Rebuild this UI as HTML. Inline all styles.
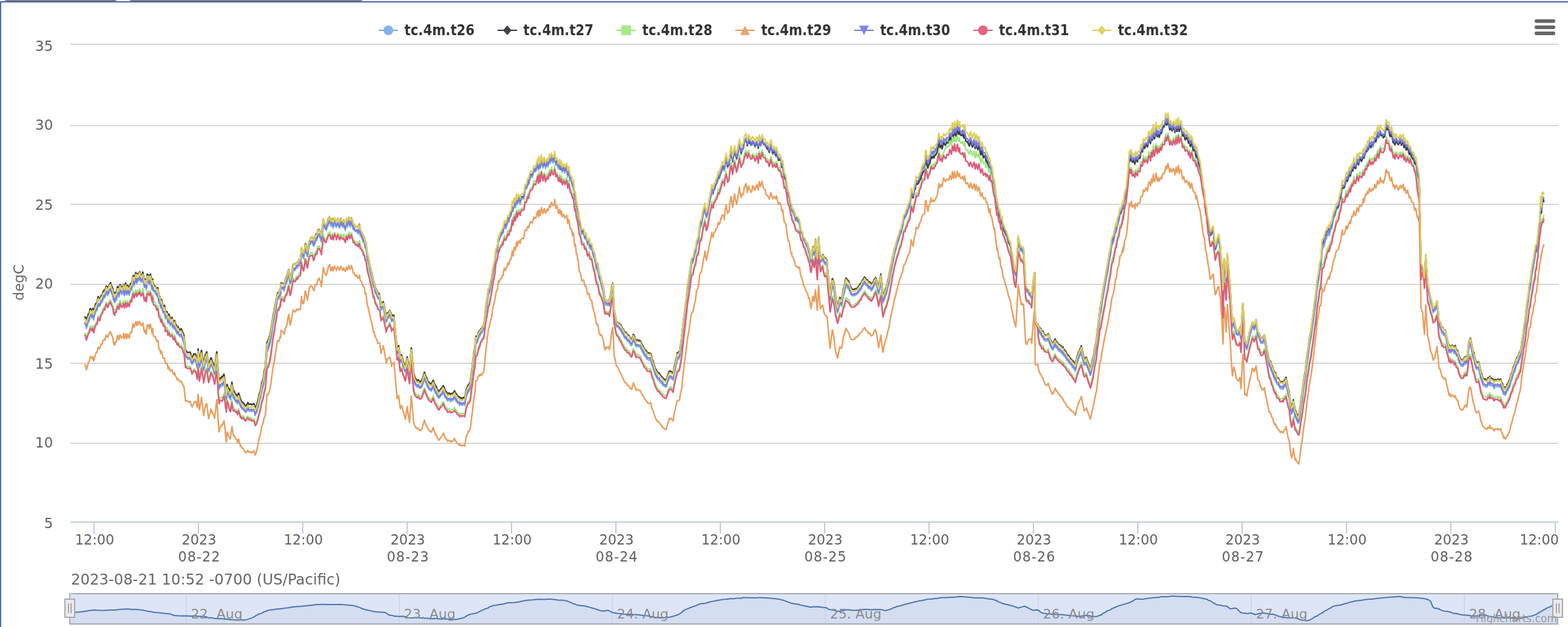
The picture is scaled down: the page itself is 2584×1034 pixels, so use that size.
<!DOCTYPE html>
<html><head><meta charset="utf-8"><title>tc.4m chart</title>
<style>
html,body{margin:0;padding:0;background:#fff;}
body{width:2584px;height:1034px;overflow:hidden;position:relative;}
svg{position:absolute;left:0;top:0;display:block;}
text{font-family:"DejaVu Sans","Liberation Sans",sans-serif;}
</style></head><body>
<svg width="2584" height="1034" viewBox="0 0 2584 1034">
<rect x="0" y="0" width="2584" height="1034" fill="#ffffff"/>

<rect x="3" y="-20" width="194" height="22" rx="9" fill="#808080"/>
<rect x="209" y="-20" width="393" height="22" rx="9" fill="#808080"/>
<rect x="0" y="2" width="2584" height="2" fill="#3d6399"/>
<rect x="0" y="2" width="2" height="1032" fill="#4a6ea3"/>
<rect x="116" y="72" width="2452" height="2" fill="#d5d5d5"/>
<rect x="116" y="206" width="2452" height="2" fill="#d5d5d5"/>
<rect x="116" y="336" width="2452" height="2" fill="#d5d5d5"/>
<rect x="116" y="468" width="2452" height="2" fill="#d5d5d5"/>
<rect x="116" y="598" width="2452" height="2" fill="#d5d5d5"/>
<rect x="116" y="730" width="2452" height="2" fill="#d5d5d5"/>
<rect x="116" y="860" width="2452" height="2" fill="#bfcbdc"/>
<rect x="154" y="862" width="2" height="18" fill="#bfcbdc"/>
<rect x="326" y="862" width="2" height="18" fill="#bfcbdc"/>
<rect x="498" y="862" width="2" height="18" fill="#bfcbdc"/>
<rect x="670" y="862" width="2" height="18" fill="#bfcbdc"/>
<rect x="842" y="862" width="2" height="18" fill="#bfcbdc"/>
<rect x="1014" y="862" width="2" height="18" fill="#bfcbdc"/>
<rect x="1186" y="862" width="2" height="18" fill="#bfcbdc"/>
<rect x="1358" y="862" width="2" height="18" fill="#bfcbdc"/>
<rect x="1530" y="862" width="2" height="18" fill="#bfcbdc"/>
<rect x="1702" y="862" width="2" height="18" fill="#bfcbdc"/>
<rect x="1874" y="862" width="2" height="18" fill="#bfcbdc"/>
<rect x="2046" y="862" width="2" height="18" fill="#bfcbdc"/>
<rect x="2218" y="862" width="2" height="18" fill="#bfcbdc"/>
<rect x="2390" y="862" width="2" height="18" fill="#bfcbdc"/>
<rect x="2562" y="862" width="2" height="18" fill="#bfcbdc"/>
<text x="87.3" y="84.3" font-size="23" fill="#606060" text-anchor="end">35</text>
<text x="87.3" y="214.1" font-size="23" fill="#606060" text-anchor="end">30</text>
<text x="87.3" y="346.1" font-size="23" fill="#606060" text-anchor="end">25</text>
<text x="87.3" y="476.4" font-size="23" fill="#606060" text-anchor="end">20</text>
<text x="87.3" y="608.0" font-size="23" fill="#606060" text-anchor="end">15</text>
<text x="87.3" y="738.1" font-size="23" fill="#606060" text-anchor="end">10</text>
<text x="87.3" y="870.6" font-size="23" fill="#606060" text-anchor="end">5</text>
<text transform="translate(39,466) rotate(-90)" font-size="23" fill="#666666" text-anchor="middle">degC</text>
<text x="156" y="898" font-size="22.4" fill="#606060" text-anchor="middle">12:00</text>
<text x="328" y="898" font-size="22.4" fill="#606060" text-anchor="middle">2023</text>
<text x="328" y="926" font-size="22.4" fill="#606060" text-anchor="middle" textLength="69" lengthAdjust="spacing">08-22</text>
<text x="500" y="898" font-size="22.4" fill="#606060" text-anchor="middle">12:00</text>
<text x="672" y="898" font-size="22.4" fill="#606060" text-anchor="middle">2023</text>
<text x="672" y="926" font-size="22.4" fill="#606060" text-anchor="middle" textLength="69" lengthAdjust="spacing">08-23</text>
<text x="844" y="898" font-size="22.4" fill="#606060" text-anchor="middle">12:00</text>
<text x="1016" y="898" font-size="22.4" fill="#606060" text-anchor="middle">2023</text>
<text x="1016" y="926" font-size="22.4" fill="#606060" text-anchor="middle" textLength="69" lengthAdjust="spacing">08-24</text>
<text x="1188" y="898" font-size="22.4" fill="#606060" text-anchor="middle">12:00</text>
<text x="1360" y="898" font-size="22.4" fill="#606060" text-anchor="middle">2023</text>
<text x="1360" y="926" font-size="22.4" fill="#606060" text-anchor="middle" textLength="69" lengthAdjust="spacing">08-25</text>
<text x="1532" y="898" font-size="22.4" fill="#606060" text-anchor="middle">12:00</text>
<text x="1704" y="898" font-size="22.4" fill="#606060" text-anchor="middle">2023</text>
<text x="1704" y="926" font-size="22.4" fill="#606060" text-anchor="middle" textLength="69" lengthAdjust="spacing">08-26</text>
<text x="1876" y="898" font-size="22.4" fill="#606060" text-anchor="middle">12:00</text>
<text x="2048" y="898" font-size="22.4" fill="#606060" text-anchor="middle">2023</text>
<text x="2048" y="926" font-size="22.4" fill="#606060" text-anchor="middle" textLength="69" lengthAdjust="spacing">08-27</text>
<text x="2220" y="898" font-size="22.4" fill="#606060" text-anchor="middle">12:00</text>
<text x="2392" y="898" font-size="22.4" fill="#606060" text-anchor="middle">2023</text>
<text x="2392" y="926" font-size="22.4" fill="#606060" text-anchor="middle" textLength="69" lengthAdjust="spacing">08-28</text>
<text x="2569" y="898" font-size="22.4" fill="#606060" text-anchor="end">12:00</text>
<g fill="none" stroke-width="2.5" stroke-linejoin="round" stroke-linecap="round">
<path stroke="#7eace4" d="M139.7 534.2L141.2 534.9 142.2 541.7 143.4 538.1 145.8 530.4 147.0 529.5 148.5 521.9 149.2 521.3 151.6 524.3 152.9 520.5 154.4 527.9 154.4 525.7 157.5 514.6 159.6 511.5 159.9 512.1 161.8 502.2 164.1 505.2 164.9 503.2 166.6 499.4 168.3 498.3 169.8 493.0 171.8 490.0 172.6 491.1 175.1 482.2 177.0 485.0 177.4 487.8 180.2 480.4 182.3 478.1 182.5 479.9 185.7 487.3 187.3 495.4 189.3 499.1 189.6 494.0 191.7 495.2 193.6 485.1 194.5 485.4 196.0 489.7 197.7 479.8 200.5 485.8 203.3 482.1 203.4 480.7 204.9 487.8 207.0 478.5 208.8 486.5 210.2 484.0 210.2 480.2 213.1 487.0 213.7 482.8 215.2 478.9 216.7 478.3 219.2 465.4 220.7 467.7 220.9 471.4 223.9 462.0 225.5 467.4 226.8 461.9 227.7 463.0 228.4 462.5 230.2 459.6 232.4 465.3 234.7 462.7 235.4 459.3 238.0 473.7 239.9 472.7 239.9 474.5 241.1 477.6 242.6 464.9 245.1 464.2 245.8 469.7 247.9 463.1 250.5 477.9 251.8 471.6 252.1 477.7 253.1 480.9 256.0 482.6 258.4 488.1 259.1 489.4 260.2 487.2 262.0 500.1 263.4 500.3 264.9 507.6 266.1 508.7 266.2 506.6 269.1 516.5 271.2 516.7 272.7 525.8 273.1 524.1 275.3 524.4 276.9 533.5 278.2 529.6 280.0 534.0 280.6 537.1 283.6 535.1 284.9 541.2 287.0 541.4 287.7 537.6 289.3 546.1 290.7 547.4 291.9 550.7 293.7 549.2 294.0 551.1 296.3 554.9 298.5 554.4 301.0 559.0 301.4 562.3 303.1 565.1 303.5 567.6 304.9 582.9 305.8 589.0 306.6 589.3 307.6 590.6 309.8 592.9 311.6 592.4 312.9 591.8 314.0 593.3 314.7 595.7 316.6 600.8 316.8 598.6 318.6 598.1 319.2 595.2 321.3 595.4 322.1 595.6 322.6 597.1 323.9 599.5 323.9 601.5 325.0 606.7 326.0 595.1 326.5 587.3 327.6 597.6 328.5 606.3 330.5 599.8 332.0 589.8 333.2 596.8 335.5 610.7 335.5 612.0 338.0 599.0 338.4 597.1 340.6 592.8 340.7 591.7 343.4 610.4 343.6 613.3 346.4 605.5 347.4 600.7 347.9 600.0 350.0 606.4 350.4 607.4 351.9 611.0 353.5 618.3 354.0 615.3 356.7 596.4 357.3 592.4 359.7 627.1 359.9 629.4 360.9 642.7 362.4 638.1 363.3 638.4 363.7 637.4 365.6 635.8 366.2 637.1 367.2 634.9 369.1 631.2 370.4 639.0 371.8 652.7 373.0 660.2 373.5 654.0 374.4 645.4 375.4 649.9 376.8 651.8 376.9 653.7 379.7 659.0 379.8 658.7 382.2 643.5 382.2 644.1 383.7 652.8 384.6 657.1 385.9 657.5 387.3 660.7 388.5 662.9 389.7 662.0 391.3 665.5 391.4 666.0 392.6 661.4 393.3 660.4 394.0 663.2 396.3 670.7 396.4 670.2 398.8 674.5 400.1 675.1 400.7 674.7 403.2 678.3 405.0 680.4 405.1 678.7 406.5 678.5 407.9 676.1 408.4 674.6 410.4 678.1 413.4 677.6 413.7 677.0 414.8 678.7 416.2 677.5 418.5 677.5 418.6 676.8 420.5 685.2 421.6 682.0 422.4 682.0 424.6 674.5 425.4 672.0 427.2 662.9 428.6 657.6 429.2 656.3 431.4 644.6 433.1 638.9 434.0 636.1 435.4 625.9 437.0 619.3 437.6 613.7 438.9 594.6 440.0 579.7 441.7 578.0 444.3 568.9 444.7 568.2 447.1 554.5 449.8 535.5 450.5 531.9 451.6 526.9 454.4 510.9 456.1 501.0 456.3 496.8 457.5 492.6 459.5 493.3 461.7 484.8 462.1 488.0 463.3 475.4 463.5 476.6 465.9 475.9 467.9 478.9 468.3 479.7 470.0 470.4 471.4 466.8 472.4 466.7 474.3 456.8 476.0 453.1 477.0 461.7 478.4 468.5 478.8 467.3 481.6 454.6 483.0 445.9 483.6 444.0 485.9 446.1 488.5 441.4 488.8 440.6 490.7 441.4 492.4 436.7 494.7 438.4 495.6 431.3 497.0 415.4 497.0 417.4 498.8 423.7 500.5 426.7 501.1 420.4 502.4 415.5 502.8 411.3 503.9 411.9 506.3 422.7 506.7 423.0 509.5 404.3 511.9 402.5 512.1 399.6 514.9 399.5 516.7 405.9 517.6 405.4 519.4 398.7 521.4 396.6 521.9 396.2 523.8 389.5 526.0 390.2 526.5 390.4 528.5 393.9 529.5 399.2 530.0 394.8 532.9 369.1 533.0 371.5 535.5 377.1 537.7 379.4 538.2 377.1 540.5 372.4 541.2 368.7 543.3 366.5 545.4 373.1 547.0 373.0 547.7 369.8 549.0 375.9 551.4 367.5 554.0 375.1 554.2 375.1 556.8 369.3 559.6 376.4 560.0 374.0 561.8 368.3 562.2 370.3 564.8 375.0 566.2 371.7 569.1 379.9 570.0 374.5 571.1 370.8 572.5 374.3 574.9 366.2 575.8 368.4 577.0 374.6 579.1 368.7 581.6 375.5 582.0 378.6 583.4 378.8 585.9 381.9 587.9 381.4 588.6 382.7 590.2 385.7 592.4 379.1 593.3 386.6 593.8 388.7 596.0 391.8 597.9 396.7 599.0 399.8 600.5 400.4 601.7 408.6 602.6 409.2 603.1 407.7 605.2 425.1 607.2 433.5 608.3 438.7 609.6 446.7 611.9 455.4 612.8 460.0 615.1 471.6 616.5 474.5 616.5 473.6 618.6 483.5 620.2 485.1 621.2 487.8 622.8 491.8 625.1 493.4 625.8 495.5 626.9 504.1 628.1 511.5 628.6 508.7 631.5 509.2 631.6 506.0 634.2 520.2 636.3 530.0 636.3 531.3 638.3 525.4 641.0 523.8 642.1 519.4 644.1 524.2 645.5 530.2 645.6 529.1 647.0 529.1 648.9 529.9 649.1 527.6 649.7 532.8 650.7 544.6 651.2 548.0 652.5 564.6 652.6 563.7 653.8 575.9 654.5 581.7 655.4 583.1 657.0 578.3 657.4 581.0 659.4 597.0 660.1 598.0 661.8 594.3 662.5 596.5 663.8 603.2 664.2 604.4 665.1 606.2 667.2 612.3 668.1 614.1 670.1 602.1 671.0 595.9 673.1 609.4 674.9 618.4 675.1 616.5 677.8 583.2 678.0 586.9 679.3 598.6 681.1 619.4 681.6 626.0 683.1 631.8 684.9 635.8 685.8 636.4 687.7 638.5 689.1 636.9 689.3 637.1 691.6 640.5 693.0 639.7 693.2 640.0 695.5 637.6 696.5 633.9 698.3 628.6 699.4 625.3 701.4 630.5 703.1 633.9 703.4 635.2 704.9 639.3 707.2 642.4 707.9 643.2 710.5 644.3 710.8 645.0 713.8 638.4 714.0 638.7 716.3 645.4 717.9 648.8 718.9 648.5 720.8 654.0 722.4 655.0 722.9 656.9 724.2 656.1 726.8 651.7 727.0 652.3 728.7 650.6 730.3 647.5 731.3 648.8 733.5 655.2 734.4 656.9 735.6 656.9 737.7 661.4 738.7 660.3 740.2 659.2 742.4 661.4 742.6 662.5 743.9 660.4 745.9 660.5 747.0 658.9 749.2 656.4 749.2 657.5 751.0 660.5 752.6 662.1 753.3 664.0 755.0 665.1 757.0 665.8 757.5 668.4 758.4 667.3 759.7 666.7 761.6 668.5 761.7 667.8 764.0 666.2 765.7 668.4 766.3 665.5 768.2 654.6 769.3 651.7 771.5 646.1 772.3 646.4 774.8 641.4 775.4 637.7 777.2 622.0 778.2 615.8 780.3 597.5 780.5 595.1 782.6 583.5 784.1 566.1 784.6 566.7 786.6 565.2 787.9 559.5 790.0 554.9 790.6 554.8 792.3 550.3 793.6 549.9 795.7 545.3 797.0 544.2 798.4 534.8 800.4 515.1 801.6 507.6 802.4 503.4 804.9 485.2 806.4 483.7 807.6 476.5 808.6 471.7 810.0 465.6 812.3 451.3 815.2 436.6 815.6 434.1 817.2 417.7 820.0 410.2 821.3 397.4 822.5 397.6 822.6 396.1 824.9 390.0 826.6 388.3 827.9 383.9 829.3 384.3 829.6 380.1 831.3 372.6 833.2 377.1 835.5 371.6 836.6 365.2 838.5 366.1 840.4 357.3 842.0 356.9 843.6 347.8 844.3 341.4 845.5 349.1 847.5 334.8 849.3 342.7 850.5 335.0 851.3 329.0 852.6 337.0 854.9 329.6 857.4 337.1 857.5 331.1 860.1 328.0 863.2 327.4 864.5 319.2 865.1 312.2 867.6 311.6 869.7 303.0 871.3 304.9 871.5 302.7 874.3 292.2 877.0 292.3 880.1 281.8 880.8 283.0 882.9 283.0 886.0 270.5 887.4 280.7 888.6 267.2 890.1 275.9 890.2 277.7 892.3 264.9 894.8 277.1 896.9 268.2 899.1 277.7 901.8 270.7 901.9 270.1 903.2 275.0 905.8 263.4 907.1 269.1 908.8 261.4 911.4 268.7 913.4 265.3 914.0 257.2 916.0 272.5 917.8 269.9 920.6 278.9 922.4 274.2 923.6 280.0 925.1 277.4 925.3 275.9 926.6 284.6 929.4 278.3 930.8 285.2 934.0 278.9 935.6 291.6 936.7 283.6 937.4 283.6 939.8 298.5 941.6 298.5 943.6 308.2 943.7 304.5 945.0 306.8 947.0 325.4 948.2 325.5 949.9 341.1 950.7 340.8 952.9 354.4 954.6 368.6 956.4 373.4 957.7 378.1 958.9 386.2 961.9 385.7 963.7 393.8 964.7 392.0 965.6 392.6 968.3 403.8 971.1 400.4 971.6 409.1 973.5 411.4 975.0 409.3 976.6 417.4 978.6 424.2 979.3 424.5 981.9 437.7 983.3 445.0 984.9 445.5 987.7 460.1 989.7 465.2 990.3 467.8 991.2 471.7 994.2 482.8 996.8 500.8 997.3 503.1 999.1 502.3 1001.7 503.8 1003.7 500.4 1004.3 504.4 1005.5 497.9 1007.9 481.1 1009.8 475.0 1010.1 479.9 1012.1 519.3 1012.7 521.5 1015.7 537.5 1016.4 538.9 1018.6 539.5 1020.6 542.6 1020.7 542.3 1022.6 544.6 1024.9 548.5 1025.6 550.3 1027.6 553.0 1028.2 555.8 1030.4 558.5 1031.8 557.9 1032.4 559.2 1033.9 562.9 1036.1 563.2 1037.8 565.9 1038.9 568.9 1041.0 570.0 1041.9 566.1 1043.4 563.2 1043.7 560.9 1045.8 565.0 1048.3 572.1 1048.4 571.7 1049.8 570.4 1052.7 571.9 1053.8 571.9 1055.0 572.1 1058.1 579.5 1059.1 580.9 1059.7 581.7 1061.9 586.1 1063.8 588.4 1065.5 590.2 1066.3 592.3 1068.7 593.5 1070.9 594.3 1071.9 592.8 1072.7 595.1 1074.9 603.9 1076.2 606.4 1076.9 608.9 1079.9 618.5 1081.5 621.5 1082.0 622.2 1084.1 626.4 1085.9 626.3 1086.9 628.4 1087.6 629.9 1090.7 632.5 1092.2 634.9 1092.5 635.4 1095.4 637.2 1097.5 638.3 1097.8 638.3 1101.0 628.4 1102.5 624.7 1102.9 623.3 1105.6 622.7 1106.1 623.8 1108.4 625.4 1109.3 627.1 1110.7 617.7 1112.5 610.9 1113.3 606.3 1115.7 595.3 1116.0 593.2 1118.0 592.9 1120.0 589.2 1120.5 583.9 1122.2 575.5 1123.2 569.2 1123.4 565.6 1126.0 543.6 1126.4 538.8 1128.1 525.3 1129.6 514.8 1130.0 509.3 1131.1 500.1 1132.9 481.2 1135.7 464.6 1138.9 440.5 1140.0 434.7 1141.9 433.2 1145.0 418.6 1145.8 417.9 1146.5 417.5 1148.0 405.0 1149.7 401.3 1151.6 394.5 1151.6 391.2 1153.1 379.9 1153.1 377.1 1154.6 373.1 1155.8 373.0 1156.2 370.7 1158.9 354.2 1159.3 353.8 1160.8 348.9 1161.6 342.8 1163.2 353.5 1164.0 359.3 1165.3 356.2 1167.1 348.2 1168.0 341.6 1170.2 328.2 1170.8 327.6 1172.5 317.4 1172.8 314.6 1175.1 321.0 1175.6 318.6 1176.5 312.4 1178.2 312.4 1178.7 308.0 1179.9 305.7 1181.7 302.3 1181.8 302.6 1183.6 292.6 1184.9 294.9 1185.9 293.3 1187.8 284.7 1188.0 286.5 1189.6 281.7 1190.4 275.2 1192.5 280.2 1193.5 280.7 1193.7 282.3 1194.9 271.3 1196.2 267.1 1196.6 262.8 1198.9 275.4 1199.2 276.8 1201.6 272.0 1202.0 267.7 1204.3 251.9 1205.1 251.8 1207.4 267.6 1207.5 263.7 1209.0 257.0 1210.6 247.8 1212.1 256.6 1213.7 261.5 1213.8 263.4 1216.0 253.7 1216.8 247.0 1218.6 239.1 1219.1 241.6 1221.4 254.2 1221.4 253.6 1223.1 248.4 1224.5 246.9 1225.2 244.8 1226.5 236.1 1227.6 232.5 1228.3 232.9 1229.2 229.1 1231.4 238.2 1231.5 239.6 1233.9 229.7 1234.4 236.7 1236.8 236.6 1237.0 240.1 1239.6 239.2 1240.1 235.2 1242.6 237.2 1243.2 240.3 1244.5 243.3 1246.3 237.9 1247.6 236.3 1249.4 245.0 1249.7 244.3 1251.2 232.3 1253.5 241.2 1255.9 230.0 1256.4 233.9 1258.5 239.1 1261.0 239.2 1262.3 242.9 1264.1 245.8 1264.8 244.0 1267.8 251.7 1270.3 240.9 1271.9 248.3 1273.5 254.8 1275.7 250.1 1278.5 258.6 1279.6 251.4 1280.0 252.3 1283.0 264.6 1285.1 262.3 1287.4 266.8 1288.0 276.1 1289.9 271.3 1292.3 291.0 1293.2 293.9 1295.2 297.3 1297.8 316.8 1299.0 322.4 1300.3 324.1 1303.4 340.9 1304.8 342.7 1304.9 348.0 1306.2 350.1 1308.5 354.1 1310.7 362.1 1311.6 364.6 1314.2 364.4 1316.0 367.6 1316.5 368.1 1317.4 368.9 1319.5 381.6 1320.0 385.2 1321.7 386.4 1323.8 395.7 1324.4 396.5 1326.3 398.7 1328.0 403.7 1328.7 405.2 1331.0 409.5 1332.7 417.2 1333.1 416.5 1334.2 420.7 1336.1 432.2 1336.7 433.8 1339.1 416.6 1339.6 413.6 1340.6 419.9 1341.8 421.5 1342.4 416.1 1344.0 404.2 1345.5 423.4 1346.9 436.9 1347.3 428.1 1349.1 400.4 1350.2 414.7 1351.5 426.9 1352.0 433.3 1354.5 430.4 1355.6 427.1 1356.2 427.6 1357.7 432.7 1359.3 435.9 1360.4 435.1 1362.9 438.8 1363.6 447.9 1364.4 458.2 1366.7 482.2 1368.0 496.0 1369.4 486.3 1371.7 471.6 1372.5 471.9 1374.6 479.9 1375.6 488.2 1377.5 502.4 1377.9 503.5 1379.4 512.1 1380.4 515.8 1382.3 508.1 1384.0 501.3 1384.3 502.1 1386.1 502.7 1386.9 504.8 1388.3 497.0 1389.6 488.8 1390.8 485.1 1391.3 483.7 1392.6 477.4 1394.2 471.7 1395.0 472.6 1397.7 476.0 1399.3 477.0 1400.8 482.1 1402.9 486.2 1403.6 487.5 1406.7 487.5 1408.8 487.8 1409.2 486.6 1411.8 485.6 1413.1 484.8 1414.2 482.1 1415.6 482.1 1416.9 479.0 1418.9 477.0 1419.6 475.5 1421.2 471.7 1424.0 468.2 1424.8 466.7 1426.1 468.5 1427.3 470.9 1429.7 472.0 1430.6 475.2 1431.8 475.8 1433.1 474.5 1434.8 478.0 1436.4 479.7 1436.6 477.8 1438.5 476.4 1441.1 469.8 1442.7 468.5 1442.9 466.6 1444.8 472.1 1447.2 482.2 1448.0 485.2 1450.3 471.8 1451.7 464.4 1451.7 465.4 1453.1 478.8 1454.6 494.6 1455.3 499.4 1456.3 496.5 1457.8 493.3 1459.2 487.5 1459.7 487.6 1460.8 484.7 1462.4 476.9 1464.0 471.3 1464.6 469.1 1467.1 454.1 1468.4 448.2 1469.0 445.2 1469.6 442.9 1470.5 435.8 1471.9 431.5 1473.7 421.3 1474.9 416.6 1475.2 416.5 1477.4 407.2 1480.3 397.9 1480.3 398.9 1482.9 388.8 1484.5 385.6 1485.6 382.3 1485.8 378.6 1487.2 376.7 1489.2 363.1 1489.9 362.3 1491.2 360.6 1493.7 353.9 1495.1 352.3 1495.2 349.7 1496.8 345.8 1499.4 340.7 1499.4 339.6 1501.6 321.5 1501.7 319.4 1503.9 326.5 1504.8 326.3 1506.9 315.2 1508.4 311.7 1510.0 299.9 1510.1 303.2 1512.3 301.6 1514.4 299.4 1514.6 296.1 1517.8 290.2 1518.6 284.9 1520.9 278.0 1523.3 277.6 1524.0 276.1 1525.0 259.3 1526.0 257.5 1528.6 271.0 1529.3 273.0 1530.1 268.6 1532.5 263.7 1534.3 252.9 1534.6 255.1 1536.2 255.0 1537.7 252.8 1539.0 255.9 1540.0 252.7 1541.9 249.6 1543.2 246.0 1544.5 244.2 1547.2 229.2 1547.4 231.7 1549.0 238.8 1551.0 235.3 1551.7 238.1 1552.6 240.8 1555.0 231.0 1557.8 234.9 1560.0 230.8 1560.6 229.7 1563.7 232.0 1564.2 224.8 1565.4 222.5 1568.0 228.2 1569.4 216.0 1571.7 224.2 1573.1 211.2 1574.1 220.7 1575.4 222.9 1577.7 211.3 1579.6 219.8 1581.5 213.5 1581.5 220.4 1584.1 222.4 1586.3 218.9 1588.3 226.5 1588.9 225.5 1589.7 219.3 1591.5 232.8 1594.4 235.0 1597.5 240.5 1598.8 234.5 1599.5 232.2 1602.4 242.2 1605.4 233.5 1607.0 245.5 1608.7 238.8 1608.7 235.8 1611.3 246.4 1613.1 237.8 1616.3 254.5 1618.2 248.0 1618.6 250.3 1620.8 257.1 1623.5 255.9 1625.1 263.2 1626.0 261.8 1628.0 266.2 1629.9 275.7 1631.3 269.6 1632.6 280.6 1633.4 278.9 1634.7 283.4 1637.2 300.1 1638.4 306.0 1638.9 305.8 1641.8 329.5 1643.3 338.8 1643.5 335.4 1646.4 353.7 1647.7 351.8 1649.4 365.7 1650.7 364.4 1650.9 362.8 1653.0 375.5 1654.9 378.2 1656.9 384.6 1658.2 386.3 1659.8 389.6 1662.2 400.6 1664.6 405.0 1665.6 409.0 1666.6 416.6 1669.4 433.0 1670.5 440.9 1671.6 449.1 1674.0 455.1 1674.3 451.1 1677.3 409.6 1677.9 397.4 1679.7 403.3 1681.8 413.3 1682.9 414.4 1683.5 412.0 1686.6 419.1 1686.8 415.4 1689.3 458.9 1690.3 474.9 1692.1 481.7 1693.7 482.3 1695.2 482.8 1695.8 487.1 1698.8 488.5 1700.2 492.9 1700.5 489.9 1703.3 460.8 1705.1 449.5 1705.6 492.5 1706.0 531.5 1707.2 532.1 1709.2 536.4 1710.5 538.2 1711.0 543.7 1713.1 549.2 1715.7 552.4 1717.0 556.1 1717.6 556.0 1718.8 555.9 1721.5 562.1 1722.5 562.1 1723.1 562.3 1725.4 562.3 1727.5 559.6 1728.2 561.9 1730.5 569.3 1732.0 572.5 1734.1 576.5 1735.0 576.8 1737.7 571.7 1739.0 568.5 1740.0 572.5 1741.9 574.0 1744.3 578.0 1745.6 578.8 1746.2 578.0 1747.7 580.9 1749.1 581.1 1750.4 583.7 1752.0 583.3 1752.2 584.9 1753.6 587.1 1756.1 589.4 1758.5 594.2 1758.8 595.0 1760.9 596.2 1763.7 600.5 1765.1 601.6 1767.1 604.5 1767.1 605.5 1768.4 606.0 1770.5 609.1 1771.8 610.7 1772.0 611.9 1773.2 607.7 1774.6 600.4 1776.5 594.3 1777.0 592.7 1779.3 587.3 1781.0 585.0 1781.9 581.7 1783.7 590.0 1785.4 597.4 1786.9 602.6 1787.2 602.5 1789.3 601.1 1790.2 599.0 1790.6 601.0 1792.7 608.4 1795.1 613.9 1796.8 619.3 1798.0 615.7 1799.3 609.1 1801.7 599.9 1802.1 597.4 1804.4 583.1 1806.7 573.0 1806.8 570.5 1808.1 558.2 1811.0 537.2 1812.8 518.8 1813.9 516.8 1815.1 507.2 1817.4 492.3 1820.4 475.9 1821.3 470.0 1822.8 461.4 1826.0 445.7 1827.6 432.3 1830.2 420.2 1831.2 410.4 1832.5 404.5 1834.7 400.2 1837.2 388.0 1838.7 380.4 1839.5 383.4 1841.4 371.5 1843.8 364.8 1845.2 356.1 1845.5 353.1 1847.4 352.6 1849.5 344.7 1851.1 336.6 1851.1 344.5 1853.4 325.7 1856.0 316.1 1856.6 308.7 1857.4 301.2 1859.2 284.0 1860.5 264.9 1861.4 258.0 1862.9 262.5 1864.3 257.1 1866.0 267.9 1867.6 266.4 1868.1 263.2 1870.2 269.1 1871.4 261.0 1874.5 266.2 1875.0 261.3 1876.2 259.1 1878.6 259.3 1880.2 247.9 1882.4 249.7 1882.6 250.0 1884.5 238.7 1886.4 244.0 1888.5 239.1 1889.7 238.4 1890.9 241.6 1893.3 229.7 1895.3 232.3 1895.9 237.2 1897.6 223.8 1899.0 231.4 1900.7 218.4 1900.8 224.9 1902.6 229.4 1905.0 213.3 1907.0 224.8 1908.2 218.9 1908.8 219.2 1910.2 225.1 1912.6 218.2 1914.0 220.6 1915.5 213.3 1916.3 210.7 1918.8 209.8 1921.3 199.3 1921.8 202.7 1922.8 205.9 1924.7 198.1 1927.8 214.1 1928.4 210.6 1929.2 209.5 1931.7 214.9 1933.8 209.2 1935.8 213.9 1936.2 217.6 1938.2 205.0 1939.7 214.9 1942.0 203.4 1943.2 214.2 1943.2 215.5 1946.1 206.3 1948.9 222.9 1950.5 221.2 1950.9 219.5 1953.2 226.9 1955.4 225.5 1957.9 228.9 1958.6 233.1 1959.9 230.3 1961.7 239.6 1963.7 231.8 1965.3 239.5 1966.4 245.9 1969.1 245.4 1971.2 256.7 1972.4 249.4 1972.6 253.3 1974.9 265.3 1976.9 270.9 1978.2 275.8 1978.3 277.8 1980.8 295.4 1981.9 302.9 1982.9 312.0 1984.7 317.2 1985.5 327.3 1986.4 337.2 1988.7 347.3 1989.2 355.5 1990.4 362.2 1990.7 367.1 1992.3 373.0 1992.6 376.5 1994.5 388.5 1995.4 388.6 1997.0 386.3 1997.6 382.1 1999.3 382.8 1999.4 380.6 2000.9 396.4 2001.5 400.4 2002.8 412.3 2004.6 406.7 2005.2 403.1 2007.5 397.6 2008.6 395.7 2010.1 408.3 2011.0 413.4 2013.0 443.6 2013.1 444.4 2015.5 491.6 2015.8 483.0 2016.9 439.5 2018.3 439.9 2018.8 442.0 2020.4 465.0 2020.7 468.0 2021.9 442.6 2022.7 426.7 2024.5 446.0 2024.6 446.8 2026.1 468.5 2027.0 476.3 2027.2 480.0 2029.5 518.8 2030.2 528.7 2031.1 540.3 2032.0 536.6 2033.4 531.9 2034.9 540.3 2036.6 546.5 2037.3 551.2 2039.7 552.9 2041.1 553.2 2042.9 547.5 2043.5 547.1 2044.2 554.4 2045.0 560.6 2046.0 544.7 2048.1 509.5 2049.2 523.1 2049.7 527.2 2051.2 571.2 2052.3 571.1 2054.9 576.6 2055.1 575.3 2056.4 568.8 2057.6 564.2 2059.3 554.7 2059.8 554.2 2062.4 545.2 2063.7 539.0 2065.2 539.8 2066.8 544.2 2067.2 543.3 2069.9 536.5 2069.9 535.3 2072.9 555.7 2073.0 555.8 2074.7 556.8 2077.7 565.8 2079.2 566.2 2079.4 566.3 2081.3 565.8 2082.6 562.0 2083.9 559.8 2084.1 562.4 2086.4 574.4 2087.0 578.1 2087.7 582.2 2089.9 593.4 2091.5 603.4 2091.6 604.3 2094.2 606.5 2094.8 610.4 2095.6 612.6 2097.3 615.9 2099.0 622.5 2101.4 627.2 2101.8 626.2 2104.2 633.7 2106.9 635.4 2108.8 638.5 2109.6 641.2 2112.1 640.4 2114.0 640.5 2114.4 642.1 2116.3 637.5 2117.9 637.7 2119.3 633.7 2120.8 641.2 2122.8 650.8 2124.5 656.2 2125.3 661.6 2126.6 673.9 2128.0 681.7 2128.6 682.9 2130.0 679.5 2131.5 670.4 2131.9 674.1 2134.5 688.8 2135.0 687.8 2136.4 691.6 2139.0 697.8 2140.2 697.8 2140.4 695.8 2142.4 684.9 2144.4 668.5 2145.5 663.8 2146.6 654.7 2148.3 641.5 2150.7 626.4 2150.9 625.4 2153.9 599.1 2156.0 586.0 2156.7 580.2 2157.9 569.9 2160.1 559.6 2161.2 552.0 2162.0 545.2 2164.4 528.4 2165.7 516.6 2166.5 511.6 2168.4 496.8 2170.4 477.3 2171.7 468.6 2173.5 460.2 2174.7 446.4 2176.8 442.4 2176.9 437.2 2178.9 410.2 2179.0 410.9 2181.8 406.4 2184.5 395.2 2186.1 393.2 2186.4 389.5 2187.9 387.5 2190.0 382.4 2190.6 388.7 2192.6 377.6 2194.3 378.3 2194.8 374.3 2197.4 360.4 2199.6 356.7 2200.3 353.9 2202.2 345.4 2204.5 343.5 2206.0 339.3 2207.6 329.0 2209.2 325.4 2212.2 306.4 2212.4 311.2 2215.2 309.2 2217.8 299.5 2218.8 293.9 2220.4 299.3 2223.0 289.3 2225.2 284.5 2225.3 291.4 2227.6 281.0 2229.2 281.9 2231.5 271.0 2231.6 276.5 2234.1 277.6 2236.3 266.0 2238.8 272.8 2239.6 266.8 2240.9 262.7 2243.7 266.3 2246.0 260.8 2246.4 258.3 2247.8 261.3 2250.5 250.8 2252.3 250.7 2252.4 249.1 2253.6 245.2 2255.1 248.0 2256.9 237.8 2258.8 243.9 2259.2 243.4 2261.0 238.1 2262.6 242.3 2265.2 233.6 2265.4 232.2 2267.3 234.5 2270.3 222.4 2272.0 227.5 2273.9 222.3 2274.5 218.2 2276.5 224.2 2279.4 223.7 2279.6 227.3 2281.9 224.6 2284.4 207.9 2285.8 210.5 2286.0 212.1 2288.5 211.2 2290.4 222.8 2292.4 224.2 2293.1 219.9 2296.0 235.7 2297.4 231.4 2298.7 238.2 2300.4 231.0 2301.4 233.3 2304.5 238.5 2307.5 233.0 2308.4 233.0 2309.6 237.3 2312.4 230.6 2313.7 240.6 2315.0 236.3 2316.4 240.6 2317.4 244.8 2319.6 240.3 2322.5 251.4 2322.8 250.5 2324.1 247.0 2326.3 255.6 2329.2 259.1 2329.4 258.4 2331.3 267.3 2332.4 266.0 2333.3 268.2 2335.5 282.9 2335.7 286.4 2338.6 300.3 2338.9 309.5 2340.2 363.7 2340.4 377.0 2341.7 442.1 2343.0 441.7 2344.8 443.1 2345.0 445.4 2347.0 460.8 2347.3 463.9 2348.8 439.4 2349.5 423.9 2350.9 445.8 2352.6 474.2 2353.2 478.7 2355.2 484.8 2357.3 496.9 2357.4 497.9 2359.9 504.7 2361.9 515.4 2362.8 514.1 2365.0 512.3 2365.1 511.5 2367.1 506.9 2368.1 503.2 2370.2 524.1 2371.2 536.0 2371.8 538.6 2373.1 540.1 2375.9 548.3 2376.1 549.8 2377.8 549.1 2379.3 553.0 2381.3 553.2 2382.1 553.4 2383.2 559.6 2385.1 568.5 2386.8 575.0 2388.0 581.7 2389.3 577.0 2389.8 580.2 2391.2 581.8 2392.9 577.8 2396.0 581.1 2396.3 583.3 2398.0 579.8 2399.9 586.4 2402.7 588.4 2403.3 593.7 2405.8 600.1 2408.0 603.6 2408.5 603.9 2410.8 604.4 2412.5 601.0 2413.8 598.3 2414.4 600.7 2416.8 597.5 2417.3 600.3 2418.5 591.3 2420.2 576.6 2421.8 569.9 2422.5 568.3 2423.5 569.3 2426.4 583.9 2427.7 591.2 2429.2 592.9 2430.6 601.9 2432.5 606.9 2433.0 608.8 2435.2 609.1 2436.5 607.3 2438.1 613.7 2440.4 625.6 2441.7 627.9 2443.0 632.2 2444.7 636.4 2447.5 636.8 2448.7 637.9 2450.3 638.6 2452.3 634.2 2454.0 634.8 2455.3 631.0 2455.7 636.2 2457.7 635.1 2460.2 636.2 2461.4 639.7 2462.6 640.7 2463.6 636.8 2466.7 637.8 2467.9 636.7 2468.0 636.3 2469.5 637.7 2470.8 637.2 2472.8 639.2 2473.1 636.7 2474.8 643.1 2476.6 645.6 2477.8 650.6 2479.1 649.1 2480.7 652.0 2481.8 649.5 2483.8 644.5 2485.0 643.7 2486.7 638.7 2487.1 639.8 2488.7 634.1 2489.9 628.8 2491.7 625.7 2494.0 616.3 2494.1 616.0 2496.5 612.0 2498.9 602.6 2501.0 599.8 2501.4 599.9 2503.9 592.4 2505.1 591.1 2506.3 585.8 2507.6 574.7 2510.0 560.3 2511.5 547.7 2511.6 548.0 2513.7 534.4 2515.4 517.3 2516.7 506.5 2518.3 498.4 2520.1 480.7 2521.6 477.0 2522.0 473.2 2524.4 453.9 2525.5 449.1 2526.4 443.2 2527.1 438.4 2530.0 422.8 2530.0 418.1 2532.2 415.3 2532.6 411.5 2534.4 396.8 2534.6 392.5 2535.9 380.6 2536.7 374.9 2537.3 370.7 2538.8 341.0 2539.1 342.7 2540.2 350.7 2541.4 337.3 2541.7 332.9 2543.1 331.9 2544.1 332.9"/>
<path stroke="#3c3b42" d="M139.7 522.9L141.2 523.3 142.2 529.3 143.4 525.4 145.8 517.4 147.0 516.4 148.5 508.9 149.2 509.3 151.6 513.1 152.9 508.5 154.4 515.1 154.4 513.7 157.5 501.3 159.6 499.4 159.9 498.2 161.8 489.1 164.1 493.8 164.9 492.3 166.6 487.6 168.3 487.3 169.8 481.3 171.8 478.3 172.6 479.7 175.1 471.6 177.0 473.7 177.4 475.3 180.2 469.7 182.3 466.1 182.5 468.9 185.7 475.3 187.3 484.3 189.3 488.5 189.6 482.1 191.7 482.8 193.6 472.6 194.5 472.8 196.0 477.0 197.7 469.2 200.5 475.3 203.3 469.9 203.4 469.2 204.9 477.3 207.0 466.6 208.8 476.1 210.2 472.0 210.2 470.6 213.1 474.1 213.7 472.6 215.2 467.4 216.7 468.8 219.2 455.0 220.7 454.7 220.9 459.4 223.9 449.4 225.5 456.1 226.8 451.3 227.7 451.3 228.4 451.2 230.2 448.1 232.4 453.6 234.7 452.4 235.4 448.7 238.0 463.1 239.9 460.6 239.9 461.3 241.1 466.0 242.6 452.1 245.1 453.8 245.8 460.0 247.9 452.0 250.5 464.9 251.8 460.2 252.1 465.2 253.1 469.3 256.0 472.6 258.4 476.8 259.1 475.9 260.2 474.3 262.0 487.7 263.4 489.1 264.9 495.7 266.1 496.2 266.2 493.8 269.1 506.3 271.2 503.6 272.7 514.1 273.1 514.0 275.3 514.0 276.9 522.6 278.2 518.0 280.0 523.6 280.6 525.9 283.6 523.6 284.9 530.4 287.0 531.3 287.7 528.4 289.3 534.7 290.7 536.1 291.9 539.8 293.7 538.8 294.0 540.8 296.3 544.3 298.5 542.1 301.0 547.6 301.4 548.8 303.1 552.6 303.5 556.2 304.9 570.4 305.8 578.3 306.6 578.1 307.6 580.5 309.8 581.2 311.6 580.9 312.9 580.5 314.0 582.1 314.7 585.9 316.6 590.3 316.8 588.0 318.6 586.3 319.2 583.7 321.3 583.5 322.1 583.8 322.6 586.1 323.9 588.4 323.9 589.2 325.0 594.4 326.0 583.6 326.5 575.5 327.6 584.8 328.5 593.3 330.5 585.8 332.0 577.7 333.2 585.3 335.5 598.3 335.5 599.6 338.0 587.1 338.4 585.4 340.6 580.7 340.7 580.2 343.4 599.7 343.6 602.2 346.4 594.2 347.4 590.6 347.9 590.0 350.0 596.4 350.4 597.1 351.9 600.9 353.5 606.8 354.0 604.5 356.7 583.8 357.3 580.2 359.7 613.7 359.9 615.6 360.9 628.6 362.4 623.8 363.3 624.0 363.7 624.1 365.6 620.9 366.2 622.3 367.2 620.6 369.1 617.0 370.4 625.8 371.8 639.7 373.0 647.6 373.5 642.0 374.4 634.1 375.4 638.0 376.8 640.2 376.9 640.3 379.7 646.1 379.8 645.5 382.2 630.3 382.2 631.1 383.7 639.9 384.6 643.8 385.9 644.9 387.3 648.8 388.5 651.1 389.7 650.7 391.3 653.8 391.4 654.4 392.6 648.9 393.3 648.3 394.0 650.3 396.3 658.7 396.4 658.2 398.8 663.4 400.1 664.2 400.7 663.8 403.2 667.9 405.0 669.7 405.1 668.9 406.5 667.9 407.9 665.5 408.4 664.0 410.4 666.9 413.4 666.3 413.7 666.4 414.8 667.6 416.2 666.6 418.5 666.6 418.6 665.4 420.5 672.5 421.6 670.2 422.4 669.9 424.6 661.7 425.4 658.8 427.2 649.8 428.6 645.8 429.2 643.5 431.4 631.1 433.1 626.4 434.0 622.9 435.4 612.2 437.0 606.1 437.6 598.5 438.9 579.2 440.0 564.8 441.7 561.9 444.3 553.6 444.7 553.4 447.1 540.2 449.8 522.3 450.5 519.1 451.6 513.9 454.4 498.2 456.1 489.9 456.3 487.2 457.5 482.7 459.5 483.6 461.7 476.5 462.1 477.7 463.3 466.5 463.5 469.3 465.9 467.1 467.9 469.2 468.3 469.3 470.0 461.7 471.4 457.8 472.4 456.3 474.3 448.4 476.0 444.6 477.0 451.8 478.4 459.8 478.8 458.7 481.6 445.4 483.0 435.8 483.6 436.0 485.9 436.0 488.5 432.7 488.8 432.9 490.7 434.6 492.4 428.1 494.7 429.6 495.6 422.3 497.0 408.8 497.0 410.0 498.8 415.5 500.5 416.1 501.1 413.9 502.4 408.5 502.8 402.0 503.9 402.2 506.3 414.3 506.7 413.9 509.5 397.7 511.9 394.2 512.1 391.8 514.9 390.7 516.7 396.7 517.6 396.2 519.4 388.7 521.4 385.2 521.9 387.9 523.8 379.4 526.0 378.4 526.5 380.9 528.5 383.5 529.5 389.4 530.0 384.8 532.9 361.0 533.0 363.4 535.5 370.2 537.7 370.9 538.2 369.7 540.5 363.0 541.2 359.4 543.3 357.6 545.4 365.7 547.0 363.3 547.7 360.4 549.0 366.0 551.4 359.5 554.0 366.1 554.2 366.4 556.8 359.9 559.6 366.2 560.0 366.3 561.8 360.1 562.2 362.9 564.8 367.1 566.2 362.7 569.1 371.2 570.0 365.0 571.1 361.8 572.5 364.8 574.9 358.1 575.8 361.8 577.0 365.6 579.1 359.1 581.6 367.0 582.0 371.6 583.4 369.6 585.9 374.4 587.9 373.1 588.6 373.2 590.2 375.6 592.4 369.7 593.3 377.6 593.8 379.0 596.0 382.7 597.9 386.7 599.0 389.5 600.5 391.0 601.7 399.9 602.6 401.7 603.1 399.6 605.2 417.6 607.2 424.8 608.3 431.0 609.6 437.9 611.9 447.7 612.8 450.1 615.1 463.2 616.5 466.8 616.5 465.7 618.6 474.9 620.2 477.7 621.2 479.0 622.8 483.5 625.1 484.6 625.8 486.5 626.9 495.3 628.1 502.4 628.6 499.2 631.5 500.2 631.6 497.6 634.2 510.8 636.3 520.6 636.3 523.1 638.3 516.5 641.0 514.3 642.1 511.7 644.1 515.7 645.5 522.1 645.6 520.3 647.0 519.5 648.9 522.4 649.1 520.1 649.7 526.5 650.7 536.9 651.2 541.9 652.5 558.8 652.6 557.1 653.8 569.2 654.5 574.8 655.4 575.3 657.0 569.9 657.4 572.9 659.4 588.0 660.1 588.1 661.8 585.1 662.5 587.3 663.8 593.5 664.2 595.4 665.1 597.7 667.2 602.8 668.1 605.2 670.1 592.9 671.0 588.4 673.1 600.1 674.9 609.1 675.1 607.0 677.8 573.8 678.0 576.7 679.3 588.5 681.1 608.3 681.6 614.4 683.1 620.2 684.9 624.9 685.8 625.4 687.7 627.9 689.1 626.6 689.3 626.2 691.6 630.1 693.0 629.2 693.2 629.5 695.5 626.3 696.5 623.4 698.3 617.6 699.4 613.8 701.4 619.9 703.1 623.0 703.4 624.0 704.9 628.2 707.2 631.0 707.9 631.6 710.5 633.1 710.8 633.6 713.8 627.3 714.0 627.1 716.3 633.6 717.9 637.4 718.9 637.0 720.8 643.2 722.4 643.7 722.9 645.9 724.2 644.8 726.8 640.7 727.0 640.7 728.7 639.4 730.3 636.0 731.3 637.3 733.5 643.1 734.4 646.1 735.6 645.8 737.7 649.8 738.7 648.7 740.2 648.1 742.4 650.4 742.6 651.1 743.9 648.7 745.9 648.9 747.0 647.9 749.2 644.3 749.2 645.3 751.0 648.5 752.6 650.2 753.3 652.6 755.0 653.7 757.0 654.5 757.5 657.3 758.4 656.5 759.7 655.8 761.6 657.7 761.7 657.0 764.0 655.3 765.7 657.2 766.3 654.3 768.2 642.8 769.3 640.3 771.5 634.9 772.3 635.1 774.8 630.0 775.4 626.5 777.2 610.4 778.2 604.7 780.3 586.1 780.5 583.4 782.6 572.0 784.1 554.6 784.6 555.7 786.6 554.9 787.9 549.2 790.0 545.6 790.6 546.8 792.3 542.3 793.6 542.6 795.7 537.6 797.0 537.0 798.4 527.7 800.4 507.8 801.6 499.5 802.4 495.0 804.9 476.5 806.4 475.4 807.6 467.8 808.6 463.8 810.0 458.6 812.3 443.4 815.2 430.2 815.6 428.6 817.2 413.4 820.0 404.4 821.3 392.1 822.5 393.7 822.6 391.3 824.9 385.3 826.6 384.1 827.9 378.9 829.3 379.3 829.6 374.9 831.3 367.2 833.2 371.8 835.5 365.0 836.6 359.6 838.5 360.8 840.4 353.9 842.0 353.6 843.6 343.0 844.3 336.4 845.5 344.9 847.5 330.2 849.3 337.5 850.5 330.2 851.3 324.6 852.6 333.5 854.9 326.0 857.4 332.3 857.5 327.9 860.1 324.5 863.2 323.9 864.5 314.5 865.1 309.5 867.6 308.8 869.7 299.2 871.3 301.8 871.5 297.0 874.3 287.7 877.0 288.5 880.1 278.7 880.8 279.1 882.9 279.2 886.0 267.1 887.4 277.2 888.6 264.6 890.1 270.4 890.2 273.9 892.3 260.3 894.8 273.7 896.9 262.7 899.1 273.1 901.8 267.0 901.9 266.8 903.2 268.8 905.8 260.7 907.1 265.6 908.8 256.9 911.4 264.0 913.4 261.9 914.0 255.4 916.0 268.9 917.8 264.3 920.6 275.0 922.4 270.2 923.6 278.8 925.1 273.4 925.3 271.0 926.6 280.8 929.4 276.2 930.8 280.8 934.0 275.2 935.6 288.1 936.7 281.1 937.4 280.7 939.8 294.5 941.6 294.0 943.6 304.9 943.7 302.2 945.0 304.4 947.0 323.0 948.2 322.3 949.9 337.3 950.7 337.5 952.9 350.6 954.6 364.4 956.4 368.8 957.7 374.2 958.9 382.2 961.9 380.4 963.7 389.9 964.7 386.4 965.6 387.2 968.3 398.4 971.1 395.5 971.6 402.7 973.5 405.4 975.0 403.1 976.6 412.3 978.6 416.6 979.3 415.5 981.9 429.9 983.3 436.0 984.9 434.6 987.7 451.5 989.7 456.1 990.3 459.3 991.2 463.6 994.2 474.2 996.8 492.4 997.3 496.4 999.1 494.6 1001.7 497.0 1003.7 493.3 1004.3 497.1 1005.5 490.4 1007.9 472.7 1009.8 466.9 1010.1 471.6 1012.1 511.5 1012.7 513.9 1015.7 529.6 1016.4 530.8 1018.6 532.4 1020.6 534.7 1020.7 533.8 1022.6 535.0 1024.9 539.3 1025.6 541.2 1027.6 543.0 1028.2 545.4 1030.4 548.1 1031.8 548.0 1032.4 549.2 1033.9 552.7 1036.1 552.7 1037.8 556.1 1038.9 558.4 1041.0 560.0 1041.9 556.5 1043.4 553.3 1043.7 551.2 1045.8 554.8 1048.3 563.0 1048.4 562.3 1049.8 560.4 1052.7 561.9 1053.8 561.3 1055.0 561.6 1058.1 568.5 1059.1 569.9 1059.7 570.7 1061.9 575.6 1063.8 577.3 1065.5 579.0 1066.3 581.6 1068.7 581.8 1070.9 583.3 1071.9 582.5 1072.7 583.6 1074.9 593.2 1076.2 595.7 1076.9 598.0 1079.9 607.9 1081.5 610.1 1082.0 611.3 1084.1 614.7 1085.9 614.8 1086.9 616.6 1087.6 617.8 1090.7 621.7 1092.2 622.9 1092.5 624.1 1095.4 625.7 1097.5 627.5 1097.8 627.7 1101.0 617.1 1102.5 613.4 1102.9 612.0 1105.6 612.0 1106.1 613.0 1108.4 614.8 1109.3 616.2 1110.7 606.1 1112.5 599.4 1113.3 594.8 1115.7 584.8 1116.0 581.7 1118.0 581.2 1120.0 578.6 1120.5 573.7 1122.2 564.8 1123.2 558.0 1123.4 554.8 1126.0 532.8 1126.4 528.8 1128.1 515.9 1129.6 505.5 1130.0 500.5 1131.1 493.1 1132.9 473.1 1135.7 455.6 1138.9 432.7 1140.0 426.6 1141.9 427.0 1145.0 412.4 1145.8 412.5 1146.5 410.6 1148.0 399.6 1149.7 396.5 1151.6 388.7 1151.6 386.3 1153.1 374.2 1153.1 372.2 1154.6 367.3 1155.8 366.2 1156.2 365.6 1158.9 348.9 1159.3 348.9 1160.8 346.3 1161.6 341.1 1163.2 350.5 1164.0 355.9 1165.3 353.0 1167.1 344.3 1168.0 338.0 1170.2 326.8 1170.8 324.8 1172.5 314.8 1172.8 310.8 1175.1 318.0 1175.6 317.9 1176.5 310.6 1178.2 310.0 1178.7 307.3 1179.9 303.5 1181.7 299.8 1181.8 299.4 1183.6 290.7 1184.9 293.0 1185.9 290.4 1187.8 281.9 1188.0 283.8 1189.6 279.7 1190.4 275.1 1192.5 276.6 1193.5 277.4 1193.7 278.3 1194.9 266.8 1196.2 266.0 1196.6 261.3 1198.9 274.3 1199.2 274.1 1201.6 270.3 1202.0 266.2 1204.3 250.6 1205.1 250.7 1207.4 265.9 1207.5 263.7 1209.0 256.4 1210.6 249.4 1212.1 255.9 1213.7 260.1 1213.8 261.0 1216.0 253.0 1216.8 246.2 1218.6 238.1 1219.1 240.6 1221.4 252.5 1221.4 250.6 1223.1 244.9 1224.5 244.8 1225.2 242.7 1226.5 233.4 1227.6 231.6 1228.3 231.0 1229.2 229.5 1231.4 237.6 1231.5 240.2 1233.9 229.4 1234.4 234.2 1236.8 236.0 1237.0 237.6 1239.6 236.6 1240.1 232.6 1242.6 235.0 1243.2 239.3 1244.5 239.9 1246.3 236.8 1247.6 233.4 1249.4 241.9 1249.7 244.2 1251.2 230.3 1253.5 238.9 1255.9 230.0 1256.4 232.7 1258.5 237.0 1261.0 238.2 1262.3 241.6 1264.1 244.7 1264.8 243.8 1267.8 250.9 1270.3 239.8 1271.9 246.3 1273.5 252.2 1275.7 249.8 1278.5 255.9 1279.6 251.6 1280.0 251.4 1283.0 264.4 1285.1 262.6 1287.4 265.8 1288.0 275.7 1289.9 273.7 1292.3 293.0 1293.2 293.1 1295.2 297.6 1297.8 316.1 1299.0 321.0 1300.3 323.3 1303.4 340.7 1304.8 340.5 1304.9 346.6 1306.2 346.5 1308.5 349.6 1310.7 357.4 1311.6 359.3 1314.2 359.8 1316.0 363.1 1316.5 362.3 1317.4 364.0 1319.5 377.9 1320.0 380.9 1321.7 381.9 1323.8 391.7 1324.4 391.9 1326.3 394.0 1328.0 398.9 1328.7 399.0 1331.0 402.7 1332.7 410.3 1333.1 409.9 1334.2 414.1 1336.1 425.6 1336.7 426.5 1339.1 410.0 1339.6 407.0 1340.6 411.4 1341.8 412.4 1342.4 407.1 1344.0 394.8 1345.5 412.4 1346.9 426.4 1347.3 418.3 1349.1 391.6 1350.2 407.3 1351.5 419.5 1352.0 426.8 1354.5 423.0 1355.6 421.0 1356.2 419.9 1357.7 423.8 1359.3 426.3 1360.4 425.3 1362.9 429.1 1363.6 439.0 1364.4 449.1 1366.7 472.4 1368.0 485.9 1369.4 475.6 1371.7 459.5 1372.5 460.6 1374.6 467.5 1375.6 476.4 1377.5 490.8 1377.9 492.9 1379.4 501.6 1380.4 505.4 1382.3 497.7 1384.0 490.5 1384.3 491.3 1386.1 492.3 1386.9 494.0 1388.3 485.9 1389.6 478.1 1390.8 473.7 1391.3 471.7 1392.6 464.2 1394.2 458.3 1395.0 459.8 1397.7 462.7 1399.3 465.1 1400.8 471.1 1402.9 475.0 1403.6 476.7 1406.7 477.2 1408.8 477.6 1409.2 475.9 1411.8 475.9 1413.1 474.9 1414.2 472.4 1415.6 472.0 1416.9 468.5 1418.9 467.2 1419.6 465.7 1421.2 462.4 1424.0 458.2 1424.8 456.8 1426.1 458.8 1427.3 460.9 1429.7 461.6 1430.6 464.2 1431.8 466.0 1433.1 464.5 1434.8 467.6 1436.4 469.0 1436.6 467.7 1438.5 465.9 1441.1 460.0 1442.7 459.0 1442.9 457.4 1444.8 463.2 1447.2 471.7 1448.0 473.3 1450.3 459.5 1451.7 451.8 1451.7 453.2 1453.1 465.2 1454.6 481.4 1455.3 486.8 1456.3 484.0 1457.8 482.0 1459.2 476.5 1459.7 476.1 1460.8 473.2 1462.4 465.2 1464.0 459.4 1464.6 457.0 1467.1 442.4 1468.4 436.5 1469.0 434.5 1469.6 432.2 1470.5 425.9 1471.9 422.4 1473.7 411.8 1474.9 408.0 1475.2 408.6 1477.4 398.6 1480.3 389.2 1480.3 390.9 1482.9 381.3 1484.5 379.3 1485.6 375.7 1485.8 372.6 1487.2 371.1 1489.2 358.8 1489.9 357.8 1491.2 357.4 1493.7 350.1 1495.1 348.6 1495.2 346.7 1496.8 341.4 1499.4 337.3 1499.4 338.0 1501.6 319.0 1501.7 317.2 1503.9 323.4 1504.8 326.0 1506.9 313.5 1508.4 311.2 1510.0 300.4 1510.1 304.0 1512.3 303.8 1514.4 300.8 1514.6 299.0 1517.8 294.6 1518.6 290.2 1520.9 284.6 1523.3 281.4 1524.0 280.0 1525.0 263.7 1526.0 263.6 1528.6 277.3 1529.3 277.1 1530.1 273.1 1532.5 268.9 1534.3 258.0 1534.6 257.9 1536.2 261.1 1537.7 257.8 1539.0 260.5 1540.0 256.9 1541.9 255.4 1543.2 253.4 1544.5 250.7 1547.2 233.7 1547.4 235.4 1549.0 243.7 1551.0 239.8 1551.7 243.1 1552.6 245.5 1555.0 235.1 1557.8 239.7 1560.0 235.6 1560.6 234.3 1563.7 236.3 1564.2 231.2 1565.4 225.7 1568.0 232.0 1569.4 219.9 1571.7 226.4 1573.1 215.4 1574.1 223.3 1575.4 224.5 1577.7 213.7 1579.6 221.5 1581.5 215.9 1581.5 221.1 1584.1 223.7 1586.3 221.5 1588.3 227.3 1588.9 226.1 1589.7 219.6 1591.5 232.9 1594.4 233.8 1597.5 241.0 1598.8 235.1 1599.5 232.7 1602.4 242.6 1605.4 235.0 1607.0 244.6 1608.7 239.3 1608.7 236.7 1611.3 246.7 1613.1 240.0 1616.3 255.5 1618.2 248.8 1618.6 252.4 1620.8 260.2 1623.5 256.9 1625.1 266.3 1626.0 265.5 1628.0 271.5 1629.9 281.0 1631.3 276.4 1632.6 286.1 1633.4 286.3 1634.7 287.8 1637.2 304.4 1638.4 310.1 1638.9 310.4 1641.8 333.0 1643.3 343.8 1643.5 339.6 1646.4 358.6 1647.7 355.4 1649.4 368.6 1650.7 366.1 1650.9 364.9 1653.0 378.1 1654.9 380.0 1656.9 385.2 1658.2 387.0 1659.8 390.6 1662.2 400.3 1664.6 403.7 1665.6 408.3 1666.6 415.9 1669.4 431.6 1670.5 438.1 1671.6 445.7 1674.0 451.7 1674.3 448.2 1677.3 406.0 1677.9 392.4 1679.7 401.0 1681.8 410.4 1682.9 411.4 1683.5 409.1 1686.6 415.0 1686.8 412.3 1689.3 453.9 1690.3 470.4 1692.1 476.8 1693.7 478.2 1695.2 479.8 1695.8 482.2 1698.8 482.8 1700.2 488.1 1700.5 485.7 1703.3 459.5 1705.1 450.0 1705.6 491.9 1706.0 531.6 1707.2 531.1 1709.2 535.4 1710.5 535.1 1711.0 537.0 1713.1 540.1 1715.7 542.2 1717.0 546.2 1717.6 546.7 1718.8 546.2 1721.5 553.1 1722.5 552.7 1723.1 553.0 1725.4 552.7 1727.5 550.0 1728.2 551.5 1730.5 559.4 1732.0 561.8 1734.1 566.2 1735.0 566.8 1737.7 560.9 1739.0 559.0 1740.0 562.3 1741.9 563.9 1744.3 567.7 1745.6 568.9 1746.2 568.2 1747.7 570.8 1749.1 570.5 1750.4 573.0 1752.0 572.4 1752.2 574.5 1753.6 576.3 1756.1 579.4 1758.5 584.4 1758.8 584.9 1760.9 585.8 1763.7 590.9 1765.1 592.0 1767.1 594.6 1767.1 594.5 1768.4 595.6 1770.5 598.7 1771.8 599.4 1772.0 601.5 1773.2 596.0 1774.6 589.7 1776.5 583.1 1777.0 581.5 1779.3 576.7 1781.0 573.6 1781.9 570.1 1783.7 578.8 1785.4 586.3 1786.9 592.0 1787.2 591.8 1789.3 590.3 1790.2 589.0 1790.6 590.4 1792.7 596.9 1795.1 603.2 1796.8 608.4 1798.0 604.1 1799.3 597.0 1801.7 588.4 1802.1 586.3 1804.4 573.0 1806.7 562.4 1806.8 560.4 1808.1 547.5 1811.0 526.5 1812.8 508.2 1813.9 504.6 1815.1 495.2 1817.4 479.6 1820.4 463.8 1821.3 457.8 1822.8 449.5 1826.0 433.3 1827.6 421.5 1830.2 410.6 1831.2 401.7 1832.5 395.2 1834.7 392.9 1837.2 380.7 1838.7 374.6 1839.5 376.4 1841.4 365.5 1843.8 360.1 1845.2 351.8 1845.5 348.7 1847.4 351.2 1849.5 342.9 1851.1 336.5 1851.1 343.5 1853.4 327.5 1856.0 319.1 1856.6 311.3 1857.4 303.0 1859.2 286.0 1860.5 266.9 1861.4 259.2 1862.9 265.2 1864.3 258.1 1866.0 267.4 1867.6 265.8 1868.1 264.4 1870.2 270.6 1871.4 262.1 1874.5 267.0 1875.0 261.6 1876.2 262.3 1878.6 260.7 1880.2 249.3 1882.4 250.4 1882.6 250.9 1884.5 240.3 1886.4 244.7 1888.5 236.7 1889.7 238.9 1890.9 242.4 1893.3 229.5 1895.3 231.7 1895.9 236.4 1897.6 224.2 1899.0 230.8 1900.7 216.5 1900.8 223.6 1902.6 228.6 1905.0 214.9 1907.0 225.4 1908.2 219.1 1908.8 218.9 1910.2 226.6 1912.6 216.9 1914.0 219.6 1915.5 214.6 1916.3 209.6 1918.8 207.9 1921.3 198.8 1921.8 204.1 1922.8 206.3 1924.7 198.3 1927.8 213.9 1928.4 210.9 1929.2 210.5 1931.7 215.8 1933.8 208.3 1935.8 215.4 1936.2 218.5 1938.2 206.8 1939.7 216.9 1942.0 205.7 1943.2 216.9 1943.2 215.9 1946.1 208.6 1948.9 224.5 1950.5 222.5 1950.9 222.5 1953.2 230.7 1955.4 227.0 1957.9 232.2 1958.6 236.0 1959.9 232.3 1961.7 241.7 1963.7 233.6 1965.3 242.7 1966.4 248.6 1969.1 247.5 1971.2 259.3 1972.4 252.8 1972.6 257.4 1974.9 269.8 1976.9 274.5 1978.2 279.7 1978.3 282.7 1980.8 298.8 1981.9 307.5 1982.9 317.9 1984.7 321.2 1985.5 332.8 1986.4 340.3 1988.7 352.0 1989.2 356.6 1990.4 364.9 1990.7 366.9 1992.3 371.2 1992.6 377.5 1994.5 387.7 1995.4 386.3 1997.0 383.3 1997.6 379.3 1999.3 380.5 1999.4 378.4 2000.9 395.8 2001.5 397.4 2002.8 410.4 2004.6 405.0 2005.2 400.2 2007.5 394.0 2008.6 390.8 2010.1 401.7 2011.0 406.8 2013.0 437.0 2013.1 436.0 2015.5 481.2 2015.8 473.6 2016.9 429.6 2018.3 431.4 2018.8 433.6 2020.4 456.2 2020.7 460.7 2021.9 436.3 2022.7 420.5 2024.5 440.9 2024.6 440.4 2026.1 462.3 2027.0 469.6 2027.2 472.5 2029.5 511.2 2030.2 521.1 2031.1 532.4 2032.0 528.9 2033.4 524.8 2034.9 533.2 2036.6 540.1 2037.3 544.3 2039.7 545.4 2041.1 546.2 2042.9 540.8 2043.5 539.5 2044.2 546.2 2045.0 551.8 2046.0 535.4 2048.1 500.2 2049.2 514.6 2049.7 518.3 2051.2 562.2 2052.3 562.8 2054.9 567.5 2055.1 566.8 2056.4 560.5 2057.6 555.9 2059.3 546.8 2059.8 545.5 2062.4 536.9 2063.7 532.0 2065.2 531.9 2066.8 536.0 2067.2 534.7 2069.9 529.0 2069.9 527.1 2072.9 547.4 2073.0 547.3 2074.7 548.5 2077.7 556.9 2079.2 557.3 2079.4 558.6 2081.3 556.4 2082.6 553.8 2083.9 552.2 2084.1 553.9 2086.4 566.1 2087.0 569.3 2087.7 574.8 2089.9 584.6 2091.5 593.9 2091.6 594.1 2094.2 596.5 2094.8 600.3 2095.6 602.5 2097.3 604.8 2099.0 611.1 2101.4 616.0 2101.8 614.5 2104.2 622.2 2106.9 623.8 2108.8 627.9 2109.6 630.8 2112.1 629.2 2114.0 630.2 2114.4 631.7 2116.3 627.1 2117.9 626.4 2119.3 622.1 2120.8 629.9 2122.8 640.1 2124.5 645.4 2125.3 651.9 2126.6 663.0 2128.0 669.7 2128.6 670.7 2130.0 668.0 2131.5 659.3 2131.9 663.2 2134.5 677.3 2135.0 676.8 2136.4 681.0 2139.0 687.0 2140.2 686.5 2140.4 684.5 2142.4 672.6 2144.4 656.2 2145.5 650.7 2146.6 642.3 2148.3 628.0 2150.7 613.5 2150.9 612.7 2153.9 585.9 2156.0 572.8 2156.7 567.2 2157.9 556.7 2160.1 546.4 2161.2 539.3 2162.0 532.9 2164.4 515.3 2165.7 504.0 2166.5 497.9 2168.4 485.3 2170.4 465.7 2171.7 458.0 2173.5 450.7 2174.7 436.8 2176.8 431.4 2176.9 428.3 2178.9 400.7 2179.0 403.1 2181.8 397.2 2184.5 385.5 2186.1 385.8 2186.4 382.1 2187.9 381.2 2190.0 377.1 2190.6 383.0 2192.6 372.8 2194.3 374.9 2194.8 371.7 2197.4 357.2 2199.6 353.3 2200.3 350.9 2202.2 343.5 2204.5 342.8 2206.0 339.6 2207.6 329.7 2209.2 326.4 2212.2 305.7 2212.4 310.6 2215.2 309.9 2217.8 299.1 2218.8 294.3 2220.4 298.8 2223.0 289.7 2225.2 284.9 2225.3 289.6 2227.6 280.1 2229.2 281.8 2231.5 271.8 2231.6 276.1 2234.1 277.9 2236.3 264.6 2238.8 271.1 2239.6 266.9 2240.9 260.1 2243.7 265.9 2246.0 259.2 2246.4 256.5 2247.8 260.1 2250.5 250.3 2252.3 249.8 2252.4 249.5 2253.6 245.1 2255.1 245.5 2256.9 236.5 2258.8 243.1 2259.2 243.2 2261.0 236.5 2262.6 238.2 2265.2 231.1 2265.4 229.6 2267.3 233.7 2270.3 219.4 2272.0 225.3 2273.9 220.6 2274.5 215.9 2276.5 223.5 2279.4 223.9 2279.6 227.1 2281.9 224.8 2284.4 207.7 2285.8 211.6 2286.0 214.0 2288.5 213.1 2290.4 224.3 2292.4 225.3 2293.1 219.2 2296.0 235.4 2297.4 232.1 2298.7 239.1 2300.4 231.9 2301.4 234.1 2304.5 238.4 2307.5 233.8 2308.4 236.1 2309.6 239.5 2312.4 232.4 2313.7 243.4 2315.0 238.3 2316.4 243.1 2317.4 247.7 2319.6 242.5 2322.5 254.6 2322.8 252.8 2324.1 252.5 2326.3 259.4 2329.2 263.3 2329.4 261.3 2331.3 270.5 2332.4 270.0 2333.3 268.8 2335.5 283.2 2335.7 283.4 2338.6 295.8 2338.9 305.1 2340.2 360.3 2340.4 373.1 2341.7 440.2 2343.0 441.9 2344.8 444.8 2345.0 448.7 2347.0 461.3 2347.3 462.3 2348.8 437.2 2349.5 421.0 2350.9 442.1 2352.6 467.0 2353.2 471.1 2355.2 478.8 2357.3 491.2 2357.4 492.1 2359.9 499.2 2361.9 508.9 2362.8 507.0 2365.0 505.4 2365.1 504.4 2367.1 499.8 2368.1 496.4 2370.2 515.7 2371.2 527.4 2371.8 529.7 2373.1 530.9 2375.9 539.5 2376.1 540.6 2377.8 540.2 2379.3 544.0 2381.3 544.3 2382.1 544.9 2383.2 551.5 2385.1 560.4 2386.8 567.4 2388.0 574.1 2389.3 569.5 2389.8 572.2 2391.2 573.8 2392.9 569.2 2396.0 572.2 2396.3 573.7 2398.0 569.6 2399.9 576.9 2402.7 578.7 2403.3 583.5 2405.8 589.7 2408.0 593.1 2408.5 593.3 2410.8 594.4 2412.5 591.1 2413.8 588.5 2414.4 590.9 2416.8 587.2 2417.3 590.5 2418.5 582.4 2420.2 566.6 2421.8 559.5 2422.5 557.7 2423.5 558.3 2426.4 573.2 2427.7 579.9 2429.2 582.1 2430.6 590.7 2432.5 596.3 2433.0 597.8 2435.2 598.3 2436.5 596.5 2438.1 602.3 2440.4 614.6 2441.7 616.0 2443.0 621.2 2444.7 624.5 2447.5 625.1 2448.7 626.0 2450.3 627.2 2452.3 622.7 2454.0 624.5 2455.3 620.4 2455.7 624.2 2457.7 623.5 2460.2 625.1 2461.4 628.6 2462.6 629.2 2463.6 625.8 2466.7 626.5 2467.9 625.4 2468.0 625.0 2469.5 626.1 2470.8 625.8 2472.8 627.4 2473.1 624.9 2474.8 631.3 2476.6 633.6 2477.8 639.5 2479.1 638.1 2480.7 641.8 2481.8 638.5 2483.8 633.6 2485.0 632.7 2486.7 627.7 2487.1 628.4 2488.7 623.2 2489.9 617.6 2491.7 614.2 2494.0 604.6 2494.1 604.9 2496.5 599.5 2498.9 591.1 2501.0 588.0 2501.4 588.6 2503.9 581.0 2505.1 580.1 2506.3 575.3 2507.6 565.4 2510.0 551.1 2511.5 537.9 2511.6 537.8 2513.7 524.9 2515.4 508.2 2516.7 497.9 2518.3 489.7 2520.1 472.2 2521.6 468.8 2522.0 465.9 2524.4 444.6 2525.5 442.0 2526.4 437.3 2527.1 434.5 2530.0 413.6 2530.0 412.5 2532.2 412.9 2532.6 412.7 2534.4 395.4 2534.6 394.3 2535.9 379.6 2536.7 377.5 2537.3 373.4 2538.8 335.0 2539.1 337.8 2540.2 351.5 2541.4 333.6 2541.7 329.3 2543.1 328.7 2544.1 332.2"/>
<path stroke="#9ce87f" d="M139.7 550.2L141.2 550.5 142.2 556.2 143.4 554.5 145.8 545.9 147.0 545.2 148.5 539.2 149.2 537.5 151.6 541.2 152.9 537.1 154.4 544.5 154.4 542.4 157.5 533.3 159.6 530.3 159.9 530.3 161.8 521.0 164.1 524.8 164.9 522.2 166.6 516.6 168.3 514.0 169.8 509.5 171.8 505.7 172.6 507.5 175.1 498.2 177.0 502.1 177.4 504.5 180.2 496.4 182.3 494.7 182.5 497.2 185.7 503.9 187.3 513.4 189.3 515.5 189.6 509.6 191.7 512.5 193.6 501.3 194.5 501.2 196.0 505.5 197.7 495.6 200.5 502.3 203.3 497.7 203.4 496.3 204.9 504.3 207.0 495.2 208.8 504.1 210.2 499.5 210.2 496.3 213.1 501.3 213.7 497.2 215.2 492.4 216.7 492.5 219.2 480.5 220.7 484.0 220.9 486.2 223.9 478.1 225.5 484.2 226.8 479.3 227.7 480.1 228.4 481.6 230.2 476.4 232.4 484.0 234.7 480.5 235.4 475.7 238.0 493.6 239.9 489.1 239.9 490.3 241.1 494.8 242.6 480.5 245.1 479.7 245.8 485.9 247.9 479.8 250.5 492.9 251.8 485.2 252.1 493.1 253.1 497.5 256.0 499.2 258.4 506.6 259.1 508.0 260.2 504.1 262.0 518.2 263.4 517.5 264.9 524.5 266.1 526.1 266.2 523.5 269.1 533.6 271.2 532.7 272.7 542.3 273.1 540.6 275.3 540.2 276.9 548.6 278.2 544.6 280.0 549.9 280.6 551.4 283.6 549.1 284.9 555.2 287.0 556.2 287.7 552.5 289.3 559.5 290.7 561.7 291.9 565.6 293.7 563.8 294.0 565.5 296.3 569.4 298.5 569.1 301.0 574.2 301.4 577.5 303.1 579.2 303.5 582.5 304.9 596.0 305.8 604.0 306.6 602.2 307.6 603.5 309.8 604.3 311.6 604.8 312.9 604.6 314.0 604.1 314.7 608.8 316.6 612.7 316.8 611.8 318.6 610.2 319.2 608.4 321.3 608.9 322.1 610.0 322.6 610.9 323.9 614.6 323.9 616.0 325.0 622.1 326.0 609.8 326.5 602.5 327.6 613.1 328.5 623.6 330.5 615.2 332.0 604.3 333.2 610.7 335.5 625.0 335.5 627.3 338.0 614.4 338.4 610.9 340.6 606.3 340.7 606.0 343.4 624.7 343.6 627.9 346.4 617.3 347.4 612.3 347.9 612.2 350.0 617.4 350.4 617.0 351.9 622.3 353.5 630.1 354.0 629.5 356.7 611.3 357.3 608.5 359.7 644.5 359.9 648.1 360.9 660.7 362.4 655.8 363.3 655.8 363.7 655.7 365.6 655.2 366.2 657.1 367.2 654.4 369.1 648.8 370.4 655.9 371.8 668.3 373.0 675.2 373.5 667.5 374.4 658.6 375.4 662.8 376.8 665.1 376.9 668.2 379.7 674.4 379.8 674.8 382.2 659.3 382.2 660.9 383.7 669.7 384.6 674.0 385.9 673.3 387.3 675.1 388.5 676.5 389.7 675.8 391.3 679.2 391.4 680.0 392.6 675.2 393.3 674.4 394.0 676.9 396.3 685.0 396.4 683.6 398.8 687.5 400.1 686.5 400.7 685.6 403.2 690.1 405.0 691.3 405.1 690.3 406.5 689.0 407.9 686.7 408.4 686.5 410.4 689.8 413.4 689.3 413.7 689.6 414.8 691.8 416.2 690.8 418.5 691.3 418.6 690.7 420.5 698.5 421.6 696.2 422.4 696.3 424.6 688.8 425.4 687.2 427.2 678.2 428.6 673.9 429.2 672.0 431.4 660.2 433.1 655.0 434.0 651.9 435.4 642.8 437.0 638.9 437.6 634.0 438.9 615.9 440.0 601.7 441.7 601.3 444.3 593.3 444.7 590.9 447.1 576.3 449.8 555.6 450.5 550.3 451.6 544.9 454.4 527.7 456.1 518.2 456.3 513.6 457.5 507.1 459.5 508.5 461.7 500.1 462.1 501.1 463.3 489.6 463.5 491.3 465.9 489.5 467.9 493.3 468.3 493.2 470.0 486.1 471.4 483.5 472.4 483.1 474.3 473.6 476.0 468.6 477.0 477.7 478.4 483.8 478.8 482.6 481.6 468.3 483.0 458.7 483.6 460.9 485.9 460.9 488.5 457.2 488.8 456.0 490.7 456.4 492.4 450.8 494.7 449.9 495.6 446.4 497.0 430.6 497.0 432.9 498.8 440.1 500.5 443.9 501.1 438.9 502.4 431.3 502.8 426.8 503.9 425.6 506.3 436.2 506.7 437.7 509.5 420.5 511.9 417.8 512.1 416.4 514.9 417.8 516.7 422.9 517.6 423.2 519.4 416.7 521.4 413.2 521.9 414.9 523.8 406.1 526.0 405.6 526.5 407.2 528.5 411.6 529.5 416.9 530.0 412.7 532.9 386.8 533.0 388.6 535.5 395.5 537.7 395.5 538.2 392.7 540.5 386.8 541.2 385.1 543.3 382.0 545.4 390.8 547.0 389.2 547.7 385.4 549.0 392.5 551.4 383.5 554.0 390.5 554.2 390.0 556.8 384.6 559.6 391.4 560.0 390.2 561.8 385.6 562.2 386.5 564.8 391.4 566.2 386.3 569.1 395.7 570.0 389.2 571.1 387.5 572.5 390.8 574.9 383.5 575.8 383.8 577.0 390.4 579.1 384.2 581.6 393.4 582.0 396.1 583.4 395.7 585.9 400.8 587.9 398.4 588.6 399.3 590.2 403.1 592.4 397.2 593.3 403.4 593.8 404.8 596.0 408.4 597.9 412.4 599.0 415.6 600.5 418.6 601.7 426.0 602.6 425.5 603.1 423.5 605.2 440.1 607.2 449.0 608.3 452.8 609.6 461.2 611.9 468.8 612.8 473.7 615.1 485.5 616.5 489.0 616.5 486.3 618.6 497.8 620.2 499.7 621.2 501.6 622.8 507.1 625.1 506.9 625.8 509.4 626.9 518.6 628.1 525.1 628.6 522.7 631.5 522.9 631.6 520.1 634.2 533.1 636.3 542.2 636.3 545.2 638.3 538.4 641.0 536.2 642.1 531.4 644.1 537.0 645.5 543.3 645.6 541.7 647.0 540.7 648.9 541.9 649.1 538.6 649.7 543.0 650.7 553.9 651.2 557.0 652.5 572.1 652.6 570.7 653.8 583.3 654.5 590.8 655.4 591.1 657.0 587.6 657.4 591.0 659.4 608.6 660.1 609.7 661.8 605.4 662.5 607.6 663.8 615.0 664.2 615.1 665.1 617.1 667.2 624.4 668.1 625.6 670.1 612.0 671.0 605.5 673.1 619.8 674.9 630.3 675.1 627.4 677.8 594.0 678.0 598.1 679.3 612.1 681.1 634.7 681.6 640.4 683.1 645.8 684.9 650.2 685.8 650.9 687.7 652.2 689.1 650.9 689.3 650.7 691.6 654.4 693.0 653.8 693.2 653.9 695.5 652.2 696.5 648.3 698.3 643.0 699.4 639.5 701.4 645.0 703.1 648.4 703.4 649.9 704.9 653.5 707.2 656.4 707.9 657.4 710.5 659.0 710.8 659.6 713.8 653.2 714.0 653.1 716.3 660.3 717.9 664.5 718.9 664.0 720.8 669.2 722.4 670.2 722.9 672.3 724.2 671.3 726.8 667.5 727.0 667.4 728.7 665.1 730.3 662.2 731.3 663.3 733.5 669.9 734.4 672.1 735.6 672.0 737.7 676.3 738.7 675.3 740.2 674.0 742.4 677.0 742.6 677.5 743.9 675.9 745.9 676.0 747.0 674.8 749.2 671.9 749.2 673.0 751.0 676.1 752.6 677.1 753.3 679.7 755.0 680.3 757.0 681.7 757.5 683.4 758.4 682.4 759.7 681.2 761.6 683.3 761.7 682.5 764.0 681.8 765.7 683.1 766.3 681.2 768.2 670.3 769.3 667.2 771.5 661.8 772.3 661.9 774.8 657.1 775.4 653.7 777.2 638.0 778.2 632.6 780.3 615.1 780.5 613.0 782.6 601.2 784.1 583.3 784.6 583.9 786.6 581.5 787.9 574.2 790.0 568.8 790.6 567.6 792.3 561.8 793.6 560.9 795.7 556.6 797.0 556.6 798.4 546.8 800.4 528.3 801.6 521.6 802.4 518.8 804.9 501.3 806.4 499.1 807.6 492.3 808.6 487.1 810.0 480.4 812.3 464.4 815.2 450.3 815.6 446.9 817.2 431.8 820.0 423.8 821.3 409.2 822.5 411.9 822.6 409.6 824.9 404.2 826.6 403.4 827.9 398.0 829.3 398.8 829.6 395.6 831.3 388.6 833.2 392.0 835.5 387.9 836.6 380.9 838.5 382.8 840.4 376.0 842.0 374.8 843.6 364.8 844.3 359.6 845.5 368.6 847.5 353.1 849.3 359.1 850.5 352.0 851.3 346.2 852.6 354.1 854.9 346.2 857.4 351.8 857.5 346.7 860.1 343.5 863.2 343.6 864.5 335.4 865.1 330.0 867.6 327.7 869.7 321.2 871.3 321.8 871.5 318.4 874.3 310.4 877.0 309.5 880.1 298.2 880.8 299.0 882.9 299.6 886.0 287.9 887.4 296.8 888.6 283.8 890.1 292.3 890.2 293.9 892.3 281.2 894.8 293.8 896.9 285.1 899.1 293.7 901.8 286.6 901.9 287.2 903.2 289.8 905.8 280.1 907.1 284.0 908.8 276.0 911.4 283.2 913.4 281.6 914.0 273.6 916.0 288.8 917.8 284.6 920.6 295.2 922.4 287.7 923.6 296.5 925.1 293.1 925.3 289.4 926.6 300.3 929.4 294.0 930.8 300.3 934.0 292.7 935.6 306.6 936.7 299.6 937.4 297.9 939.8 312.7 941.6 314.2 943.6 324.7 943.7 320.8 945.0 321.8 947.0 341.8 948.2 339.8 949.9 355.6 950.7 356.8 952.9 368.6 954.6 382.6 956.4 387.4 957.7 393.1 958.9 400.4 961.9 399.6 963.7 409.9 964.7 405.9 965.6 406.3 968.3 417.7 971.1 414.6 971.6 422.5 973.5 424.1 975.0 423.6 976.6 433.5 978.6 441.3 979.3 442.2 981.9 457.5 983.3 464.4 984.9 464.2 987.7 480.4 989.7 484.4 990.3 484.4 991.2 487.8 994.2 496.7 996.8 513.4 997.3 515.0 999.1 513.2 1001.7 515.7 1003.7 513.1 1004.3 517.5 1005.5 511.2 1007.9 493.6 1009.8 487.5 1010.1 491.6 1012.1 531.6 1012.7 533.0 1015.7 549.0 1016.4 550.7 1018.6 551.8 1020.6 555.7 1020.7 555.6 1022.6 559.2 1024.9 563.1 1025.6 565.9 1027.6 568.9 1028.2 570.7 1030.4 573.7 1031.8 573.8 1032.4 575.2 1033.9 578.6 1036.1 578.2 1037.8 580.9 1038.9 583.7 1041.0 584.6 1041.9 580.4 1043.4 577.2 1043.7 575.1 1045.8 578.5 1048.3 586.1 1048.4 585.8 1049.8 584.4 1052.7 585.9 1053.8 586.6 1055.0 586.8 1058.1 594.3 1059.1 596.7 1059.7 597.0 1061.9 601.7 1063.8 603.7 1065.5 605.3 1066.3 607.6 1068.7 608.8 1070.9 609.2 1071.9 607.8 1072.7 610.5 1074.9 619.0 1076.2 621.9 1076.9 623.7 1079.9 633.8 1081.5 636.7 1082.0 638.2 1084.1 641.8 1085.9 641.9 1086.9 643.7 1087.6 645.0 1090.7 647.8 1092.2 650.1 1092.5 650.7 1095.4 652.4 1097.5 653.7 1097.8 653.3 1101.0 643.0 1102.5 640.0 1102.9 638.6 1105.6 637.4 1106.1 639.0 1108.4 640.7 1109.3 643.1 1110.7 633.4 1112.5 626.4 1113.3 622.2 1115.7 611.7 1116.0 609.6 1118.0 609.4 1120.0 606.1 1120.5 600.3 1122.2 592.6 1123.2 586.2 1123.4 584.3 1126.0 560.6 1126.4 555.7 1128.1 542.4 1129.6 531.5 1130.0 524.9 1131.1 515.8 1132.9 496.9 1135.7 480.0 1138.9 455.5 1140.0 449.5 1141.9 449.1 1145.0 435.2 1145.8 433.4 1146.5 431.7 1148.0 418.9 1149.7 417.7 1151.6 411.9 1151.6 408.7 1153.1 396.9 1153.1 395.2 1154.6 392.5 1155.8 391.0 1156.2 389.0 1158.9 371.4 1159.3 370.8 1160.8 366.2 1161.6 361.4 1163.2 370.8 1164.0 376.8 1165.3 372.3 1167.1 364.1 1168.0 358.9 1170.2 347.2 1170.8 346.3 1172.5 335.7 1172.8 332.1 1175.1 337.7 1175.6 336.7 1176.5 331.6 1178.2 330.0 1178.7 327.6 1179.9 324.7 1181.7 321.5 1181.8 322.0 1183.6 311.7 1184.9 315.3 1185.9 312.9 1187.8 303.1 1188.0 303.7 1189.6 300.9 1190.4 295.8 1192.5 297.1 1193.5 298.9 1193.7 302.2 1194.9 289.3 1196.2 286.2 1196.6 283.0 1198.9 295.1 1199.2 295.3 1201.6 293.5 1202.0 284.9 1204.3 269.3 1205.1 268.8 1207.4 283.0 1207.5 279.9 1209.0 273.6 1210.6 264.1 1212.1 271.7 1213.7 276.9 1213.8 278.8 1216.0 271.2 1216.8 267.0 1218.6 255.1 1219.1 260.6 1221.4 269.7 1221.4 270.3 1223.1 266.1 1224.5 265.1 1225.2 264.1 1226.5 254.9 1227.6 251.2 1228.3 251.5 1229.2 247.9 1231.4 253.3 1231.5 256.3 1233.9 247.7 1234.4 253.8 1236.8 255.8 1237.0 259.6 1239.6 255.9 1240.1 253.6 1242.6 256.0 1243.2 257.8 1244.5 260.3 1246.3 254.3 1247.6 252.9 1249.4 260.8 1249.7 262.2 1251.2 249.6 1253.5 258.3 1255.9 247.7 1256.4 249.9 1258.5 254.7 1261.0 256.2 1262.3 261.6 1264.1 262.2 1264.8 261.7 1267.8 270.1 1270.3 258.0 1271.9 265.1 1273.5 270.5 1275.7 266.9 1278.5 272.2 1279.6 266.3 1280.0 267.0 1283.0 279.8 1285.1 275.8 1287.4 282.8 1288.0 288.4 1289.9 286.3 1292.3 305.2 1293.2 305.7 1295.2 309.8 1297.8 330.0 1299.0 334.5 1300.3 334.9 1303.4 352.5 1304.8 354.1 1304.9 359.4 1306.2 361.2 1308.5 365.8 1310.7 374.2 1311.6 377.3 1314.2 378.1 1316.0 380.8 1316.5 380.0 1317.4 380.3 1319.5 391.7 1320.0 393.6 1321.7 394.5 1323.8 403.3 1324.4 404.5 1326.3 407.4 1328.0 414.2 1328.7 415.4 1331.0 421.4 1332.7 429.1 1333.1 428.1 1334.2 432.8 1336.1 445.1 1336.7 445.4 1339.1 428.9 1339.6 426.0 1340.6 433.4 1341.8 437.8 1342.4 431.2 1344.0 421.0 1345.5 441.3 1346.9 456.4 1347.3 446.6 1349.1 414.8 1350.2 427.6 1351.5 440.3 1352.0 446.1 1354.5 439.7 1355.6 437.0 1356.2 440.0 1357.7 448.2 1359.3 452.5 1360.4 450.1 1362.9 453.1 1363.6 460.8 1364.4 471.4 1366.7 496.8 1368.0 510.2 1369.4 502.0 1371.7 488.2 1372.5 490.0 1374.6 498.4 1375.6 506.9 1377.5 518.8 1377.9 518.0 1379.4 525.5 1380.4 530.1 1382.3 522.3 1384.0 515.0 1384.3 516.4 1386.1 517.4 1386.9 519.6 1388.3 511.8 1389.6 504.7 1390.8 502.1 1391.3 501.9 1392.6 495.8 1394.2 490.4 1395.0 490.6 1397.7 493.9 1399.3 494.8 1400.8 500.0 1402.9 502.9 1403.6 503.1 1406.7 503.6 1408.8 502.6 1409.2 501.0 1411.8 500.0 1413.1 498.8 1414.2 496.3 1415.6 495.4 1416.9 492.5 1418.9 490.5 1419.6 488.7 1421.2 484.9 1424.0 481.8 1424.8 479.9 1426.1 481.7 1427.3 484.1 1429.7 485.7 1430.6 488.9 1431.8 490.3 1433.1 488.7 1434.8 492.4 1436.4 492.8 1436.6 491.5 1438.5 490.6 1441.1 482.4 1442.7 480.6 1442.9 478.1 1444.8 484.6 1447.2 496.5 1448.0 501.2 1450.3 489.3 1451.7 482.9 1451.7 485.9 1453.1 499.6 1454.6 515.2 1455.3 518.2 1456.3 513.6 1457.8 509.0 1459.2 504.7 1459.7 504.4 1460.8 502.0 1462.4 494.1 1464.0 489.3 1464.6 487.8 1467.1 474.0 1468.4 467.1 1469.0 463.6 1469.6 460.6 1470.5 452.2 1471.9 447.9 1473.7 437.4 1474.9 432.3 1475.2 432.2 1477.4 423.4 1480.3 414.4 1480.3 415.8 1482.9 405.1 1484.5 402.4 1485.6 397.8 1485.8 395.2 1487.2 392.3 1489.2 379.6 1489.9 378.4 1491.2 377.6 1493.7 370.2 1495.1 367.9 1495.2 366.2 1496.8 360.7 1499.4 357.1 1499.4 356.7 1501.6 336.6 1501.7 336.7 1503.9 343.4 1504.8 346.2 1506.9 332.1 1508.4 329.8 1510.0 317.8 1510.1 320.6 1512.3 318.9 1514.4 316.1 1514.6 311.0 1517.8 303.8 1518.6 298.2 1520.9 294.2 1523.3 293.3 1524.0 291.6 1525.0 274.4 1526.0 274.2 1528.6 288.0 1529.3 289.5 1530.1 286.3 1532.5 281.5 1534.3 272.3 1534.6 272.0 1536.2 275.3 1537.7 271.1 1539.0 275.0 1540.0 269.9 1541.9 268.4 1543.2 265.5 1544.5 262.2 1547.2 247.3 1547.4 250.8 1549.0 258.5 1551.0 255.6 1551.7 259.8 1552.6 263.0 1555.0 251.8 1557.8 244.6 1560.0 242.1 1560.6 242.7 1563.7 241.5 1564.2 236.5 1565.4 233.0 1568.0 238.9 1569.4 226.5 1571.7 233.8 1573.1 224.8 1574.1 232.7 1575.4 233.4 1577.7 223.6 1579.6 232.0 1581.5 227.5 1581.5 233.1 1584.1 236.2 1586.3 233.3 1588.3 239.9 1588.9 239.3 1589.7 233.8 1591.5 246.6 1594.4 247.6 1597.5 254.7 1598.8 247.6 1599.5 247.7 1602.4 256.4 1605.4 249.6 1607.0 260.2 1608.7 253.3 1608.7 250.5 1611.3 259.0 1613.1 252.8 1616.3 268.8 1618.2 261.2 1618.6 262.6 1620.8 270.5 1623.5 267.6 1625.1 276.2 1626.0 271.5 1628.0 275.7 1629.9 283.8 1631.3 277.6 1632.6 289.1 1633.4 287.3 1634.7 291.0 1637.2 307.6 1638.4 314.4 1638.9 312.9 1641.8 342.7 1643.3 352.5 1643.5 347.7 1646.4 363.7 1647.7 361.8 1649.4 375.6 1650.7 373.5 1650.9 372.0 1653.0 385.9 1654.9 387.7 1656.9 394.3 1658.2 397.5 1659.8 401.8 1662.2 412.4 1664.6 416.8 1665.6 420.5 1666.6 428.1 1669.4 445.4 1670.5 455.3 1671.6 462.8 1674.0 470.2 1674.3 465.9 1677.3 424.4 1677.9 411.3 1679.7 415.8 1681.8 426.0 1682.9 428.2 1683.5 425.9 1686.6 430.6 1686.8 429.1 1689.3 472.7 1690.3 488.3 1692.1 494.1 1693.7 494.0 1695.2 494.2 1695.8 498.3 1698.8 499.6 1700.2 504.2 1700.5 498.6 1703.3 465.2 1705.1 450.1 1705.6 492.7 1706.0 532.9 1707.2 533.2 1709.2 538.3 1710.5 543.0 1711.0 554.2 1713.1 563.4 1715.7 567.4 1717.0 571.1 1717.6 570.7 1718.8 570.8 1721.5 576.5 1722.5 576.9 1723.1 577.1 1725.4 577.7 1727.5 575.7 1728.2 577.9 1730.5 586.4 1732.0 589.0 1734.1 592.6 1735.0 591.9 1737.7 585.9 1739.0 583.5 1740.0 586.9 1741.9 588.6 1744.3 592.3 1745.6 593.0 1746.2 592.3 1747.7 595.1 1749.1 595.9 1750.4 598.2 1752.0 597.1 1752.2 599.4 1753.6 600.6 1756.1 603.2 1758.5 607.5 1758.8 608.3 1760.9 609.0 1763.7 615.1 1765.1 615.0 1767.1 618.9 1767.1 619.4 1768.4 620.0 1770.5 623.9 1771.8 625.5 1772.0 627.4 1773.2 623.1 1774.6 617.0 1776.5 610.8 1777.0 609.3 1779.3 603.1 1781.0 601.0 1781.9 597.2 1783.7 605.4 1785.4 612.7 1786.9 617.4 1787.2 617.4 1789.3 615.5 1790.2 614.3 1790.6 616.3 1792.7 624.1 1795.1 630.4 1796.8 636.3 1798.0 633.0 1799.3 627.0 1801.7 617.2 1802.1 613.4 1804.4 599.4 1806.7 588.4 1806.8 586.7 1808.1 574.9 1811.0 553.9 1812.8 537.4 1813.9 536.7 1815.1 529.5 1817.4 515.3 1820.4 500.7 1821.3 494.8 1822.8 486.5 1826.0 470.7 1827.6 458.9 1830.2 446.6 1831.2 435.8 1832.5 428.9 1834.7 423.2 1837.2 410.5 1838.7 402.7 1839.5 403.0 1841.4 390.9 1843.8 384.7 1845.2 375.6 1845.5 371.0 1847.4 370.7 1849.5 361.3 1851.1 353.5 1851.1 359.0 1853.4 339.3 1856.0 328.6 1856.6 323.7 1857.4 316.4 1859.2 299.1 1860.5 280.5 1861.4 275.4 1862.9 281.1 1864.3 276.2 1866.0 285.5 1867.6 284.8 1868.1 282.4 1870.2 287.6 1871.4 279.9 1874.5 284.2 1875.0 280.5 1876.2 277.3 1878.6 278.5 1880.2 266.5 1882.4 268.1 1882.6 269.0 1884.5 256.8 1886.4 264.2 1888.5 258.8 1889.7 260.0 1890.9 262.7 1893.3 250.4 1895.3 253.9 1895.9 258.5 1897.6 248.0 1899.0 253.4 1900.7 239.6 1900.8 247.5 1902.6 250.6 1905.0 236.9 1907.0 247.8 1908.2 241.8 1908.8 240.6 1910.2 246.0 1912.6 237.9 1914.0 240.7 1915.5 235.4 1916.3 234.2 1918.8 231.1 1921.3 220.7 1921.8 225.9 1922.8 227.1 1924.7 219.5 1927.8 234.0 1928.4 232.0 1929.2 230.0 1931.7 234.5 1933.8 227.2 1935.8 232.7 1936.2 235.5 1938.2 222.9 1939.7 230.6 1942.0 220.7 1943.2 230.6 1943.2 231.1 1946.1 224.4 1948.9 240.4 1950.5 237.6 1950.9 237.5 1953.2 245.8 1955.4 241.9 1957.9 248.5 1958.6 252.1 1959.9 247.2 1961.7 257.2 1963.7 248.8 1965.3 255.2 1966.4 261.6 1969.1 261.2 1971.2 270.6 1972.4 263.7 1972.6 267.4 1974.9 278.1 1976.9 284.1 1978.2 288.0 1978.3 288.5 1980.8 303.6 1981.9 312.8 1982.9 318.5 1984.7 324.9 1985.5 335.3 1986.4 345.8 1988.7 356.7 1989.2 365.6 1990.4 375.9 1990.7 381.0 1992.3 386.3 1992.6 390.0 1994.5 402.7 1995.4 403.3 1997.0 400.9 1997.6 396.8 1999.3 398.7 1999.4 396.6 2000.9 411.9 2001.5 413.8 2002.8 426.1 2004.6 418.9 2005.2 416.7 2007.5 412.7 2008.6 414.5 2010.1 429.3 2011.0 435.1 2013.0 465.5 2013.1 469.6 2015.5 517.8 2015.8 510.5 2016.9 464.3 2018.3 461.8 2018.8 465.2 2020.4 490.0 2020.7 488.2 2021.9 460.7 2022.7 441.6 2024.5 461.6 2024.6 462.6 2026.1 485.2 2027.0 492.2 2027.2 496.3 2029.5 536.1 2030.2 545.5 2031.1 556.6 2032.0 551.7 2033.4 546.5 2034.9 554.7 2036.6 561.2 2037.3 565.2 2039.7 566.8 2041.1 567.2 2042.9 562.8 2043.5 562.2 2044.2 569.0 2045.0 576.8 2046.0 561.4 2048.1 526.1 2049.2 539.9 2049.7 543.7 2051.2 588.5 2052.3 588.5 2054.9 593.0 2055.1 590.8 2056.4 583.5 2057.6 579.6 2059.3 570.2 2059.8 569.3 2062.4 559.8 2063.7 554.0 2065.2 554.6 2066.8 559.8 2067.2 558.9 2069.9 551.9 2069.9 551.5 2072.9 571.5 2073.0 572.3 2074.7 571.8 2077.7 580.7 2079.2 581.3 2079.4 581.8 2081.3 580.5 2082.6 577.6 2083.9 574.6 2084.1 576.7 2086.4 588.4 2087.0 592.4 2087.7 596.4 2089.9 608.0 2091.5 617.7 2091.6 619.1 2094.2 622.8 2094.8 627.0 2095.6 630.2 2097.3 632.9 2099.0 640.0 2101.4 644.7 2101.8 643.0 2104.2 651.1 2106.9 653.0 2108.8 656.7 2109.6 658.6 2112.1 657.4 2114.0 656.7 2114.4 658.7 2116.3 653.9 2117.9 653.4 2119.3 650.0 2120.8 657.6 2122.8 667.0 2124.5 671.6 2125.3 678.6 2126.6 690.6 2128.0 698.3 2128.6 700.4 2130.0 696.8 2131.5 686.9 2131.9 691.1 2134.5 706.1 2135.0 704.4 2136.4 707.6 2139.0 712.7 2140.2 713.7 2140.4 712.6 2142.4 702.3 2144.4 687.5 2145.5 682.6 2146.6 674.5 2148.3 661.4 2150.7 648.1 2150.9 647.1 2153.9 621.3 2156.0 609.1 2156.7 604.4 2157.9 595.2 2160.1 584.5 2161.2 578.1 2162.0 571.1 2164.4 555.0 2165.7 543.3 2166.5 538.0 2168.4 523.8 2170.4 503.7 2171.7 494.8 2173.5 485.6 2174.7 472.2 2176.8 467.2 2176.9 463.7 2178.9 435.8 2179.0 437.9 2181.8 433.0 2184.5 420.6 2186.1 418.4 2186.4 412.7 2187.9 409.4 2190.0 405.0 2190.6 409.0 2192.6 397.7 2194.3 399.9 2194.8 394.8 2197.4 381.1 2199.6 375.5 2200.3 371.8 2202.2 362.1 2204.5 359.6 2206.0 355.8 2207.6 346.3 2209.2 343.4 2212.2 325.5 2212.4 329.2 2215.2 327.7 2217.8 319.3 2218.8 314.7 2220.4 318.4 2223.0 309.7 2225.2 306.4 2225.3 311.2 2227.6 300.9 2229.2 302.3 2231.5 291.6 2231.6 298.0 2234.1 299.7 2236.3 286.6 2238.8 293.6 2239.6 287.6 2240.9 284.1 2243.7 288.1 2246.0 282.2 2246.4 280.5 2247.8 283.7 2250.5 272.9 2252.3 274.5 2252.4 271.3 2253.6 267.1 2255.1 270.1 2256.9 260.8 2258.8 265.4 2259.2 264.8 2261.0 260.7 2262.6 264.1 2265.2 258.7 2265.4 255.9 2267.3 259.5 2270.3 248.1 2272.0 252.8 2273.9 244.9 2274.5 241.6 2276.5 246.6 2279.4 244.4 2279.6 246.4 2281.9 242.5 2284.4 225.8 2285.8 230.0 2286.0 232.2 2288.5 232.3 2290.4 243.1 2292.4 245.7 2293.1 239.9 2296.0 255.0 2297.4 251.3 2298.7 258.1 2300.4 250.6 2301.4 251.2 2304.5 256.5 2307.5 251.2 2308.4 251.4 2309.6 256.2 2312.4 250.1 2313.7 259.8 2315.0 254.4 2316.4 257.5 2317.4 261.5 2319.6 256.7 2322.5 267.3 2322.8 262.6 2324.1 258.9 2326.3 268.3 2329.2 271.9 2329.4 270.5 2331.3 281.2 2332.4 280.2 2333.3 284.7 2335.5 303.8 2335.7 308.7 2338.6 324.1 2338.9 329.6 2340.2 383.2 2340.4 395.8 2341.7 457.7 2343.0 451.9 2344.8 446.3 2345.0 447.3 2347.0 466.9 2347.3 473.1 2348.8 449.7 2349.5 435.8 2350.9 460.2 2352.6 491.2 2353.2 495.2 2355.2 499.3 2357.3 510.9 2357.4 511.7 2359.9 518.4 2361.9 528.8 2362.8 528.0 2365.0 526.6 2365.1 524.8 2367.1 520.4 2368.1 517.5 2370.2 538.4 2371.2 550.6 2371.8 553.8 2373.1 555.5 2375.9 564.4 2376.1 566.8 2377.8 565.8 2379.3 569.2 2381.3 567.8 2382.1 567.8 2383.2 573.8 2385.1 580.7 2386.8 586.8 2388.0 593.1 2389.3 589.4 2389.8 592.5 2391.2 594.8 2392.9 592.0 2396.0 595.5 2396.3 597.9 2398.0 595.4 2399.9 601.9 2402.7 604.3 2403.3 609.2 2405.8 617.0 2408.0 619.4 2408.5 619.7 2410.8 620.3 2412.5 617.1 2413.8 614.0 2414.4 616.0 2416.8 612.0 2417.3 615.9 2418.5 607.6 2420.2 592.1 2421.8 585.5 2422.5 584.5 2423.5 585.8 2426.4 600.5 2427.7 608.2 2429.2 609.9 2430.6 618.6 2432.5 624.4 2433.0 625.8 2435.2 625.8 2436.5 624.2 2438.1 630.6 2440.4 643.1 2441.7 644.6 2443.0 649.9 2444.7 654.2 2447.5 654.0 2448.7 655.2 2450.3 656.2 2452.3 650.7 2454.0 652.2 2455.3 647.9 2455.7 652.9 2457.7 651.6 2460.2 652.9 2461.4 656.2 2462.6 656.9 2463.6 654.4 2466.7 654.7 2467.9 653.6 2468.0 653.6 2469.5 655.9 2470.8 655.3 2472.8 657.6 2473.1 654.2 2474.8 660.6 2476.6 662.8 2477.8 668.5 2479.1 666.1 2480.7 668.2 2481.8 665.9 2483.8 660.5 2485.0 659.2 2486.7 654.8 2487.1 655.3 2488.7 650.4 2489.9 645.8 2491.7 642.7 2494.0 633.8 2494.1 634.0 2496.5 629.4 2498.9 621.0 2501.0 618.4 2501.4 618.7 2503.9 610.8 2505.1 610.0 2506.3 604.2 2507.6 593.1 2510.0 579.4 2511.5 567.5 2511.6 568.5 2513.7 555.8 2515.4 538.5 2516.7 529.4 2518.3 521.6 2520.1 504.4 2521.6 500.9 2522.0 497.9 2524.4 478.1 2525.5 474.3 2526.4 468.5 2527.1 462.4 2530.0 451.0 2530.0 442.1 2532.2 437.6 2532.6 430.7 2534.4 420.0 2534.6 412.0 2535.9 400.6 2536.7 392.0 2537.3 385.7 2538.8 374.8 2539.1 369.7 2540.2 368.2 2541.4 360.7 2541.7 361.1 2543.1 358.9 2544.1 355.3"/>
<path stroke="#e99f5e" d="M139.7 601.5L141.2 602.4 142.2 609.8 143.4 606.6 145.8 597.4 147.0 596.1 148.5 589.4 149.2 588.0 151.6 591.6 152.9 588.1 154.4 595.6 154.4 594.8 157.5 584.0 159.6 579.9 159.9 581.1 161.8 572.5 164.1 575.4 164.9 573.3 166.6 567.1 168.3 567.7 169.8 561.9 171.8 559.4 172.6 561.4 175.1 552.4 177.0 555.8 177.4 556.5 180.2 549.1 182.3 546.9 182.5 548.7 185.7 556.3 187.3 566.7 189.3 569.2 189.6 564.0 191.7 564.5 193.6 553.6 194.5 553.8 196.0 560.6 197.7 552.2 200.5 557.3 203.3 554.5 203.4 550.1 204.9 558.9 207.0 550.4 208.8 558.5 210.2 553.5 210.2 551.0 213.1 557.5 213.7 551.7 215.2 547.6 216.7 548.6 219.2 534.0 220.7 537.6 220.9 539.8 223.9 530.5 225.5 537.2 226.8 530.6 227.7 533.8 228.4 534.7 230.2 530.4 232.4 537.1 234.7 535.4 235.4 532.2 238.0 547.7 239.9 544.2 239.9 548.4 241.1 551.1 242.6 535.9 245.1 535.8 245.8 542.3 247.9 534.7 250.5 549.2 251.8 541.9 252.1 549.1 253.1 554.5 256.0 554.9 258.4 562.9 259.1 563.5 260.2 561.3 262.0 575.9 263.4 576.0 264.9 583.3 266.1 582.8 266.2 579.4 269.1 591.2 271.2 590.8 272.7 599.8 273.1 598.9 275.3 599.1 276.9 608.3 278.2 604.6 280.0 610.4 280.6 611.9 283.6 610.1 284.9 616.0 287.0 617.7 287.7 614.3 289.3 620.3 290.7 622.1 291.9 626.1 293.7 624.3 294.0 626.0 296.3 629.3 298.5 628.4 301.0 634.1 301.4 635.0 303.1 637.5 303.5 639.9 304.9 654.7 305.8 661.6 306.6 660.0 307.6 660.8 309.8 662.0 311.6 663.3 312.9 662.0 314.0 662.2 314.7 666.3 316.6 671.1 316.8 669.0 318.6 667.2 319.2 664.0 321.3 663.0 322.1 662.3 322.6 662.4 323.9 665.1 323.9 665.5 325.0 671.9 326.0 658.5 326.5 650.2 327.6 663.9 328.5 675.8 330.5 666.2 332.0 655.2 333.2 664.8 335.5 682.0 335.5 685.4 338.0 672.6 338.4 669.3 340.6 665.5 340.7 665.8 343.4 686.9 343.6 690.7 346.4 680.6 347.4 674.4 347.9 675.3 350.0 681.9 350.4 681.0 351.9 684.0 353.5 689.9 354.0 686.6 356.7 664.5 357.3 658.9 359.7 696.2 359.9 697.6 360.9 712.2 362.4 705.8 363.3 705.0 363.7 702.9 365.6 700.9 366.2 701.7 367.2 698.8 369.1 693.9 370.4 702.5 371.8 719.0 373.0 728.8 373.5 721.7 374.4 712.6 375.4 716.2 376.8 718.6 376.9 720.1 379.7 724.1 379.8 722.1 382.2 703.9 382.2 703.3 383.7 713.3 384.6 718.1 385.9 718.4 387.3 720.9 388.5 723.7 389.7 724.3 391.3 728.6 391.4 730.5 392.6 725.0 393.3 724.0 394.0 727.2 396.3 736.1 396.4 734.8 398.8 738.9 400.1 739.0 400.7 739.2 403.2 744.4 405.0 746.6 405.1 745.9 406.5 745.6 407.9 743.3 408.4 742.8 410.4 745.9 413.4 745.1 413.7 745.1 414.8 747.2 416.2 745.5 418.5 744.9 418.6 743.2 420.5 750.7 421.6 747.6 422.4 745.9 424.6 736.2 425.4 732.6 427.2 722.1 428.6 717.6 429.2 715.9 431.4 703.1 433.1 698.5 434.0 695.9 435.4 688.5 437.0 685.7 437.6 682.4 438.9 663.7 440.0 650.9 441.7 651.1 444.3 644.2 444.7 643.0 447.1 627.5 449.8 606.2 450.5 603.3 451.6 599.0 454.4 580.5 456.1 571.3 456.3 566.9 457.5 561.8 459.5 563.3 461.7 555.1 462.1 557.6 463.3 544.6 463.5 545.7 465.9 546.3 467.9 550.9 468.3 551.0 470.0 543.1 471.4 539.2 472.4 538.2 474.3 526.1 476.0 518.3 477.0 527.7 478.4 536.3 478.8 534.2 481.6 519.9 483.0 511.3 483.6 511.7 485.9 514.5 488.5 511.4 488.8 509.7 490.7 511.5 492.4 509.5 494.7 510.5 495.6 505.4 497.0 488.8 497.0 491.3 498.8 499.9 500.5 500.8 501.1 494.5 502.4 486.6 502.8 480.1 503.9 481.0 506.3 493.4 506.7 494.7 509.5 475.5 511.9 472.6 512.1 471.1 514.9 473.3 516.7 478.9 517.6 479.3 519.4 469.7 521.4 468.5 521.9 469.8 523.8 461.5 526.0 458.6 526.5 461.8 528.5 464.9 529.5 472.6 530.0 468.9 532.9 441.1 533.0 442.9 535.5 451.1 537.7 454.1 538.2 451.8 540.5 443.3 541.2 440.0 543.3 436.3 545.4 446.5 547.0 443.0 547.7 440.1 549.0 446.7 551.4 439.1 554.0 444.4 554.2 446.5 556.8 439.7 559.6 445.7 560.0 443.8 561.8 438.8 562.2 441.0 564.8 446.0 566.2 441.8 569.1 447.7 570.0 444.2 571.1 440.8 572.5 445.0 574.9 437.6 575.8 440.7 577.0 444.4 579.1 438.3 581.6 446.7 582.0 450.6 583.4 450.2 585.9 455.6 587.9 453.5 588.6 456.3 590.2 459.0 592.4 453.8 593.3 460.0 593.8 462.7 596.0 464.8 597.9 471.3 599.0 473.0 600.5 474.2 601.7 484.5 602.6 483.8 603.1 483.9 605.2 502.0 607.2 509.4 608.3 514.5 609.6 521.0 611.9 530.0 612.8 533.3 615.1 545.9 616.5 549.3 616.5 546.5 618.6 555.9 620.2 558.4 621.2 561.3 622.8 566.4 625.1 565.3 625.8 565.9 626.9 575.3 628.1 582.9 628.6 578.0 631.5 574.6 631.6 569.9 634.2 583.6 636.3 595.5 636.3 598.9 638.3 592.3 641.0 590.4 642.1 588.8 644.1 595.5 645.5 604.4 645.6 601.8 647.0 600.0 648.9 600.0 649.1 597.3 649.7 603.5 650.7 615.7 651.2 619.0 652.5 636.7 652.6 635.3 653.8 649.9 654.5 657.4 655.4 657.0 657.0 652.2 657.4 655.7 659.4 672.6 660.1 673.9 661.8 668.5 662.5 670.4 663.8 676.6 664.2 678.1 665.1 680.2 667.2 687.7 668.1 691.4 670.1 677.0 671.0 670.3 673.1 685.7 674.9 696.9 675.1 693.2 677.8 653.7 678.0 655.5 679.3 668.9 681.1 690.2 681.6 695.8 683.1 701.0 684.9 704.7 685.8 705.0 687.7 707.1 689.1 705.8 689.3 706.4 691.6 710.3 693.0 709.0 693.2 710.1 695.5 706.9 696.5 702.9 698.3 696.9 699.4 692.7 701.4 699.3 703.1 702.3 703.4 702.9 704.9 706.5 707.2 710.0 707.9 710.9 710.5 712.0 710.8 712.7 713.8 705.2 714.0 705.6 716.3 713.6 717.9 717.1 718.9 716.8 720.8 722.5 722.4 723.6 722.9 726.0 724.2 724.8 726.8 721.2 727.0 720.8 728.7 718.4 730.3 714.7 731.3 715.3 733.5 721.9 734.4 723.4 735.6 723.4 737.7 727.9 738.7 726.7 740.2 726.0 742.4 728.4 742.6 729.1 743.9 727.1 745.9 727.9 747.0 726.4 749.2 723.0 749.2 724.8 751.0 727.7 752.6 729.5 753.3 731.0 755.0 732.0 757.0 732.5 757.5 734.9 758.4 734.4 759.7 733.3 761.6 735.5 761.7 735.2 764.0 733.8 765.7 735.8 766.3 732.8 768.2 720.5 769.3 717.8 771.5 711.5 772.3 712.6 774.8 707.6 775.4 705.0 777.2 688.7 778.2 681.5 780.3 662.4 780.5 660.8 782.6 647.6 784.1 628.0 784.6 628.4 786.6 626.6 787.9 621.3 790.0 618.3 790.6 620.1 792.3 617.0 793.6 619.0 795.7 615.0 797.0 614.0 798.4 602.2 800.4 580.2 801.6 570.5 802.4 563.5 804.9 542.8 806.4 539.1 807.6 532.8 808.6 528.6 810.0 523.7 812.3 507.8 815.2 495.2 815.6 494.4 817.2 483.3 820.0 475.7 821.3 463.1 822.5 465.7 822.6 464.9 824.9 459.2 826.6 459.1 827.9 453.8 829.3 454.3 829.6 449.1 831.3 441.9 833.2 445.9 835.5 439.9 836.6 433.8 838.5 436.5 840.4 428.1 842.0 428.0 843.6 417.9 844.3 413.7 845.5 422.2 847.5 407.5 849.3 412.4 850.5 405.6 851.3 398.9 852.6 405.9 854.9 397.3 857.4 401.4 857.5 397.3 860.1 393.2 863.2 393.3 864.5 383.2 865.1 379.4 867.6 380.2 869.7 373.2 871.3 375.6 871.5 373.2 874.3 365.5 877.0 367.6 880.1 358.0 880.8 360.6 882.9 359.8 886.0 348.2 887.4 357.6 888.6 346.1 890.1 354.2 890.2 355.3 892.3 342.2 894.8 352.1 896.9 344.4 899.1 351.6 901.8 344.6 901.9 345.7 903.2 347.3 905.8 338.9 907.1 341.4 908.8 333.6 911.4 339.0 913.4 337.6 914.0 329.0 916.0 343.8 917.8 338.9 920.6 351.9 922.4 345.3 923.6 353.9 925.1 349.2 925.3 347.8 926.6 357.4 929.4 353.9 930.8 359.9 934.0 354.8 935.6 368.4 936.7 361.9 937.4 362.2 939.8 377.1 941.6 377.7 943.6 388.9 943.7 383.5 945.0 384.9 947.0 405.4 948.2 402.8 949.9 419.1 950.7 418.5 952.9 431.0 954.6 447.2 956.4 449.5 957.7 456.5 958.9 463.1 961.9 461.7 963.7 471.3 964.7 471.1 965.6 471.6 968.3 485.1 971.1 484.1 971.6 491.5 973.5 494.4 975.0 495.2 976.6 505.7 978.6 513.1 979.3 514.1 981.9 528.9 983.3 535.2 984.9 534.5 987.7 550.5 989.7 553.1 990.3 551.7 991.2 552.2 994.2 561.2 996.8 577.1 997.3 576.7 999.1 572.2 1001.7 574.1 1003.7 571.5 1004.3 577.0 1005.5 569.9 1007.9 548.2 1009.8 539.9 1010.1 544.2 1012.1 587.2 1012.7 587.4 1015.7 602.8 1016.4 604.0 1018.6 606.5 1020.6 611.8 1020.7 612.2 1022.6 615.2 1024.9 619.4 1025.6 622.3 1027.6 625.5 1028.2 627.9 1030.4 631.2 1031.8 631.3 1032.4 632.4 1033.9 635.5 1036.1 636.0 1037.8 638.6 1038.9 640.6 1041.0 641.8 1041.9 637.5 1043.4 633.5 1043.7 631.5 1045.8 635.9 1048.3 644.0 1048.4 643.4 1049.8 642.1 1052.7 643.3 1053.8 643.8 1055.0 643.7 1058.1 650.7 1059.1 652.7 1059.7 652.2 1061.9 657.3 1063.8 659.6 1065.5 661.0 1066.3 663.6 1068.7 665.3 1070.9 665.5 1071.9 663.5 1072.7 666.2 1074.9 675.1 1076.2 677.4 1076.9 679.0 1079.9 689.0 1081.5 691.9 1082.0 692.8 1084.1 695.8 1085.9 695.8 1086.9 697.7 1087.6 698.7 1090.7 702.9 1092.2 704.7 1092.5 705.4 1095.4 707.1 1097.5 708.8 1097.8 707.8 1101.0 696.3 1102.5 693.0 1102.9 690.6 1105.6 689.6 1106.1 690.9 1108.4 692.6 1109.3 694.1 1110.7 683.7 1112.5 676.3 1113.3 672.3 1115.7 661.8 1116.0 660.8 1118.0 660.7 1120.0 659.3 1120.5 654.1 1122.2 646.3 1123.2 640.7 1123.4 639.5 1126.0 614.7 1126.4 611.2 1128.1 596.8 1129.6 587.6 1130.0 582.2 1131.1 575.3 1132.9 558.8 1135.7 543.3 1138.9 520.1 1140.0 515.1 1141.9 514.8 1145.0 498.9 1145.8 497.1 1146.5 491.8 1148.0 478.7 1149.7 476.6 1151.6 467.3 1151.6 466.0 1153.1 453.6 1153.1 452.5 1154.6 449.2 1155.8 448.8 1156.2 447.4 1158.9 430.3 1159.3 427.8 1160.8 421.2 1161.6 414.3 1163.2 423.7 1164.0 429.6 1165.3 423.2 1167.1 414.2 1168.0 408.6 1170.2 397.5 1170.8 396.1 1172.5 387.0 1172.8 383.8 1175.1 391.2 1175.6 389.5 1176.5 383.5 1178.2 382.7 1178.7 381.1 1179.9 378.4 1181.7 375.8 1181.8 375.7 1183.6 367.0 1184.9 369.9 1185.9 369.6 1187.8 360.1 1188.0 361.6 1189.6 359.0 1190.4 354.2 1192.5 355.8 1193.5 358.1 1193.7 362.0 1194.9 345.9 1196.2 342.0 1196.6 337.7 1198.9 352.0 1199.2 351.8 1201.6 347.9 1202.0 340.5 1204.3 324.7 1205.1 324.9 1207.4 341.7 1207.5 341.3 1209.0 330.7 1210.6 319.7 1212.1 329.5 1213.7 336.0 1213.8 336.4 1216.0 325.7 1216.8 319.8 1218.6 308.5 1219.1 315.2 1221.4 325.3 1221.4 326.0 1223.1 320.2 1224.5 320.4 1225.2 320.3 1226.5 308.4 1227.6 308.5 1228.3 305.7 1229.2 302.6 1231.4 313.8 1231.5 317.8 1233.9 306.4 1234.4 311.9 1236.8 313.3 1237.0 317.5 1239.6 314.2 1240.1 306.4 1242.6 308.8 1243.2 313.2 1244.5 313.1 1246.3 305.9 1247.6 304.6 1249.4 312.4 1249.7 313.4 1251.2 299.5 1253.5 307.6 1255.9 299.2 1256.4 302.5 1258.5 311.0 1261.0 312.7 1262.3 321.0 1264.1 322.0 1264.8 322.2 1267.8 328.4 1270.3 317.4 1271.9 322.8 1273.5 328.0 1275.7 323.8 1278.5 327.5 1279.6 323.3 1280.0 325.0 1283.0 337.1 1285.1 334.0 1287.4 340.1 1288.0 347.7 1289.9 346.0 1292.3 365.7 1293.2 366.1 1295.2 370.9 1297.8 390.6 1299.0 396.9 1300.3 397.5 1303.4 417.1 1304.8 417.0 1304.9 422.2 1306.2 423.4 1308.5 428.4 1310.7 437.2 1311.6 438.9 1314.2 439.7 1316.0 442.3 1316.5 440.9 1317.4 440.4 1319.5 453.7 1320.0 456.8 1321.7 458.4 1323.8 468.7 1324.4 470.8 1326.3 474.1 1328.0 479.8 1328.7 480.5 1331.0 484.5 1332.7 492.3 1333.1 490.6 1334.2 493.9 1336.1 506.4 1336.7 508.7 1339.1 491.0 1339.6 488.7 1340.6 494.9 1341.8 497.2 1342.4 489.9 1344.0 477.9 1345.5 497.3 1346.9 511.9 1347.3 502.0 1349.1 470.7 1350.2 488.2 1351.5 503.4 1352.0 509.2 1354.5 504.1 1355.6 503.6 1356.2 504.9 1357.7 513.8 1359.3 519.1 1360.4 520.6 1362.9 522.2 1363.6 528.2 1364.4 536.5 1366.7 562.0 1368.0 574.5 1369.4 562.5 1371.7 544.2 1372.5 546.4 1374.6 558.1 1375.6 569.2 1377.5 581.9 1377.9 581.7 1379.4 587.8 1380.4 590.6 1382.3 581.1 1384.0 572.1 1384.3 572.4 1386.1 573.8 1386.9 574.4 1388.3 566.6 1389.6 557.2 1390.8 552.8 1391.3 552.5 1392.6 546.1 1394.2 541.4 1395.0 543.4 1397.7 547.5 1399.3 550.2 1400.8 556.0 1402.9 559.8 1403.6 560.0 1406.7 559.9 1408.8 559.2 1409.2 556.7 1411.8 556.0 1413.1 555.5 1414.2 552.8 1415.6 552.5 1416.9 549.7 1418.9 548.6 1419.6 548.3 1421.2 545.0 1424.0 541.3 1424.8 540.2 1426.1 542.2 1427.3 545.2 1429.7 546.4 1430.6 549.6 1431.8 550.2 1433.1 549.0 1434.8 552.9 1436.4 554.0 1436.6 553.2 1438.5 552.2 1441.1 545.1 1442.7 544.4 1442.9 543.3 1444.8 552.8 1447.2 567.2 1448.0 573.6 1450.3 560.6 1451.7 553.2 1451.7 552.8 1453.1 566.1 1454.6 580.0 1455.3 580.8 1456.3 573.0 1457.8 566.9 1459.2 560.8 1459.7 560.6 1460.8 557.3 1462.4 548.9 1464.0 543.5 1464.6 541.5 1467.1 526.6 1468.4 519.2 1469.0 517.4 1469.6 515.8 1470.5 509.4 1471.9 504.9 1473.7 494.6 1474.9 489.9 1475.2 490.9 1477.4 480.1 1480.3 469.7 1480.3 470.6 1482.9 459.2 1484.5 456.9 1485.6 452.9 1485.8 451.1 1487.2 449.7 1489.2 437.7 1489.9 437.1 1491.2 435.8 1493.7 428.6 1495.1 426.7 1495.2 424.2 1496.8 420.2 1499.4 416.3 1499.4 416.7 1501.6 395.5 1501.7 396.0 1503.9 403.4 1504.8 406.2 1506.9 390.6 1508.4 386.2 1510.0 374.4 1510.1 376.5 1512.3 376.8 1514.4 373.1 1514.6 370.2 1517.8 363.6 1518.6 359.2 1520.9 353.4 1523.3 353.3 1524.0 350.2 1525.0 332.5 1526.0 330.5 1528.6 346.1 1529.3 348.4 1530.1 340.4 1532.5 336.8 1534.3 326.3 1534.6 329.4 1536.2 332.4 1537.7 329.9 1539.0 332.7 1540.0 331.1 1541.9 328.2 1543.2 324.9 1544.5 322.5 1547.2 302.6 1547.4 303.7 1549.0 309.5 1551.0 304.0 1551.7 306.6 1552.6 307.3 1555.0 293.6 1557.8 299.7 1560.0 295.7 1560.6 295.5 1563.7 297.2 1564.2 294.4 1565.4 289.2 1568.0 296.1 1569.4 283.3 1571.7 294.3 1573.1 283.0 1574.1 290.5 1575.4 293.3 1577.7 282.6 1579.6 290.9 1581.5 286.4 1581.5 291.0 1584.1 294.8 1586.3 290.8 1588.3 297.4 1588.9 295.7 1589.7 290.0 1591.5 302.9 1594.4 301.4 1597.5 310.1 1598.8 304.5 1599.5 302.2 1602.4 311.2 1605.4 303.3 1607.0 313.6 1608.7 307.2 1608.7 304.9 1611.3 315.1 1613.1 308.1 1616.3 323.9 1618.2 317.8 1618.6 320.9 1620.8 327.6 1623.5 326.5 1625.1 333.4 1626.0 333.3 1628.0 339.3 1629.9 350.7 1631.3 344.1 1632.6 356.1 1633.4 356.0 1634.7 360.0 1637.2 374.2 1638.4 379.3 1638.9 376.7 1641.8 402.5 1643.3 412.9 1643.5 408.4 1646.4 426.9 1647.7 425.7 1649.4 440.7 1650.7 441.9 1650.9 441.8 1653.0 456.8 1654.9 460.6 1656.9 469.4 1658.2 472.3 1659.8 478.0 1662.2 489.2 1664.6 494.3 1665.6 499.4 1666.6 506.4 1669.4 520.1 1670.5 525.5 1671.6 532.4 1674.0 538.8 1674.3 533.0 1677.3 485.5 1677.9 470.4 1679.7 480.7 1681.8 496.2 1682.9 502.0 1683.5 499.4 1686.6 504.6 1686.8 501.8 1689.3 548.5 1690.3 565.2 1692.1 568.0 1693.7 563.1 1695.2 559.8 1695.8 559.9 1698.8 558.6 1700.2 566.4 1700.5 561.2 1703.3 525.0 1705.1 510.5 1705.6 558.1 1706.0 601.1 1707.2 602.2 1709.2 601.7 1710.5 601.0 1711.0 607.2 1713.1 614.4 1715.7 618.3 1717.0 622.1 1717.6 622.3 1718.8 624.0 1721.5 632.3 1722.5 633.5 1723.1 634.6 1725.4 635.6 1727.5 632.2 1728.2 634.4 1730.5 642.0 1732.0 644.9 1734.1 649.9 1735.0 649.7 1737.7 643.4 1739.0 640.1 1740.0 643.5 1741.9 645.2 1744.3 649.7 1745.6 650.7 1746.2 650.4 1747.7 653.4 1749.1 654.6 1750.4 657.3 1752.0 657.6 1752.2 660.0 1753.6 662.3 1756.1 665.2 1758.5 670.9 1758.8 670.7 1760.9 671.7 1763.7 676.6 1765.1 676.3 1767.1 678.7 1767.1 678.6 1768.4 678.7 1770.5 682.1 1771.8 683.2 1772.0 685.1 1773.2 680.1 1774.6 673.9 1776.5 666.7 1777.0 666.3 1779.3 660.1 1781.0 657.6 1781.9 653.9 1783.7 663.0 1785.4 671.3 1786.9 677.5 1787.2 676.8 1789.3 674.8 1790.2 672.3 1790.6 673.7 1792.7 679.9 1795.1 685.7 1796.8 691.1 1798.0 686.3 1799.3 679.9 1801.7 670.3 1802.1 668.9 1804.4 655.8 1806.7 645.6 1806.8 646.2 1808.1 634.4 1811.0 612.6 1812.8 595.5 1813.9 595.2 1815.1 587.2 1817.4 572.9 1820.4 557.2 1821.3 553.1 1822.8 545.6 1826.0 531.3 1827.6 520.1 1830.2 506.7 1831.2 499.2 1832.5 490.8 1834.7 484.6 1837.2 469.4 1838.7 459.5 1839.5 459.5 1841.4 444.1 1843.8 436.8 1845.2 426.9 1845.5 422.4 1847.4 421.4 1849.5 413.8 1851.1 407.2 1851.1 415.4 1853.4 396.9 1856.0 389.9 1856.6 386.4 1857.4 378.8 1859.2 359.6 1860.5 341.1 1861.4 335.0 1862.9 339.6 1864.3 332.2 1866.0 341.6 1867.6 339.1 1868.1 337.8 1870.2 344.2 1871.4 335.6 1874.5 340.1 1875.0 336.0 1876.2 334.8 1878.6 334.4 1880.2 324.0 1882.4 324.1 1882.6 323.5 1884.5 313.3 1886.4 316.0 1888.5 309.7 1889.7 310.4 1890.9 314.9 1893.3 299.7 1895.3 302.4 1895.9 306.6 1897.6 295.0 1899.0 301.3 1900.7 287.6 1900.8 293.6 1902.6 299.5 1905.0 285.6 1907.0 298.7 1908.2 293.5 1908.8 293.1 1910.2 298.9 1912.6 292.6 1914.0 294.9 1915.5 289.2 1916.3 285.9 1918.8 286.1 1921.3 273.7 1921.8 278.4 1922.8 278.5 1924.7 269.4 1927.8 284.2 1928.4 282.5 1929.2 277.8 1931.7 283.7 1933.8 277.7 1935.8 283.4 1936.2 288.4 1938.2 275.7 1939.7 284.4 1942.0 273.0 1943.2 284.4 1943.2 286.2 1946.1 279.1 1948.9 295.6 1950.5 291.5 1950.9 292.2 1953.2 301.0 1955.4 298.0 1957.9 302.6 1958.6 305.3 1959.9 300.4 1961.7 310.6 1963.7 302.5 1965.3 309.7 1966.4 316.1 1969.1 317.2 1971.2 327.9 1972.4 322.9 1972.6 326.1 1974.9 339.0 1976.9 344.7 1978.2 350.3 1978.3 351.4 1980.8 370.4 1981.9 379.1 1982.9 388.0 1984.7 392.2 1985.5 400.7 1986.4 408.6 1988.7 419.8 1989.2 425.0 1990.4 431.0 1990.7 434.9 1992.3 443.1 1992.6 446.4 1994.5 460.8 1995.4 459.5 1997.0 456.6 1997.6 453.5 1999.3 454.6 1999.4 452.3 2000.9 470.4 2001.5 473.8 2002.8 486.1 2004.6 482.1 2005.2 479.2 2007.5 472.8 2008.6 473.1 2010.1 487.2 2011.0 489.8 2013.0 519.0 2013.1 518.3 2015.5 567.3 2015.8 557.9 2016.9 507.2 2018.3 506.5 2018.8 513.8 2020.4 543.4 2020.7 547.4 2021.9 519.7 2022.7 502.6 2024.5 524.7 2024.6 526.5 2026.1 550.7 2027.0 557.8 2027.2 559.9 2029.5 600.5 2030.2 610.2 2031.1 620.1 2032.0 611.9 2033.4 605.2 2034.9 611.0 2036.6 618.4 2037.3 624.2 2039.7 626.8 2041.1 628.5 2042.9 622.7 2043.5 622.5 2044.2 630.9 2045.0 640.8 2046.0 624.6 2048.1 584.1 2049.2 598.2 2049.7 602.1 2051.2 651.1 2052.3 649.6 2054.9 652.8 2055.1 649.4 2056.4 642.1 2057.6 637.4 2059.3 627.5 2059.8 626.0 2062.4 615.2 2063.7 607.6 2065.2 607.9 2066.8 613.0 2067.2 611.8 2069.9 604.1 2069.9 603.2 2072.9 626.1 2073.0 626.2 2074.7 627.6 2077.7 638.1 2079.2 640.9 2079.4 642.8 2081.3 642.7 2082.6 640.6 2083.9 639.3 2084.1 642.4 2086.4 654.9 2087.0 657.8 2087.7 660.8 2089.9 670.7 2091.5 679.9 2091.6 679.2 2094.2 681.4 2094.8 684.1 2095.6 687.6 2097.3 690.0 2099.0 696.5 2101.4 701.3 2101.8 698.7 2104.2 705.9 2106.9 707.6 2108.8 711.2 2109.6 713.1 2112.1 711.6 2114.0 712.5 2114.4 714.2 2116.3 709.4 2117.9 708.3 2119.3 703.7 2120.8 711.8 2122.8 722.0 2124.5 726.7 2125.3 733.3 2126.6 745.5 2128.0 753.7 2128.6 754.9 2130.0 749.8 2131.5 739.6 2131.9 743.4 2134.5 758.8 2135.0 756.1 2136.4 759.6 2139.0 763.9 2140.2 765.0 2140.4 763.6 2142.4 751.4 2144.4 733.7 2145.5 729.4 2146.6 720.1 2148.3 706.2 2150.7 690.9 2150.9 690.7 2153.9 662.6 2156.0 648.6 2156.7 643.1 2157.9 632.3 2160.1 622.6 2161.2 614.6 2162.0 608.2 2164.4 589.9 2165.7 577.3 2166.5 570.2 2168.4 555.0 2170.4 532.6 2171.7 523.8 2173.5 514.8 2174.7 505.1 2176.8 503.0 2176.9 504.1 2178.9 476.2 2179.0 481.6 2181.8 479.4 2184.5 468.7 2186.1 468.1 2186.4 464.6 2187.9 460.6 2190.0 455.7 2190.6 460.1 2192.6 449.0 2194.3 448.0 2194.8 444.3 2197.4 430.8 2199.6 425.1 2200.3 421.4 2202.2 414.4 2204.5 412.4 2206.0 411.0 2207.6 401.6 2209.2 398.4 2212.2 379.3 2212.4 386.9 2215.2 386.3 2217.8 377.6 2218.8 372.7 2220.4 377.8 2223.0 367.8 2225.2 364.3 2225.3 369.0 2227.6 356.5 2229.2 357.3 2231.5 347.8 2231.6 353.7 2234.1 355.1 2236.3 342.8 2238.8 349.1 2239.6 342.5 2240.9 338.0 2243.7 340.0 2246.0 333.2 2246.4 327.7 2247.8 333.5 2250.5 319.7 2252.3 321.0 2252.4 320.3 2253.6 315.8 2255.1 318.8 2256.9 310.0 2258.8 315.4 2259.2 316.4 2261.0 311.4 2262.6 313.6 2265.2 307.7 2265.4 304.3 2267.3 310.0 2270.3 297.8 2272.0 303.6 2273.9 298.2 2274.5 292.6 2276.5 300.8 2279.4 298.3 2279.6 302.1 2281.9 295.4 2284.4 279.4 2285.8 281.7 2286.0 284.8 2288.5 283.7 2290.4 295.5 2292.4 298.5 2293.1 292.5 2296.0 307.7 2297.4 305.2 2298.7 311.4 2300.4 305.7 2301.4 305.5 2304.5 313.6 2307.5 306.6 2308.4 305.8 2309.6 310.5 2312.4 303.7 2313.7 314.6 2315.0 309.4 2316.4 314.3 2317.4 319.3 2319.6 313.5 2322.5 326.1 2322.8 326.0 2324.1 324.8 2326.3 332.7 2329.2 335.1 2329.4 335.1 2331.3 346.5 2332.4 343.5 2333.3 344.5 2335.5 357.9 2335.7 355.8 2338.6 365.1 2338.9 364.9 2340.2 422.2 2340.4 435.9 2341.7 508.3 2343.0 511.5 2344.8 517.0 2345.0 523.7 2347.0 546.7 2347.3 551.2 2348.8 522.7 2349.5 502.7 2350.9 525.5 2352.6 553.3 2353.2 556.3 2355.2 564.1 2357.3 578.6 2357.4 578.8 2359.9 584.2 2361.9 594.1 2362.8 592.0 2365.0 590.0 2365.1 585.5 2367.1 577.5 2368.1 571.3 2370.2 592.5 2371.2 605.2 2371.8 607.9 2373.1 608.0 2375.9 618.8 2376.1 621.2 2377.8 621.7 2379.3 625.1 2381.3 623.7 2382.1 623.7 2383.2 629.8 2385.1 638.2 2386.8 645.6 2388.0 652.2 2389.3 649.0 2389.8 651.8 2391.2 654.3 2392.9 651.1 2396.0 653.5 2396.3 655.1 2398.0 652.5 2399.9 658.5 2402.7 661.2 2403.3 665.9 2405.8 673.4 2408.0 676.0 2408.5 675.6 2410.8 675.8 2412.5 672.5 2413.8 668.9 2414.4 670.2 2416.8 667.0 2417.3 671.5 2418.5 661.5 2420.2 645.8 2421.8 638.6 2422.5 638.1 2423.5 639.6 2426.4 655.4 2427.7 663.9 2429.2 666.4 2430.6 674.8 2432.5 680.1 2433.0 680.7 2435.2 679.6 2436.5 677.4 2438.1 682.1 2440.4 694.9 2441.7 696.7 2443.0 701.1 2444.7 704.7 2447.5 706.2 2448.7 707.3 2450.3 708.2 2452.3 704.4 2454.0 705.9 2455.3 701.3 2455.7 706.6 2457.7 705.4 2460.2 706.8 2461.4 709.6 2462.6 710.7 2463.6 707.4 2466.7 707.7 2467.9 706.7 2468.0 706.4 2469.5 708.8 2470.8 708.2 2472.8 709.6 2473.1 706.7 2474.8 713.8 2476.6 716.9 2477.8 722.4 2479.1 720.4 2480.7 724.1 2481.8 722.3 2483.8 717.8 2485.0 717.7 2486.7 712.5 2487.1 713.4 2488.7 707.0 2489.9 700.9 2491.7 696.2 2494.0 685.9 2494.1 685.6 2496.5 679.6 2498.9 667.9 2501.0 661.7 2501.4 658.8 2503.9 648.5 2505.1 644.7 2506.3 636.8 2507.6 623.8 2510.0 607.1 2511.5 594.6 2511.6 598.0 2513.7 585.7 2515.4 570.4 2516.7 562.9 2518.3 556.6 2520.1 540.6 2521.6 540.2 2522.0 539.1 2524.4 520.6 2525.5 518.6 2526.4 514.1 2527.1 506.7 2530.0 496.5 2530.0 487.5 2532.2 481.4 2532.6 474.0 2534.4 465.2 2534.6 457.2 2535.9 449.0 2536.7 441.4 2537.3 435.8 2538.8 429.5 2539.1 426.4 2540.2 419.2 2541.4 415.1 2541.7 411.5 2543.1 407.0 2544.1 403.8"/>
<path stroke="#7a7ede" d="M139.7 532.4L141.2 533.0 142.2 537.9 143.4 535.6 145.8 527.9 147.0 526.0 148.5 519.4 149.2 518.3 151.6 521.8 152.9 517.4 154.4 523.2 154.4 522.1 157.5 511.7 159.6 508.6 159.9 509.9 161.8 500.0 164.1 504.0 164.9 501.2 166.6 495.4 168.3 495.4 169.8 490.7 171.8 486.9 172.6 488.5 175.1 480.5 177.0 481.5 177.4 484.1 180.2 478.2 182.3 475.5 182.5 478.2 185.7 484.4 187.3 492.5 189.3 497.4 189.6 490.7 191.7 492.5 193.6 481.9 194.5 482.2 196.0 485.7 197.7 477.4 200.5 482.0 203.3 479.5 203.4 476.3 204.9 485.5 207.0 475.6 208.8 484.0 210.2 480.2 210.2 476.7 213.1 483.9 213.7 480.0 215.2 474.9 216.7 476.1 219.2 462.5 220.7 464.9 220.9 468.2 223.9 458.7 225.5 465.1 226.8 458.8 227.7 459.6 228.4 460.4 230.2 456.0 232.4 462.5 234.7 459.6 235.4 457.5 238.0 472.6 239.9 468.7 239.9 470.5 241.1 473.9 242.6 460.2 245.1 460.5 245.8 467.3 247.9 459.9 250.5 475.7 251.8 468.7 252.1 473.9 253.1 478.0 256.0 480.3 258.4 485.6 259.1 486.7 260.2 483.3 262.0 496.8 263.4 496.5 264.9 505.1 266.1 506.1 266.2 503.1 269.1 514.8 271.2 512.8 272.7 521.7 273.1 520.7 275.3 522.0 276.9 531.0 278.2 526.7 280.0 532.2 280.6 534.6 283.6 531.5 284.9 538.9 287.0 539.3 287.7 535.7 289.3 543.4 290.7 544.5 291.9 548.7 293.7 546.0 294.0 549.4 296.3 552.8 298.5 551.0 301.0 556.5 301.4 559.3 303.1 561.7 303.5 564.8 304.9 580.3 305.8 586.8 306.6 586.7 307.6 588.3 309.8 589.8 311.6 589.5 312.9 590.6 314.0 591.1 314.7 594.0 316.6 598.8 316.8 596.7 318.6 595.6 319.2 592.8 321.3 592.1 322.1 592.8 322.6 594.8 323.9 597.4 323.9 597.4 325.0 603.9 326.0 593.0 326.5 584.8 327.6 594.1 328.5 604.3 330.5 596.1 332.0 587.5 333.2 594.3 335.5 607.3 335.5 609.3 338.0 596.3 338.4 593.9 340.6 589.6 340.7 588.8 343.4 608.3 343.6 611.1 346.4 602.9 347.4 598.7 347.9 599.0 350.0 604.4 350.4 605.3 351.9 609.3 353.5 615.6 354.0 613.1 356.7 593.9 357.3 590.0 359.7 624.8 359.9 625.9 360.9 639.2 362.4 635.0 363.3 634.9 363.7 634.5 365.6 632.4 366.2 633.4 367.2 631.8 369.1 628.2 370.4 636.5 371.8 649.7 373.0 657.4 373.5 652.0 374.4 643.2 375.4 647.7 376.8 649.0 376.9 650.6 379.7 656.6 379.8 655.7 382.2 640.2 382.2 641.5 383.7 650.6 384.6 654.3 385.9 654.9 387.3 658.2 388.5 660.6 389.7 660.1 391.3 662.9 391.4 663.4 392.6 658.7 393.3 657.6 394.0 660.1 396.3 668.4 396.4 667.9 398.8 672.0 400.1 672.8 400.7 672.9 403.2 676.8 405.0 678.1 405.1 676.9 406.5 675.8 407.9 674.5 408.4 672.6 410.4 675.8 413.4 675.7 413.7 674.9 414.8 676.6 416.2 675.4 418.5 675.5 418.6 674.9 420.5 682.5 421.6 680.0 422.4 679.0 424.6 671.8 425.4 669.1 427.2 659.9 428.6 655.1 429.2 653.5 431.4 641.8 433.1 636.6 434.0 632.5 435.4 622.7 437.0 616.2 437.6 610.1 438.9 590.0 440.0 575.7 441.7 573.2 444.3 565.3 444.7 565.1 447.1 550.8 449.8 532.0 450.5 528.7 451.6 523.1 454.4 506.9 456.1 499.2 456.3 495.3 457.5 489.6 459.5 490.2 461.7 482.5 462.1 485.1 463.3 473.0 463.5 474.9 465.9 473.3 467.9 475.7 468.3 475.4 470.0 468.7 471.4 464.2 472.4 463.6 474.3 454.8 476.0 450.8 477.0 458.2 478.4 466.0 478.8 465.3 481.6 451.1 483.0 443.3 483.6 442.3 485.9 443.6 488.5 439.4 488.8 437.5 490.7 438.6 492.4 433.8 494.7 433.7 495.6 429.1 497.0 413.6 497.0 414.3 498.8 420.9 500.5 422.2 501.1 418.6 502.4 412.6 502.8 409.4 503.9 409.5 506.3 419.8 506.7 419.8 509.5 403.1 511.9 399.5 512.1 398.3 514.9 397.4 516.7 403.9 517.6 403.3 519.4 395.2 521.4 392.4 521.9 393.4 523.8 387.2 526.0 385.4 526.5 388.2 528.5 389.1 529.5 395.7 530.0 391.9 532.9 366.9 533.0 368.6 535.5 374.7 537.7 378.0 538.2 373.2 540.5 368.9 541.2 366.8 543.3 363.3 545.4 368.6 547.0 369.3 547.7 367.2 549.0 371.9 551.4 364.8 554.0 371.0 554.2 372.3 556.8 367.2 559.6 373.4 560.0 371.0 561.8 365.2 562.2 368.5 564.8 372.2 566.2 368.2 569.1 376.4 570.0 369.2 571.1 366.0 572.5 370.6 574.9 364.4 575.8 366.4 577.0 370.3 579.1 364.8 581.6 373.5 582.0 376.1 583.4 375.5 585.9 380.6 587.9 379.0 588.6 379.3 590.2 382.6 592.4 376.4 593.3 381.9 593.8 385.8 596.0 387.5 597.9 393.6 599.0 398.5 600.5 397.2 601.7 406.9 602.6 406.4 603.1 405.3 605.2 421.9 607.2 430.0 608.3 435.5 609.6 444.7 611.9 453.1 612.8 456.7 615.1 469.8 616.5 472.6 616.5 471.4 618.6 481.2 620.2 483.3 621.2 485.8 622.8 491.1 625.1 491.4 625.8 491.6 626.9 501.2 628.1 508.4 628.6 506.0 631.5 506.4 631.6 504.7 634.2 517.7 636.3 527.9 636.3 529.8 638.3 524.0 641.0 520.9 642.1 517.3 644.1 522.1 645.5 529.0 645.6 526.6 647.0 526.4 648.9 528.6 649.1 526.4 649.7 531.3 650.7 543.0 651.2 547.1 652.5 563.3 652.6 562.5 653.8 574.2 654.5 580.0 655.4 581.7 657.0 576.5 657.4 579.2 659.4 595.4 660.1 595.4 661.8 591.4 662.5 593.8 663.8 601.1 664.2 602.1 665.1 603.6 667.2 610.1 668.1 611.8 670.1 600.1 671.0 594.8 673.1 607.4 674.9 617.0 675.1 614.1 677.8 580.4 678.0 584.5 679.3 596.7 681.1 616.7 681.6 622.9 683.1 629.2 684.9 633.0 685.8 633.9 687.7 636.0 689.1 634.4 689.3 634.7 691.6 638.8 693.0 637.4 693.2 638.2 695.5 635.3 696.5 631.5 698.3 625.9 699.4 622.8 701.4 628.3 703.1 631.7 703.4 632.1 704.9 636.6 707.2 639.2 707.9 641.0 710.5 641.8 710.8 642.7 713.8 635.5 714.0 635.9 716.3 642.4 717.9 646.0 718.9 646.3 720.8 651.5 722.4 652.3 722.9 654.4 724.2 653.7 726.8 649.6 727.0 650.1 728.7 647.8 730.3 644.5 731.3 646.1 733.5 652.4 734.4 654.0 735.6 654.6 737.7 658.4 738.7 658.0 740.2 656.6 742.4 659.1 742.6 659.3 743.9 657.4 745.9 658.2 747.0 656.2 749.2 653.6 749.2 654.6 751.0 657.4 752.6 658.9 753.3 661.2 755.0 662.4 757.0 663.5 757.5 665.7 758.4 665.5 759.7 663.9 761.6 666.4 761.7 665.5 764.0 663.6 765.7 665.2 766.3 662.8 768.2 651.7 769.3 648.7 771.5 643.7 772.3 643.3 774.8 638.6 775.4 635.0 777.2 619.3 778.2 612.8 780.3 594.8 780.5 591.7 782.6 580.3 784.1 562.6 784.6 563.5 786.6 562.3 787.9 556.2 790.0 551.9 790.6 551.9 792.3 547.3 793.6 546.9 795.7 542.4 797.0 542.4 798.4 532.8 800.4 512.3 801.6 504.7 802.4 500.5 804.9 482.2 806.4 480.7 807.6 473.5 808.6 469.1 810.0 463.1 812.3 447.7 815.2 434.2 815.6 432.1 817.2 416.3 820.0 408.2 821.3 394.3 822.5 395.5 822.6 393.6 824.9 387.6 826.6 386.4 827.9 382.2 829.3 381.6 829.6 377.3 831.3 369.8 833.2 373.9 835.5 368.1 836.6 361.7 838.5 363.1 840.4 355.1 842.0 354.3 843.6 342.7 844.3 338.7 845.5 345.5 847.5 333.4 849.3 338.5 850.5 332.1 851.3 326.5 852.6 333.4 854.9 328.3 857.4 332.0 857.5 328.9 860.1 326.0 863.2 325.4 864.5 313.6 865.1 309.1 867.6 309.6 869.7 299.5 871.3 301.6 871.5 299.2 874.3 290.0 877.0 289.6 880.1 278.2 880.8 281.1 882.9 281.1 886.0 267.2 887.4 276.8 888.6 265.8 890.1 273.4 890.2 275.7 892.3 262.4 894.8 274.2 896.9 265.2 899.1 273.5 901.8 268.4 901.9 266.9 903.2 271.0 905.8 260.7 907.1 266.0 908.8 259.1 911.4 265.4 913.4 262.2 914.0 255.5 916.0 269.8 917.8 267.3 920.6 275.1 922.4 269.2 923.6 277.8 925.1 273.6 925.3 272.9 926.6 280.9 929.4 277.7 930.8 280.7 934.0 275.4 935.6 287.4 936.7 280.0 937.4 280.7 939.8 294.8 941.6 295.0 943.6 305.2 943.7 302.2 945.0 303.4 947.0 324.1 948.2 322.8 949.9 338.3 950.7 339.7 952.9 350.1 954.6 364.8 956.4 371.5 957.7 375.8 958.9 384.5 961.9 383.0 963.7 392.0 964.7 389.5 965.6 388.9 968.3 400.7 971.1 397.3 971.6 406.5 973.5 408.1 975.0 406.7 976.6 414.8 978.6 422.0 979.3 421.9 981.9 434.9 983.3 441.4 984.9 441.5 987.7 458.6 989.7 462.5 990.3 465.5 991.2 470.2 994.2 480.0 996.8 498.3 997.3 499.5 999.1 499.1 1001.7 501.3 1003.7 498.5 1004.3 502.5 1005.5 495.2 1007.9 478.7 1009.8 472.4 1010.1 477.0 1012.1 516.8 1012.7 519.1 1015.7 534.8 1016.4 536.9 1018.6 537.6 1020.6 540.3 1020.7 539.9 1022.6 542.0 1024.9 546.2 1025.6 547.9 1027.6 550.5 1028.2 552.4 1030.4 556.0 1031.8 555.7 1032.4 556.6 1033.9 560.2 1036.1 560.2 1037.8 563.3 1038.9 565.5 1041.0 567.2 1041.9 564.2 1043.4 560.0 1043.7 558.3 1045.8 562.0 1048.3 569.4 1048.4 569.2 1049.8 568.0 1052.7 569.5 1053.8 569.1 1055.0 569.5 1058.1 576.3 1059.1 578.1 1059.7 578.5 1061.9 583.4 1063.8 585.4 1065.5 587.2 1066.3 589.7 1068.7 590.1 1070.9 591.1 1071.9 589.8 1072.7 592.5 1074.9 601.5 1076.2 603.6 1076.9 606.2 1079.9 616.0 1081.5 618.7 1082.0 619.3 1084.1 623.1 1085.9 623.4 1086.9 625.2 1087.6 626.6 1090.7 629.4 1092.2 631.0 1092.5 632.7 1095.4 634.3 1097.5 635.9 1097.8 636.0 1101.0 625.6 1102.5 621.3 1102.9 620.5 1105.6 619.9 1106.1 621.7 1108.4 622.6 1109.3 624.6 1110.7 614.9 1112.5 607.3 1113.3 603.3 1115.7 592.4 1116.0 590.0 1118.0 589.5 1120.0 586.6 1120.5 581.0 1122.2 572.6 1123.2 565.7 1123.4 562.8 1126.0 540.6 1126.4 535.7 1128.1 522.4 1129.6 512.1 1130.0 506.6 1131.1 497.9 1132.9 478.8 1135.7 461.6 1138.9 437.3 1140.0 430.7 1141.9 430.3 1145.0 415.6 1145.8 415.3 1146.5 413.4 1148.0 401.1 1149.7 398.1 1151.6 391.5 1151.6 389.5 1153.1 376.5 1153.1 373.4 1154.6 370.2 1155.8 369.0 1156.2 365.9 1158.9 351.8 1159.3 351.5 1160.8 345.7 1161.6 341.0 1163.2 350.4 1164.0 356.8 1165.3 353.3 1167.1 344.7 1168.0 337.4 1170.2 325.8 1170.8 324.7 1172.5 314.4 1172.8 310.0 1175.1 317.8 1175.6 317.1 1176.5 308.3 1178.2 310.3 1178.7 305.9 1179.9 303.3 1181.7 299.6 1181.8 298.6 1183.6 289.1 1184.9 291.7 1185.9 289.4 1187.8 281.3 1188.0 282.6 1189.6 278.0 1190.4 273.0 1192.5 273.4 1193.5 275.7 1193.7 278.2 1194.9 266.4 1196.2 264.5 1196.6 260.0 1198.9 271.9 1199.2 272.1 1201.6 269.5 1202.0 264.5 1204.3 248.2 1205.1 247.4 1207.4 264.5 1207.5 261.1 1209.0 253.6 1210.6 246.2 1212.1 253.9 1213.7 259.2 1213.8 258.4 1216.0 251.0 1216.8 245.3 1218.6 237.2 1219.1 238.7 1221.4 249.7 1221.4 249.1 1223.1 244.3 1224.5 244.4 1225.2 243.4 1226.5 232.2 1227.6 230.7 1228.3 230.4 1229.2 227.8 1231.4 235.4 1231.5 237.7 1233.9 228.8 1234.4 232.5 1236.8 233.3 1237.0 235.6 1239.6 235.9 1240.1 232.6 1242.6 234.5 1243.2 238.1 1244.5 238.6 1246.3 234.4 1247.6 233.3 1249.4 240.3 1249.7 241.5 1251.2 229.0 1253.5 238.5 1255.9 229.0 1256.4 229.2 1258.5 236.7 1261.0 236.4 1262.3 241.0 1264.1 242.0 1264.8 240.2 1267.8 249.0 1270.3 237.8 1271.9 245.1 1273.5 249.5 1275.7 246.6 1278.5 253.8 1279.6 248.4 1280.0 249.0 1283.0 261.5 1285.1 260.5 1287.4 263.5 1288.0 273.6 1289.9 269.6 1292.3 289.1 1293.2 289.6 1295.2 295.0 1297.8 314.5 1299.0 320.7 1300.3 321.5 1303.4 338.8 1304.8 341.9 1304.9 346.7 1306.2 346.3 1308.5 351.2 1310.7 359.7 1311.6 362.7 1314.2 362.8 1316.0 365.3 1316.5 365.5 1317.4 366.5 1319.5 379.7 1320.0 383.1 1321.7 383.8 1323.8 393.4 1324.4 394.6 1326.3 396.9 1328.0 401.5 1328.7 403.3 1331.0 407.0 1332.7 415.0 1333.1 414.5 1334.2 417.9 1336.1 430.1 1336.7 431.5 1339.1 414.7 1339.6 412.2 1340.6 416.8 1341.8 419.2 1342.4 413.5 1344.0 401.3 1345.5 419.7 1346.9 433.5 1347.3 425.2 1349.1 397.4 1350.2 412.6 1351.5 424.8 1352.0 431.3 1354.5 427.7 1355.6 426.0 1356.2 425.8 1357.7 430.6 1359.3 433.2 1360.4 432.2 1362.9 436.4 1363.6 445.5 1364.4 455.8 1366.7 479.6 1368.0 493.4 1369.4 483.6 1371.7 468.6 1372.5 469.1 1374.6 476.3 1375.6 485.6 1377.5 499.5 1377.9 501.0 1379.4 509.5 1380.4 513.2 1382.3 505.3 1384.0 498.8 1384.3 499.1 1386.1 499.8 1386.9 501.6 1388.3 494.1 1389.6 486.2 1390.8 482.2 1391.3 481.0 1392.6 473.6 1394.2 467.6 1395.0 468.4 1397.7 471.9 1399.3 473.9 1400.8 479.6 1402.9 483.7 1403.6 485.1 1406.7 485.3 1408.8 485.6 1409.2 483.7 1411.8 483.4 1413.1 482.2 1414.2 480.1 1415.6 479.4 1416.9 476.4 1418.9 475.4 1419.6 472.9 1421.2 469.3 1424.0 465.9 1424.8 464.4 1426.1 466.1 1427.3 468.1 1429.7 469.7 1430.6 471.9 1431.8 473.5 1433.1 472.0 1434.8 475.4 1436.4 476.8 1436.6 474.9 1438.5 473.9 1441.1 467.1 1442.7 465.6 1442.9 463.8 1444.8 470.1 1447.2 479.8 1448.0 482.3 1450.3 468.0 1451.7 460.9 1451.7 462.1 1453.1 474.8 1454.6 491.6 1455.3 495.9 1456.3 493.0 1457.8 490.0 1459.2 484.6 1459.7 485.1 1460.8 481.6 1462.4 473.2 1464.0 468.0 1464.6 465.8 1467.1 451.2 1468.4 445.2 1469.0 442.5 1469.6 439.5 1470.5 432.5 1471.9 428.6 1473.7 418.8 1474.9 413.5 1475.2 414.0 1477.4 403.4 1480.3 394.9 1480.3 396.1 1482.9 385.1 1484.5 383.4 1485.6 379.7 1485.8 374.9 1487.2 373.3 1489.2 360.5 1489.9 360.2 1491.2 358.2 1493.7 351.1 1495.1 349.8 1495.2 347.7 1496.8 341.8 1499.4 337.4 1499.4 337.3 1501.6 317.7 1501.7 316.8 1503.9 322.6 1504.8 323.4 1506.9 310.4 1508.4 308.3 1510.0 296.9 1510.1 300.3 1512.3 298.8 1514.4 296.3 1514.6 293.9 1517.8 287.7 1518.6 283.2 1520.9 275.8 1523.3 273.9 1524.0 272.9 1525.0 256.5 1526.0 255.3 1528.6 268.0 1529.3 268.6 1530.1 263.8 1532.5 260.7 1534.3 249.0 1534.6 251.0 1536.2 252.4 1537.7 249.2 1539.0 252.4 1540.0 249.5 1541.9 245.5 1543.2 244.4 1544.5 242.1 1547.2 226.6 1547.4 228.9 1549.0 234.9 1551.0 231.0 1551.7 234.0 1552.6 238.0 1555.0 228.1 1557.8 231.9 1560.0 226.9 1560.6 227.4 1563.7 226.1 1564.2 223.4 1565.4 219.2 1568.0 225.0 1569.4 211.6 1571.7 220.7 1573.1 207.2 1574.1 215.7 1575.4 218.2 1577.7 206.3 1579.6 214.9 1581.5 209.9 1581.5 214.6 1584.1 219.1 1586.3 214.6 1588.3 219.8 1588.9 220.7 1589.7 214.5 1591.5 226.7 1594.4 228.9 1597.5 234.7 1598.8 228.1 1599.5 227.3 1602.4 238.3 1605.4 229.5 1607.0 241.6 1608.7 234.1 1608.7 232.2 1611.3 241.8 1613.1 233.8 1616.3 247.3 1618.2 242.1 1618.6 244.4 1620.8 252.4 1623.5 251.7 1625.1 259.7 1626.0 257.6 1628.0 261.5 1629.9 270.9 1631.3 266.2 1632.6 278.1 1633.4 276.9 1634.7 279.7 1637.2 296.2 1638.4 303.8 1638.9 302.4 1641.8 326.9 1643.3 337.1 1643.5 334.2 1646.4 350.9 1647.7 349.1 1649.4 363.0 1650.7 361.1 1650.9 360.6 1653.0 372.5 1654.9 375.8 1656.9 381.9 1658.2 385.5 1659.8 387.7 1662.2 397.7 1664.6 402.3 1665.6 406.6 1666.6 413.8 1669.4 429.7 1670.5 437.8 1671.6 447.0 1674.0 453.1 1674.3 448.8 1677.3 406.2 1677.9 393.9 1679.7 402.0 1681.8 411.1 1682.9 412.4 1683.5 409.8 1686.6 416.2 1686.8 412.9 1689.3 456.6 1690.3 472.3 1692.1 479.3 1693.7 480.6 1695.2 481.4 1695.8 484.6 1698.8 486.1 1700.2 491.4 1700.5 488.1 1703.3 460.5 1705.1 449.2 1705.6 492.1 1706.0 531.7 1707.2 532.2 1709.2 536.7 1710.5 537.2 1711.0 542.1 1713.1 545.8 1715.7 548.8 1717.0 553.5 1717.6 553.7 1718.8 554.1 1721.5 559.3 1722.5 559.4 1723.1 559.1 1725.4 559.6 1727.5 557.2 1728.2 559.2 1730.5 566.7 1732.0 569.7 1734.1 573.8 1735.0 574.2 1737.7 569.3 1739.0 566.4 1740.0 570.0 1741.9 571.1 1744.3 575.4 1745.6 575.8 1746.2 575.3 1747.7 578.2 1749.1 577.7 1750.4 580.9 1752.0 580.3 1752.2 582.3 1753.6 584.1 1756.1 587.0 1758.5 592.2 1758.8 592.2 1760.9 593.5 1763.7 598.4 1765.1 598.7 1767.1 602.2 1767.1 602.6 1768.4 603.3 1770.5 606.5 1771.8 607.5 1772.0 609.2 1773.2 604.8 1774.6 598.2 1776.5 591.3 1777.0 589.5 1779.3 584.4 1781.0 582.6 1781.9 578.6 1783.7 587.1 1785.4 594.5 1786.9 599.7 1787.2 599.4 1789.3 598.5 1790.2 596.4 1790.6 598.4 1792.7 605.5 1795.1 610.8 1796.8 616.9 1798.0 612.9 1799.3 606.1 1801.7 596.7 1802.1 594.0 1804.4 580.6 1806.7 569.9 1806.8 567.6 1808.1 555.7 1811.0 534.4 1812.8 515.4 1813.9 513.0 1815.1 503.7 1817.4 488.2 1820.4 470.6 1821.3 466.2 1822.8 456.1 1826.0 440.6 1827.6 429.2 1830.2 415.7 1831.2 406.2 1832.5 400.6 1834.7 396.5 1837.2 383.2 1838.7 377.5 1839.5 379.2 1841.4 367.2 1843.8 361.6 1845.2 352.9 1845.5 350.1 1847.4 349.7 1849.5 341.5 1851.1 335.0 1851.1 341.7 1853.4 323.6 1856.0 313.8 1856.6 307.4 1857.4 299.7 1859.2 280.5 1860.5 262.7 1861.4 255.8 1862.9 260.5 1864.3 254.3 1866.0 264.0 1867.6 261.4 1868.1 259.7 1870.2 264.9 1871.4 256.9 1874.5 263.2 1875.0 257.9 1876.2 256.2 1878.6 255.8 1880.2 244.9 1882.4 246.8 1882.6 247.3 1884.5 235.9 1886.4 239.8 1888.5 235.4 1889.7 236.0 1890.9 238.1 1893.3 223.6 1895.3 229.2 1895.9 232.8 1897.6 220.8 1899.0 228.4 1900.7 213.3 1900.8 220.0 1902.6 224.8 1905.0 209.5 1907.0 221.9 1908.2 215.8 1908.8 215.6 1910.2 221.1 1912.6 213.6 1914.0 216.8 1915.5 208.3 1916.3 206.8 1918.8 206.0 1921.3 195.2 1921.8 201.1 1922.8 202.5 1924.7 194.9 1927.8 210.1 1928.4 208.8 1929.2 204.8 1931.7 212.6 1933.8 204.5 1935.8 210.6 1936.2 215.2 1938.2 203.3 1939.7 212.3 1942.0 201.7 1943.2 211.7 1943.2 211.5 1946.1 204.1 1948.9 219.8 1950.5 218.3 1950.9 218.1 1953.2 225.1 1955.4 221.9 1957.9 226.7 1958.6 231.0 1959.9 227.6 1961.7 236.8 1963.7 228.3 1965.3 237.4 1966.4 242.0 1969.1 241.8 1971.2 252.8 1972.4 247.2 1972.6 251.1 1974.9 263.1 1976.9 268.1 1978.2 273.7 1978.3 276.0 1980.8 292.3 1981.9 300.9 1982.9 311.0 1984.7 316.4 1985.5 326.9 1986.4 334.8 1988.7 346.2 1989.2 353.1 1990.4 361.3 1990.7 364.9 1992.3 371.0 1992.6 373.7 1994.5 386.5 1995.4 384.4 1997.0 382.1 1997.6 378.3 1999.3 380.2 1999.4 378.0 2000.9 394.2 2001.5 397.6 2002.8 409.1 2004.6 404.2 2005.2 399.7 2007.5 394.8 2008.6 392.3 2010.1 404.5 2011.0 410.3 2013.0 440.4 2013.1 439.4 2015.5 487.4 2015.8 479.2 2016.9 435.1 2018.3 435.0 2018.8 437.4 2020.4 462.2 2020.7 463.5 2021.9 440.0 2022.7 424.3 2024.5 442.8 2024.6 443.1 2026.1 466.0 2027.0 473.0 2027.2 477.0 2029.5 515.8 2030.2 525.5 2031.1 537.3 2032.0 533.8 2033.4 529.5 2034.9 537.5 2036.6 545.1 2037.3 549.3 2039.7 550.4 2041.1 550.1 2042.9 545.1 2043.5 544.7 2044.2 551.7 2045.0 558.1 2046.0 541.3 2048.1 506.8 2049.2 519.6 2049.7 523.9 2051.2 568.4 2052.3 568.5 2054.9 573.8 2055.1 572.7 2056.4 565.9 2057.6 562.2 2059.3 552.4 2059.8 550.5 2062.4 542.2 2063.7 536.7 2065.2 537.2 2066.8 541.7 2067.2 540.1 2069.9 533.4 2069.9 532.5 2072.9 553.0 2073.0 553.0 2074.7 553.8 2077.7 563.1 2079.2 563.7 2079.4 564.2 2081.3 563.1 2082.6 559.9 2083.9 557.2 2084.1 559.8 2086.4 572.0 2087.0 575.5 2087.7 579.7 2089.9 591.0 2091.5 599.8 2091.6 600.9 2094.2 603.5 2094.8 607.4 2095.6 610.7 2097.3 612.8 2099.0 618.9 2101.4 623.7 2101.8 622.6 2104.2 630.2 2106.9 631.7 2108.8 635.9 2109.6 638.3 2112.1 636.9 2114.0 637.6 2114.4 639.7 2116.3 634.6 2117.9 634.8 2119.3 630.3 2120.8 637.8 2122.8 648.1 2124.5 652.8 2125.3 659.3 2126.6 671.0 2128.0 678.3 2128.6 679.4 2130.0 676.3 2131.5 667.0 2131.9 671.2 2134.5 685.8 2135.0 684.5 2136.4 688.9 2139.0 695.0 2140.2 694.7 2140.4 693.1 2142.4 681.2 2144.4 665.4 2145.5 660.2 2146.6 651.5 2148.3 636.9 2150.7 623.0 2150.9 621.8 2153.9 594.9 2156.0 581.6 2156.7 576.3 2157.9 565.1 2160.1 554.9 2161.2 547.5 2162.0 541.2 2164.4 523.9 2165.7 511.6 2166.5 506.7 2168.4 492.9 2170.4 471.5 2171.7 464.6 2173.5 455.6 2174.7 443.1 2176.8 437.2 2176.9 432.7 2178.9 405.5 2179.0 406.5 2181.8 401.6 2184.5 389.9 2186.1 389.1 2186.4 384.5 2187.9 382.1 2190.0 379.0 2190.6 384.0 2192.6 372.5 2194.3 375.5 2194.8 370.5 2197.4 358.3 2199.6 353.9 2200.3 350.0 2202.2 342.1 2204.5 339.7 2206.0 336.6 2207.6 325.3 2209.2 322.3 2212.2 303.3 2212.4 307.9 2215.2 306.7 2217.8 297.1 2218.8 291.6 2220.4 295.1 2223.0 285.7 2225.2 281.4 2225.3 287.0 2227.6 275.5 2229.2 277.7 2231.5 268.5 2231.6 273.0 2234.1 274.1 2236.3 262.0 2238.8 268.2 2239.6 262.2 2240.9 258.4 2243.7 261.6 2246.0 256.5 2246.4 253.3 2247.8 258.0 2250.5 248.0 2252.3 247.3 2252.4 246.2 2253.6 241.9 2255.1 243.9 2256.9 233.1 2258.8 239.2 2259.2 238.1 2261.0 233.1 2262.6 237.8 2265.2 231.0 2265.4 227.0 2267.3 228.6 2270.3 217.2 2272.0 224.0 2273.9 216.9 2274.5 215.3 2276.5 221.1 2279.4 221.3 2279.6 223.7 2281.9 220.9 2284.4 204.1 2285.8 206.3 2286.0 209.2 2288.5 207.9 2290.4 218.3 2292.4 220.3 2293.1 216.2 2296.0 231.1 2297.4 229.3 2298.7 234.4 2300.4 227.5 2301.4 229.4 2304.5 235.4 2307.5 227.8 2308.4 230.0 2309.6 235.8 2312.4 229.0 2313.7 237.7 2315.0 231.9 2316.4 237.7 2317.4 242.3 2319.6 238.3 2322.5 248.6 2322.8 247.6 2324.1 244.6 2326.3 253.6 2329.2 256.0 2329.4 255.0 2331.3 265.1 2332.4 265.7 2333.3 266.1 2335.5 280.8 2335.7 281.7 2338.6 296.6 2338.9 304.9 2340.2 360.6 2340.4 374.0 2341.7 439.8 2343.0 440.0 2344.8 441.5 2345.0 445.6 2347.0 460.0 2347.3 461.8 2348.8 438.0 2349.5 422.6 2350.9 444.4 2352.6 471.5 2353.2 476.1 2355.2 482.7 2357.3 494.5 2357.4 495.2 2359.9 502.4 2361.9 513.0 2362.8 511.9 2365.0 510.2 2365.1 508.5 2367.1 504.4 2368.1 501.1 2370.2 520.8 2371.2 532.2 2371.8 535.6 2373.1 537.2 2375.9 545.8 2376.1 546.6 2377.8 546.8 2379.3 550.4 2381.3 550.2 2382.1 550.9 2383.2 557.5 2385.1 565.6 2386.8 572.4 2388.0 579.2 2389.3 575.3 2389.8 577.5 2391.2 579.7 2392.9 575.8 2396.0 578.1 2396.3 580.3 2398.0 577.3 2399.9 583.8 2402.7 586.2 2403.3 590.8 2405.8 597.7 2408.0 601.0 2408.5 600.7 2410.8 601.7 2412.5 598.4 2413.8 595.9 2414.4 597.7 2416.8 594.6 2417.3 597.9 2418.5 588.8 2420.2 574.4 2421.8 567.2 2422.5 565.2 2423.5 566.1 2426.4 580.5 2427.7 587.9 2429.2 590.6 2430.6 598.4 2432.5 604.2 2433.0 606.3 2435.2 605.9 2436.5 604.6 2438.1 610.5 2440.4 622.7 2441.7 624.4 2443.0 628.8 2444.7 633.4 2447.5 634.0 2448.7 634.6 2450.3 635.7 2452.3 630.7 2454.0 632.7 2455.3 628.0 2455.7 632.7 2457.7 631.8 2460.2 633.1 2461.4 636.8 2462.6 637.2 2463.6 633.9 2466.7 634.6 2467.9 634.1 2468.0 632.9 2469.5 635.0 2470.8 634.8 2472.8 636.6 2473.1 633.0 2474.8 639.4 2476.6 642.6 2477.8 647.6 2479.1 646.0 2480.7 649.1 2481.8 646.3 2483.8 641.6 2485.0 640.7 2486.7 635.8 2487.1 637.1 2488.7 631.1 2489.9 626.3 2491.7 621.8 2494.0 613.2 2494.1 613.4 2496.5 608.1 2498.9 598.7 2501.0 596.3 2501.4 596.9 2503.9 588.8 2505.1 587.3 2506.3 582.4 2507.6 571.2 2510.0 557.4 2511.5 544.5 2511.6 544.3 2513.7 530.2 2515.4 513.7 2516.7 503.8 2518.3 495.3 2520.1 476.6 2521.6 472.9 2522.0 468.7 2524.4 449.0 2525.5 444.5 2526.4 438.2 2527.1 435.0 2530.0 416.9 2530.0 413.7 2532.2 411.4 2532.6 408.1 2534.4 392.8 2534.6 389.3 2535.9 376.2 2536.7 372.4 2537.3 368.2 2538.8 334.9 2539.1 338.5 2540.2 346.2 2541.4 332.2 2541.7 328.5 2543.1 325.3 2544.1 327.5"/>
<path stroke="#df5b7b" d="M139.7 553.2L141.2 554.9 142.2 560.8 143.4 557.8 145.8 550.0 147.0 549.5 148.5 542.4 149.2 541.6 151.6 545.6 152.9 541.3 154.4 549.0 154.4 548.0 157.5 536.9 159.6 533.9 159.9 535.0 161.8 524.4 164.1 528.8 164.9 526.2 166.6 519.9 168.3 517.7 169.8 513.2 171.8 509.6 172.6 510.9 175.1 501.5 177.0 504.8 177.4 507.3 180.2 500.0 182.3 497.9 182.5 501.0 185.7 506.6 187.3 517.1 189.3 519.9 189.6 515.3 191.7 514.6 193.6 504.8 194.5 505.7 196.0 510.2 197.7 500.4 200.5 507.2 203.3 502.6 203.4 500.6 204.9 508.2 207.0 499.6 208.8 506.8 210.2 502.3 210.2 499.6 213.1 505.8 213.7 500.9 215.2 496.0 216.7 498.0 219.2 484.3 220.7 487.8 220.9 491.4 223.9 483.3 225.5 489.2 226.8 483.6 227.7 484.1 228.4 485.9 230.2 481.3 232.4 488.3 234.7 485.0 235.4 483.1 238.0 496.2 239.9 490.9 239.9 495.1 241.1 497.6 242.6 484.0 245.1 484.5 245.8 487.7 247.9 482.2 250.5 496.8 251.8 489.9 252.1 497.5 253.1 502.7 256.0 503.9 258.4 511.5 259.1 509.7 260.2 509.3 262.0 523.2 263.4 523.8 264.9 530.3 266.1 531.6 266.2 527.4 269.1 537.5 271.2 536.7 272.7 547.0 273.1 545.5 275.3 544.6 276.9 553.2 278.2 548.8 280.0 552.7 280.6 555.1 283.6 553.0 284.9 558.7 287.0 560.2 287.7 556.1 289.3 563.4 290.7 564.8 291.9 568.6 293.7 567.0 294.0 568.9 296.3 572.7 298.5 572.4 301.0 577.3 301.4 580.4 303.1 582.7 303.5 585.5 304.9 600.0 305.8 606.4 306.6 605.8 307.6 606.7 309.8 607.7 311.6 608.0 312.9 607.0 314.0 607.9 314.7 611.2 316.6 616.9 316.8 614.9 318.6 614.1 319.2 611.3 321.3 612.2 322.1 613.1 322.6 613.8 323.9 618.0 323.9 619.6 325.0 625.5 326.0 613.9 326.5 606.6 327.6 617.5 328.5 628.5 330.5 618.5 332.0 607.7 333.2 614.2 335.5 628.7 335.5 631.5 338.0 618.7 338.4 614.7 340.6 610.2 340.7 609.6 343.4 628.9 343.6 631.1 346.4 620.9 347.4 615.2 347.9 614.8 350.0 620.5 350.4 620.2 351.9 625.3 353.5 633.6 354.0 632.5 356.7 614.5 357.3 612.0 359.7 648.8 359.9 652.3 360.9 665.6 362.4 660.0 363.3 660.1 363.7 660.3 365.6 660.4 366.2 661.8 367.2 658.9 369.1 653.3 370.4 659.2 371.8 672.4 373.0 679.6 373.5 671.5 374.4 661.8 375.4 665.3 376.8 668.4 376.9 672.2 379.7 678.7 379.8 679.2 382.2 663.8 382.2 664.8 383.7 674.0 384.6 677.9 385.9 676.7 387.3 678.4 388.5 679.7 389.7 679.1 391.3 683.0 391.4 684.1 392.6 678.6 393.3 677.9 394.0 680.5 396.3 688.7 396.4 687.1 398.8 690.8 400.1 689.6 400.7 688.7 403.2 693.0 405.0 694.2 405.1 693.1 406.5 691.5 407.9 689.8 408.4 689.0 410.4 692.4 413.4 691.8 413.7 692.6 414.8 694.6 416.2 693.6 418.5 694.3 418.6 694.0 420.5 702.0 421.6 699.6 422.4 700.0 424.6 693.1 425.4 690.6 427.2 682.4 428.6 678.3 429.2 675.8 431.4 663.8 433.1 658.8 434.0 655.5 435.4 647.1 437.0 643.1 437.6 639.1 438.9 620.8 440.0 607.7 441.7 606.2 444.3 597.7 444.7 596.7 447.1 581.0 449.8 559.7 450.5 555.7 451.6 549.2 454.4 531.3 456.1 522.2 456.3 516.9 457.5 511.0 459.5 511.3 461.7 503.9 462.1 505.7 463.3 492.6 463.5 495.0 465.9 494.0 467.9 496.8 468.3 497.5 470.0 489.4 471.4 487.0 472.4 486.7 474.3 477.9 476.0 471.8 477.0 481.3 478.4 487.4 478.8 486.8 481.6 471.4 483.0 462.9 483.6 462.0 485.9 464.9 488.5 461.1 488.8 458.3 490.7 460.1 492.4 455.9 494.7 455.0 495.6 448.8 497.0 434.0 497.0 436.4 498.8 442.9 500.5 446.9 501.1 442.7 502.4 435.6 502.8 427.5 503.9 429.5 506.3 441.4 506.7 442.0 509.5 424.0 511.9 421.8 512.1 421.2 514.9 421.5 516.7 429.7 517.6 428.2 519.4 420.7 521.4 417.6 521.9 419.8 523.8 410.5 526.0 410.0 526.5 411.7 528.5 415.0 529.5 420.1 530.0 417.1 532.9 392.1 533.0 391.9 535.5 398.8 537.7 399.8 538.2 396.5 540.5 391.1 541.2 387.9 543.3 386.9 545.4 394.5 547.0 393.9 547.7 388.4 549.0 395.4 551.4 386.0 554.0 392.4 554.2 395.5 556.8 387.2 559.6 395.7 560.0 394.1 561.8 390.4 562.2 392.4 564.8 394.5 566.2 392.9 569.1 400.0 570.0 394.3 571.1 390.0 572.5 395.7 574.9 387.9 575.8 390.1 577.0 393.6 579.1 387.4 581.6 397.3 582.0 399.7 583.4 398.7 585.9 404.1 587.9 404.4 588.6 402.7 590.2 407.1 592.4 401.9 593.3 409.4 593.8 409.7 596.0 411.8 597.9 416.0 599.0 420.6 600.5 421.2 601.7 429.3 602.6 428.9 603.1 429.1 605.2 445.3 607.2 453.6 608.3 456.4 609.6 462.9 611.9 474.1 612.8 477.0 615.1 489.7 616.5 492.2 616.5 490.4 618.6 501.3 620.2 502.5 621.2 505.0 622.8 510.1 625.1 511.3 625.8 512.7 626.9 521.3 628.1 528.7 628.6 525.8 631.5 526.5 631.6 523.5 634.2 536.5 636.3 545.5 636.3 548.0 638.3 540.7 641.0 538.1 642.1 534.5 644.1 539.6 645.5 546.6 645.6 545.2 647.0 543.2 648.9 543.8 649.1 540.9 649.7 545.4 650.7 555.8 651.2 558.5 652.5 573.2 652.6 571.5 653.8 584.9 654.5 593.1 655.4 593.7 657.0 589.8 657.4 594.3 659.4 612.4 660.1 612.6 661.8 608.3 662.5 610.1 663.8 616.9 664.2 618.0 665.1 619.9 667.2 626.5 668.1 628.4 670.1 614.4 671.0 607.4 673.1 622.3 674.9 633.0 675.1 629.8 677.8 596.5 678.0 601.1 679.3 615.1 681.1 639.0 681.6 644.5 683.1 650.6 684.9 653.5 685.8 654.1 687.7 656.2 689.1 654.1 689.3 654.8 691.6 658.0 693.0 657.4 693.2 657.9 695.5 655.0 696.5 651.9 698.3 646.5 699.4 642.8 701.4 648.9 703.1 652.4 703.4 653.4 704.9 657.1 707.2 660.2 707.9 661.5 710.5 662.6 710.8 663.5 713.8 656.9 714.0 657.3 716.3 664.1 717.9 668.1 718.9 667.9 720.8 673.4 722.4 673.7 722.9 676.5 724.2 675.0 726.8 670.7 727.0 671.5 728.7 669.5 730.3 665.9 731.3 666.9 733.5 673.6 734.4 675.3 735.6 675.5 737.7 679.9 738.7 679.6 740.2 678.3 742.4 680.9 742.6 681.0 743.9 679.6 745.9 680.0 747.0 679.1 749.2 676.7 749.2 677.2 751.0 679.8 752.6 681.1 753.3 683.2 755.0 684.2 757.0 685.0 757.5 687.5 758.4 686.1 759.7 685.2 761.6 687.1 761.7 686.5 764.0 685.3 765.7 687.3 766.3 685.3 768.2 674.0 769.3 670.7 771.5 665.1 772.3 665.6 774.8 661.2 775.4 657.8 777.2 642.0 778.2 636.9 780.3 619.8 780.5 618.0 782.6 605.9 784.1 587.2 784.6 587.5 786.6 585.9 787.9 578.4 790.0 573.0 790.6 571.4 792.3 564.3 793.6 563.7 795.7 558.5 797.0 558.6 798.4 550.1 800.4 531.3 801.6 524.8 802.4 522.8 804.9 505.0 806.4 503.5 807.6 496.5 808.6 491.1 810.0 484.2 812.3 467.7 815.2 454.3 815.6 450.7 817.2 434.3 820.0 426.3 821.3 413.0 822.5 415.5 822.6 413.8 824.9 407.5 826.6 405.9 827.9 401.7 829.3 403.4 829.6 398.5 831.3 393.0 833.2 396.7 835.5 391.6 836.6 385.9 838.5 388.2 840.4 380.2 842.0 380.9 843.6 369.2 844.3 364.1 845.5 371.3 847.5 357.6 849.3 364.1 850.5 357.0 851.3 350.3 852.6 358.5 854.9 350.0 857.4 355.2 857.5 351.6 860.1 346.4 863.2 346.6 864.5 339.3 865.1 333.8 867.6 333.7 869.7 324.5 871.3 327.1 871.5 323.0 874.3 313.5 877.0 313.2 880.1 303.3 880.8 303.8 882.9 304.5 886.0 291.0 887.4 302.6 888.6 288.3 890.1 296.3 890.2 300.0 892.3 284.3 894.8 298.2 896.9 287.9 899.1 299.7 901.8 291.6 901.9 291.5 903.2 295.5 905.8 285.0 907.1 289.9 908.8 281.1 911.4 288.3 913.4 285.8 914.0 279.3 916.0 291.2 917.8 288.3 920.6 299.3 922.4 292.6 923.6 300.6 925.1 296.8 925.3 295.3 926.6 304.7 929.4 298.3 930.8 304.7 934.0 297.6 935.6 310.5 936.7 303.9 937.4 303.0 939.8 316.9 941.6 319.0 943.6 327.3 943.7 324.9 945.0 327.1 947.0 346.8 948.2 344.4 949.9 359.4 950.7 361.2 952.9 372.0 954.6 385.8 956.4 390.5 957.7 395.5 958.9 403.6 961.9 402.7 963.7 411.3 964.7 410.7 965.6 409.6 968.3 422.3 971.1 418.4 971.6 425.4 973.5 428.0 975.0 426.9 976.6 437.2 978.6 445.5 979.3 446.7 981.9 461.7 983.3 469.0 984.9 468.9 987.7 484.4 989.7 488.3 990.3 488.8 991.2 491.6 994.2 500.3 996.8 517.5 997.3 518.0 999.1 516.2 1001.7 518.7 1003.7 516.6 1004.3 521.9 1005.5 515.1 1007.9 497.2 1009.8 491.0 1010.1 495.7 1012.1 534.5 1012.7 535.9 1015.7 552.0 1016.4 553.4 1018.6 555.4 1020.6 559.3 1020.7 560.4 1022.6 562.8 1024.9 567.0 1025.6 570.2 1027.6 572.1 1028.2 574.8 1030.4 578.1 1031.8 577.8 1032.4 578.7 1033.9 582.1 1036.1 581.8 1037.8 584.8 1038.9 587.0 1041.0 588.9 1041.9 584.6 1043.4 580.4 1043.7 578.8 1045.8 581.9 1048.3 589.5 1048.4 589.5 1049.8 588.1 1052.7 589.4 1053.8 590.2 1055.0 591.5 1058.1 597.7 1059.1 599.8 1059.7 600.7 1061.9 605.5 1063.8 607.6 1065.5 609.2 1066.3 612.0 1068.7 612.2 1070.9 613.1 1071.9 611.9 1072.7 614.1 1074.9 622.8 1076.2 625.2 1076.9 627.4 1079.9 637.6 1081.5 640.3 1082.0 641.8 1084.1 645.5 1085.9 645.2 1086.9 647.5 1087.6 648.9 1090.7 651.7 1092.2 654.0 1092.5 654.6 1095.4 656.2 1097.5 657.2 1097.8 657.1 1101.0 646.9 1102.5 644.1 1102.9 642.7 1105.6 641.3 1106.1 642.6 1108.4 644.6 1109.3 647.0 1110.7 636.6 1112.5 630.5 1113.3 626.3 1115.7 615.7 1116.0 613.3 1118.0 612.5 1120.0 609.7 1120.5 605.2 1122.2 596.9 1123.2 591.1 1123.4 587.9 1126.0 564.9 1126.4 559.8 1128.1 546.5 1129.6 535.3 1130.0 528.7 1131.1 520.2 1132.9 501.6 1135.7 484.1 1138.9 460.6 1140.0 453.6 1141.9 453.0 1145.0 437.8 1145.8 437.4 1146.5 435.2 1148.0 423.1 1149.7 421.1 1151.6 415.0 1151.6 413.1 1153.1 401.0 1153.1 399.8 1154.6 395.9 1155.8 396.4 1156.2 392.7 1158.9 376.1 1159.3 375.3 1160.8 370.1 1161.6 365.7 1163.2 374.1 1164.0 380.3 1165.3 377.4 1167.1 369.5 1168.0 363.3 1170.2 350.9 1170.8 349.4 1172.5 340.2 1172.8 337.0 1175.1 343.2 1175.6 342.9 1176.5 334.5 1178.2 333.9 1178.7 331.5 1179.9 329.3 1181.7 326.9 1181.8 326.3 1183.6 317.9 1184.9 320.2 1185.9 317.8 1187.8 309.8 1188.0 310.1 1189.6 305.2 1190.4 299.5 1192.5 300.1 1193.5 303.9 1193.7 306.3 1194.9 292.3 1196.2 291.9 1196.6 287.1 1198.9 299.4 1199.2 300.6 1201.6 296.0 1202.0 288.7 1204.3 273.8 1205.1 273.4 1207.4 287.7 1207.5 284.7 1209.0 277.4 1210.6 267.2 1212.1 275.9 1213.7 282.2 1213.8 283.9 1216.0 275.9 1216.8 270.4 1218.6 260.5 1219.1 265.3 1221.4 275.7 1221.4 276.0 1223.1 271.7 1224.5 269.7 1225.2 268.8 1226.5 260.5 1227.6 258.9 1228.3 255.9 1229.2 252.4 1231.4 258.7 1231.5 261.3 1233.9 252.8 1234.4 256.7 1236.8 260.8 1237.0 262.6 1239.6 261.3 1240.1 256.7 1242.6 259.8 1243.2 262.0 1244.5 265.5 1246.3 260.7 1247.6 257.8 1249.4 266.4 1249.7 269.4 1251.2 253.1 1253.5 262.4 1255.9 251.6 1256.4 255.0 1258.5 259.7 1261.0 260.7 1262.3 266.6 1264.1 267.2 1264.8 265.7 1267.8 274.5 1270.3 263.3 1271.9 269.8 1273.5 275.8 1275.7 271.3 1278.5 276.2 1279.6 270.2 1280.0 270.4 1283.0 281.6 1285.1 281.3 1287.4 286.1 1288.0 292.6 1289.9 291.1 1292.3 310.2 1293.2 308.6 1295.2 312.5 1297.8 331.4 1299.0 337.4 1300.3 338.8 1303.4 355.0 1304.8 356.1 1304.9 362.6 1306.2 364.4 1308.5 368.9 1310.7 377.6 1311.6 380.2 1314.2 381.5 1316.0 383.9 1316.5 382.6 1317.4 382.9 1319.5 394.6 1320.0 396.5 1321.7 396.7 1323.8 405.8 1324.4 407.7 1326.3 409.8 1328.0 415.9 1328.7 418.9 1331.0 424.0 1332.7 431.6 1333.1 431.6 1334.2 435.8 1336.1 448.2 1336.7 449.1 1339.1 432.8 1339.6 429.1 1340.6 436.8 1341.8 441.1 1342.4 434.9 1344.0 424.3 1345.5 446.6 1346.9 461.3 1347.3 450.9 1349.1 417.9 1350.2 430.8 1351.5 442.3 1352.0 448.3 1354.5 441.8 1355.6 439.4 1356.2 443.0 1357.7 452.1 1359.3 456.3 1360.4 454.4 1362.9 457.0 1363.6 463.9 1364.4 474.7 1366.7 499.8 1368.0 514.5 1369.4 506.6 1371.7 492.4 1372.5 494.8 1374.6 502.7 1375.6 510.6 1377.5 523.1 1377.9 522.6 1379.4 529.7 1380.4 533.5 1382.3 525.8 1384.0 518.4 1384.3 520.2 1386.1 521.3 1386.9 522.7 1388.3 516.1 1389.6 509.0 1390.8 506.5 1391.3 506.7 1392.6 500.1 1394.2 495.2 1395.0 495.7 1397.7 498.5 1399.3 500.0 1400.8 503.8 1402.9 505.9 1403.6 506.6 1406.7 506.4 1408.8 505.7 1409.2 504.5 1411.8 503.4 1413.1 501.9 1414.2 499.5 1415.6 499.1 1416.9 495.5 1418.9 494.7 1419.6 492.3 1421.2 488.5 1424.0 484.8 1424.8 483.1 1426.1 485.4 1427.3 488.0 1429.7 489.3 1430.6 491.9 1431.8 493.6 1433.1 492.5 1434.8 496.0 1436.4 496.7 1436.6 494.9 1438.5 493.0 1441.1 486.2 1442.7 483.8 1442.9 481.2 1444.8 488.0 1447.2 500.4 1448.0 505.2 1450.3 493.4 1451.7 488.0 1451.7 490.4 1453.1 505.1 1454.6 519.9 1455.3 522.7 1456.3 518.3 1457.8 513.6 1459.2 508.2 1459.7 508.3 1460.8 505.8 1462.4 498.7 1464.0 494.2 1464.6 491.8 1467.1 478.3 1468.4 471.6 1469.0 468.1 1469.6 465.0 1470.5 457.1 1471.9 452.4 1473.7 441.9 1474.9 436.5 1475.2 436.8 1477.4 427.5 1480.3 418.5 1480.3 419.5 1482.9 409.0 1484.5 406.7 1485.6 401.7 1485.8 398.7 1487.2 395.8 1489.2 383.5 1489.9 382.0 1491.2 382.0 1493.7 374.4 1495.1 373.0 1495.2 369.9 1496.8 365.8 1499.4 361.7 1499.4 361.2 1501.6 341.5 1501.7 341.1 1503.9 348.3 1504.8 350.3 1506.9 336.4 1508.4 333.8 1510.0 322.2 1510.1 325.0 1512.3 323.7 1514.4 319.9 1514.6 315.6 1517.8 308.7 1518.6 303.7 1520.9 297.6 1523.3 296.8 1524.0 295.9 1525.0 279.8 1526.0 278.8 1528.6 293.4 1529.3 294.5 1530.1 289.6 1532.5 285.7 1534.3 275.2 1534.6 275.3 1536.2 278.9 1537.7 277.0 1539.0 278.4 1540.0 275.8 1541.9 272.6 1543.2 269.9 1544.5 268.8 1547.2 253.3 1547.4 254.6 1549.0 264.6 1551.0 261.1 1551.7 263.6 1552.6 266.9 1555.0 256.2 1557.8 261.8 1560.0 257.8 1560.6 254.5 1563.7 255.6 1564.2 251.7 1565.4 246.6 1568.0 254.1 1569.4 240.6 1571.7 248.9 1573.1 237.3 1574.1 246.2 1575.4 250.1 1577.7 237.7 1579.6 249.5 1581.5 244.0 1581.5 251.4 1584.1 254.5 1586.3 251.9 1588.3 259.1 1588.9 258.1 1589.7 252.4 1591.5 265.6 1594.4 266.4 1597.5 274.3 1598.8 267.9 1599.5 267.4 1602.4 275.6 1605.4 267.6 1607.0 278.7 1608.7 272.0 1608.7 270.2 1611.3 279.4 1613.1 270.3 1616.3 285.3 1618.2 278.6 1618.6 279.5 1620.8 289.1 1623.5 285.1 1625.1 291.6 1626.0 287.2 1628.0 290.0 1629.9 296.8 1631.3 289.1 1632.6 299.3 1633.4 297.6 1634.7 300.2 1637.2 318.5 1638.4 323.3 1638.9 322.7 1641.8 347.1 1643.3 355.7 1643.5 349.6 1646.4 366.7 1647.7 364.7 1649.4 378.3 1650.7 376.8 1650.9 374.9 1653.0 387.6 1654.9 391.1 1656.9 398.2 1658.2 399.9 1659.8 405.8 1662.2 415.4 1664.6 420.5 1665.6 423.8 1666.6 431.4 1669.4 449.5 1670.5 458.5 1671.6 467.3 1674.0 473.7 1674.3 468.8 1677.3 428.6 1677.9 415.2 1679.7 419.9 1681.8 429.1 1682.9 430.9 1683.5 428.9 1686.6 434.6 1686.8 432.2 1689.3 475.8 1690.3 492.4 1692.1 497.4 1693.7 496.4 1695.2 497.2 1695.8 500.5 1698.8 502.3 1700.2 507.9 1700.5 501.1 1703.3 465.9 1705.1 450.2 1705.6 492.3 1706.0 532.9 1707.2 533.5 1709.2 538.5 1710.5 543.6 1711.0 556.2 1713.1 567.5 1715.7 571.5 1717.0 575.4 1717.6 574.6 1718.8 573.8 1721.5 580.1 1722.5 579.6 1723.1 580.3 1725.4 581.2 1727.5 579.7 1728.2 582.4 1730.5 590.6 1732.0 593.1 1734.1 596.5 1735.0 596.1 1737.7 589.5 1739.0 586.9 1740.0 590.7 1741.9 592.0 1744.3 596.0 1745.6 596.7 1746.2 596.4 1747.7 598.7 1749.1 598.9 1750.4 601.0 1752.0 600.3 1752.2 602.6 1753.6 604.2 1756.1 606.7 1758.5 611.4 1758.8 611.5 1760.9 612.9 1763.7 618.3 1765.1 618.7 1767.1 622.4 1767.1 622.8 1768.4 624.1 1770.5 627.5 1771.8 629.2 1772.0 631.1 1773.2 626.6 1774.6 621.0 1776.5 615.0 1777.0 613.4 1779.3 607.1 1781.0 605.0 1781.9 601.6 1783.7 608.9 1785.4 616.1 1786.9 621.4 1787.2 620.9 1789.3 619.8 1790.2 617.8 1790.6 620.5 1792.7 627.8 1795.1 634.2 1796.8 639.6 1798.0 637.3 1799.3 631.6 1801.7 621.1 1802.1 617.5 1804.4 603.2 1806.7 592.7 1806.8 590.8 1808.1 578.8 1811.0 557.9 1812.8 541.6 1813.9 541.9 1815.1 535.1 1817.4 521.8 1820.4 505.2 1821.3 501.0 1822.8 492.0 1826.0 477.0 1827.6 465.3 1830.2 451.8 1831.2 442.4 1832.5 434.9 1834.7 430.1 1837.2 415.5 1838.7 408.2 1839.5 408.3 1841.4 395.8 1843.8 389.4 1845.2 381.2 1845.5 376.2 1847.4 375.3 1849.5 366.9 1851.1 356.6 1851.1 361.5 1853.4 342.3 1856.0 332.5 1856.6 326.1 1857.4 319.3 1859.2 302.0 1860.5 285.1 1861.4 279.3 1862.9 285.8 1864.3 279.7 1866.0 290.3 1867.6 289.0 1868.1 287.0 1870.2 292.5 1871.4 284.7 1874.5 290.2 1875.0 284.3 1876.2 281.9 1878.6 283.1 1880.2 271.5 1882.4 273.0 1882.6 274.2 1884.5 262.6 1886.4 267.9 1888.5 263.5 1889.7 264.7 1890.9 269.0 1893.3 256.7 1895.3 258.2 1895.9 265.3 1897.6 251.6 1899.0 259.1 1900.7 247.8 1900.8 252.9 1902.6 257.2 1905.0 241.5 1907.0 253.5 1908.2 247.2 1908.8 244.8 1910.2 251.5 1912.6 242.9 1914.0 247.8 1915.5 240.6 1916.3 237.6 1918.8 238.9 1921.3 226.8 1921.8 232.1 1922.8 231.9 1924.7 224.1 1927.8 239.1 1928.4 235.2 1929.2 233.7 1931.7 239.5 1933.8 231.5 1935.8 236.7 1936.2 238.6 1938.2 227.5 1939.7 237.4 1942.0 223.8 1943.2 234.6 1943.2 235.6 1946.1 227.4 1948.9 243.6 1950.5 241.9 1950.9 241.2 1953.2 249.1 1955.4 247.6 1957.9 251.0 1958.6 255.7 1959.9 250.9 1961.7 260.7 1963.7 251.9 1965.3 258.8 1966.4 265.2 1969.1 264.5 1971.2 273.8 1972.4 269.7 1972.6 272.5 1974.9 282.4 1976.9 287.4 1978.2 291.0 1978.3 291.5 1980.8 307.2 1981.9 314.7 1982.9 321.9 1984.7 325.6 1985.5 337.5 1986.4 347.9 1988.7 358.7 1989.2 367.9 1990.4 377.9 1990.7 384.9 1992.3 389.7 1992.6 394.5 1994.5 406.5 1995.4 406.0 1997.0 403.9 1997.6 399.7 1999.3 401.5 1999.4 399.4 2000.9 415.6 2001.5 418.4 2002.8 429.0 2004.6 422.4 2005.2 419.3 2007.5 415.5 2008.6 418.5 2010.1 435.0 2011.0 439.5 2013.0 469.8 2013.1 475.0 2015.5 524.6 2015.8 517.6 2016.9 470.5 2018.3 467.1 2018.8 470.6 2020.4 495.2 2020.7 493.2 2021.9 465.3 2022.7 445.5 2024.5 464.8 2024.6 467.8 2026.1 490.3 2027.0 495.7 2027.2 500.1 2029.5 540.1 2030.2 549.8 2031.1 559.7 2032.0 556.3 2033.4 551.2 2034.9 558.6 2036.6 564.7 2037.3 567.9 2039.7 569.9 2041.1 570.3 2042.9 566.1 2043.5 565.9 2044.2 572.7 2045.0 581.2 2046.0 566.8 2048.1 530.4 2049.2 544.4 2049.7 547.4 2051.2 592.5 2052.3 592.4 2054.9 596.9 2055.1 594.5 2056.4 588.1 2057.6 583.3 2059.3 574.8 2059.8 573.3 2062.4 564.4 2063.7 558.3 2065.2 559.1 2066.8 563.7 2067.2 562.4 2069.9 555.9 2069.9 555.1 2072.9 575.4 2073.0 575.9 2074.7 575.9 2077.7 585.5 2079.2 586.3 2079.4 586.3 2081.3 584.8 2082.6 580.7 2083.9 578.3 2084.1 580.1 2086.4 592.5 2087.0 595.9 2087.7 600.0 2089.9 611.4 2091.5 621.8 2091.6 622.5 2094.2 626.9 2094.8 631.1 2095.6 634.2 2097.3 637.5 2099.0 644.1 2101.4 649.3 2101.8 647.6 2104.2 655.8 2106.9 656.9 2108.8 660.8 2109.6 662.6 2112.1 661.7 2114.0 660.6 2114.4 662.9 2116.3 658.0 2117.9 657.7 2119.3 654.0 2120.8 661.8 2122.8 671.0 2124.5 675.4 2125.3 682.1 2126.6 694.7 2128.0 702.6 2128.6 704.5 2130.0 700.9 2131.5 691.7 2131.9 695.3 2134.5 709.8 2135.0 708.7 2136.4 711.2 2139.0 716.0 2140.2 717.6 2140.4 717.3 2142.4 707.3 2144.4 691.8 2145.5 687.8 2146.6 679.6 2148.3 666.7 2150.7 652.9 2150.9 652.9 2153.9 627.2 2156.0 614.8 2156.7 610.8 2157.9 600.4 2160.1 591.2 2161.2 584.1 2162.0 577.2 2164.4 561.0 2165.7 549.7 2166.5 543.9 2168.4 531.0 2170.4 509.9 2171.7 501.1 2173.5 491.1 2174.7 479.0 2176.8 474.8 2176.9 471.3 2178.9 443.0 2179.0 444.3 2181.8 440.3 2184.5 427.2 2186.1 425.0 2186.4 419.3 2187.9 416.2 2190.0 410.6 2190.6 414.8 2192.6 403.6 2194.3 403.4 2194.8 399.7 2197.4 385.2 2199.6 380.4 2200.3 376.4 2202.2 367.2 2204.5 364.8 2206.0 361.6 2207.6 351.4 2209.2 347.9 2212.2 328.2 2212.4 333.8 2215.2 333.6 2217.8 325.6 2218.8 319.9 2220.4 324.6 2223.0 315.9 2225.2 310.5 2225.3 316.7 2227.6 303.9 2229.2 307.0 2231.5 296.8 2231.6 301.3 2234.1 302.7 2236.3 290.8 2238.8 298.9 2239.6 293.3 2240.9 289.8 2243.7 293.1 2246.0 288.2 2246.4 284.6 2247.8 288.6 2250.5 278.0 2252.3 279.9 2252.4 277.0 2253.6 271.6 2255.1 273.7 2256.9 264.7 2258.8 270.0 2259.2 271.9 2261.0 266.8 2262.6 270.8 2265.2 264.5 2265.4 261.0 2267.3 265.6 2270.3 253.6 2272.0 260.8 2273.9 251.1 2274.5 245.7 2276.5 251.1 2279.4 251.5 2279.6 251.8 2281.9 246.4 2284.4 231.1 2285.8 235.1 2286.0 236.6 2288.5 236.5 2290.4 247.4 2292.4 249.2 2293.1 244.9 2296.0 260.1 2297.4 256.4 2298.7 262.3 2300.4 254.0 2301.4 256.2 2304.5 261.8 2307.5 255.6 2308.4 255.7 2309.6 259.9 2312.4 254.1 2313.7 263.9 2315.0 259.3 2316.4 263.0 2317.4 267.1 2319.6 260.5 2322.5 268.8 2322.8 267.6 2324.1 263.0 2326.3 271.5 2329.2 274.8 2329.4 274.9 2331.3 283.5 2332.4 283.5 2333.3 289.8 2335.5 309.8 2335.7 313.9 2338.6 330.0 2338.9 335.3 2340.2 388.8 2340.4 400.9 2341.7 461.5 2343.0 453.6 2344.8 447.8 2345.0 448.9 2347.0 467.7 2347.3 475.5 2348.8 451.8 2349.5 437.7 2350.9 463.5 2352.6 495.1 2353.2 498.9 2355.2 503.8 2357.3 513.5 2357.4 515.2 2359.9 522.2 2361.9 532.5 2362.8 531.1 2365.0 530.3 2365.1 528.7 2367.1 523.7 2368.1 520.9 2370.2 541.4 2371.2 554.1 2371.8 557.4 2373.1 559.5 2375.9 568.5 2376.1 570.4 2377.8 570.5 2379.3 572.8 2381.3 572.2 2382.1 571.2 2383.2 576.5 2385.1 584.1 2386.8 589.6 2388.0 596.5 2389.3 592.9 2389.8 595.9 2391.2 598.8 2392.9 595.3 2396.0 598.6 2396.3 601.5 2398.0 598.5 2399.9 606.0 2402.7 607.9 2403.3 613.1 2405.8 620.0 2408.0 623.8 2408.5 623.6 2410.8 624.0 2412.5 621.1 2413.8 617.9 2414.4 620.1 2416.8 616.4 2417.3 619.9 2418.5 611.5 2420.2 596.2 2421.8 590.2 2422.5 588.6 2423.5 590.2 2426.4 604.3 2427.7 612.3 2429.2 614.5 2430.6 622.9 2432.5 628.3 2433.0 630.4 2435.2 630.3 2436.5 628.2 2438.1 634.8 2440.4 647.4 2441.7 649.7 2443.0 654.4 2444.7 658.1 2447.5 658.8 2448.7 659.6 2450.3 659.7 2452.3 655.6 2454.0 657.2 2455.3 652.2 2455.7 657.0 2457.7 655.7 2460.2 656.8 2461.4 660.0 2462.6 661.0 2463.6 658.3 2466.7 658.9 2467.9 657.8 2468.0 657.9 2469.5 660.4 2470.8 660.2 2472.8 662.4 2473.1 658.6 2474.8 665.5 2476.6 667.4 2477.8 672.6 2479.1 670.2 2480.7 672.8 2481.8 669.4 2483.8 664.5 2485.0 664.1 2486.7 658.9 2487.1 659.9 2488.7 654.8 2489.9 649.4 2491.7 646.7 2494.0 637.9 2494.1 638.6 2496.5 634.0 2498.9 626.0 2501.0 623.1 2501.4 623.0 2503.9 615.1 2505.1 614.5 2506.3 608.5 2507.6 598.0 2510.0 583.8 2511.5 571.7 2511.6 573.6 2513.7 560.8 2515.4 544.0 2516.7 535.5 2518.3 527.6 2520.1 510.0 2521.6 506.3 2522.0 503.0 2524.4 484.7 2525.5 481.2 2526.4 475.2 2527.1 468.4 2530.0 458.7 2530.0 448.4 2532.2 442.7 2532.6 434.7 2534.4 423.7 2534.6 415.9 2535.9 406.1 2536.7 396.7 2537.3 389.4 2538.8 382.6 2539.1 378.4 2540.2 372.1 2541.4 367.3 2541.7 365.6 2543.1 366.8 2544.1 361.2"/>
<path stroke="#dccf5c" d="M139.7 526.6L141.2 527.2 142.2 533.2 143.4 530.2 145.8 521.6 147.0 520.5 148.5 513.5 149.2 512.4 151.6 516.5 152.9 512.1 154.4 518.6 154.4 517.0 157.5 505.4 159.6 501.8 159.9 501.8 161.8 492.4 164.1 497.0 164.9 494.6 166.6 490.3 168.3 489.6 169.8 484.5 171.8 481.7 172.6 483.0 175.1 474.0 177.0 476.3 177.4 479.2 180.2 471.1 182.3 469.5 182.5 472.1 185.7 478.8 187.3 486.7 189.3 490.8 189.6 484.9 191.7 486.1 193.6 475.9 194.5 476.1 196.0 479.5 197.7 471.4 200.5 476.6 203.3 473.6 203.4 470.4 204.9 478.2 207.0 470.0 208.8 478.5 210.2 474.3 210.2 473.0 213.1 478.4 213.7 474.9 215.2 470.9 216.7 470.8 219.2 456.9 220.7 459.3 220.9 462.3 223.9 452.3 225.5 458.2 226.8 452.9 227.7 453.3 228.4 454.1 230.2 449.3 232.4 456.9 234.7 454.3 235.4 452.5 238.0 465.6 239.9 462.4 239.9 464.7 241.1 468.5 242.6 455.7 245.1 455.4 245.8 461.8 247.9 455.3 250.5 468.8 251.8 462.6 252.1 468.1 253.1 471.9 256.0 473.7 258.4 479.5 259.1 479.8 260.2 476.9 262.0 490.1 263.4 490.2 264.9 498.3 266.1 499.4 266.2 496.8 269.1 508.2 271.2 507.0 272.7 516.3 273.1 516.2 275.3 516.9 276.9 525.9 278.2 521.9 280.0 526.5 280.6 528.6 283.6 526.3 284.9 533.2 287.0 534.8 287.7 531.0 289.3 538.3 290.7 538.9 291.9 543.2 293.7 541.8 294.0 544.0 296.3 547.5 298.5 545.8 301.0 551.2 301.4 553.5 303.1 556.6 303.5 559.8 304.9 574.4 305.8 582.1 306.6 582.4 307.6 583.9 309.8 585.3 311.6 585.3 312.9 585.6 314.0 586.0 314.7 589.6 316.6 594.1 316.8 592.6 318.6 590.5 319.2 588.2 321.3 587.7 322.1 587.6 322.6 590.2 323.9 593.1 323.9 592.9 325.0 598.4 326.0 587.6 326.5 579.4 327.6 588.4 328.5 597.8 330.5 590.5 332.0 582.3 333.2 589.3 335.5 602.3 335.5 603.8 338.0 590.9 338.4 589.5 340.6 585.0 340.7 583.7 343.4 603.4 343.6 606.5 346.4 598.5 347.4 594.9 347.9 594.5 350.0 600.7 350.4 601.4 351.9 605.5 353.5 611.2 354.0 608.0 356.7 588.6 357.3 584.4 359.7 618.2 359.9 619.4 360.9 632.6 362.4 628.8 363.3 629.0 363.7 628.8 365.6 625.7 366.2 626.7 367.2 625.2 369.1 621.8 370.4 630.4 371.8 644.0 373.0 652.2 373.5 646.5 374.4 638.3 375.4 642.6 376.8 644.6 376.9 645.3 379.7 650.5 379.8 650.2 382.2 634.7 382.2 635.5 383.7 644.3 384.6 648.1 385.9 649.4 387.3 653.0 388.5 655.5 389.7 655.2 391.3 657.8 391.4 659.0 392.6 653.4 393.3 652.8 394.0 655.6 396.3 663.8 396.4 662.8 398.8 667.8 400.1 668.4 400.7 668.2 403.2 672.5 405.0 674.4 405.1 673.2 406.5 672.6 407.9 670.1 408.4 668.8 410.4 671.7 413.4 671.3 413.7 670.6 414.8 672.0 416.2 670.5 418.5 671.0 418.6 669.8 420.5 677.3 421.6 674.5 422.4 674.2 424.6 666.4 425.4 664.0 427.2 654.4 428.6 649.6 429.2 647.7 431.4 635.4 433.1 630.4 434.0 626.6 435.4 616.8 437.0 609.4 437.6 602.3 438.9 582.9 440.0 568.0 441.7 565.9 444.3 556.8 444.7 556.4 447.1 543.3 449.8 525.1 450.5 521.6 451.6 517.4 454.4 500.2 456.1 493.2 456.3 489.4 457.5 484.6 459.5 485.4 461.7 477.7 462.1 479.5 463.3 468.3 463.5 469.4 465.9 468.7 467.9 470.4 468.3 470.3 470.0 462.8 471.4 459.2 472.4 457.7 474.3 448.4 476.0 445.4 477.0 454.3 478.4 461.2 478.8 459.2 481.6 446.5 483.0 437.9 483.6 435.9 485.9 437.0 488.5 433.0 488.8 433.0 490.7 434.6 492.4 428.5 494.7 428.5 495.6 422.9 497.0 408.1 497.0 409.1 498.8 415.7 500.5 417.6 501.1 412.8 502.4 408.2 502.8 402.8 503.9 404.3 506.3 414.4 506.7 414.4 509.5 397.4 511.9 393.7 512.1 391.9 514.9 391.0 516.7 396.2 517.6 396.5 519.4 389.2 521.4 387.1 521.9 387.6 523.8 379.9 526.0 379.4 526.5 381.8 528.5 383.6 529.5 388.9 530.0 387.1 532.9 361.1 533.0 363.0 535.5 369.6 537.7 370.4 538.2 368.1 540.5 364.0 541.2 359.6 543.3 356.6 545.4 365.1 547.0 363.1 547.7 361.4 549.0 366.8 551.4 358.6 554.0 365.8 554.2 367.4 556.8 360.1 559.6 366.3 560.0 365.0 561.8 360.9 562.2 361.6 564.8 366.2 566.2 362.9 569.1 370.6 570.0 362.7 571.1 359.9 572.5 364.5 574.9 357.8 575.8 360.1 577.0 364.4 579.1 359.6 581.6 367.1 582.0 369.8 583.4 369.2 585.9 374.9 587.9 372.0 588.6 373.3 590.2 376.8 592.4 370.8 593.3 377.4 593.8 379.3 596.0 381.8 597.9 387.1 599.0 389.4 600.5 391.1 601.7 400.6 602.6 401.3 603.1 399.9 605.2 416.5 607.2 424.8 608.3 429.8 609.6 438.7 611.9 447.7 612.8 452.1 615.1 464.4 616.5 468.3 616.5 466.5 618.6 476.1 620.2 478.4 621.2 480.7 622.8 486.2 625.1 486.5 625.8 487.2 626.9 496.7 628.1 503.4 628.6 500.8 631.5 501.8 631.6 499.9 634.2 513.1 636.3 523.1 636.3 525.6 638.3 518.4 641.0 516.8 642.1 512.9 644.1 517.7 645.5 524.1 645.6 522.8 647.0 522.6 648.9 524.6 649.1 523.0 649.7 528.5 650.7 540.0 651.2 543.9 652.5 561.0 652.6 560.2 653.8 571.4 654.5 576.8 655.4 577.6 657.0 573.1 657.4 575.5 659.4 590.6 660.1 591.0 661.8 587.4 662.5 590.2 663.8 597.5 664.2 598.3 665.1 599.9 667.2 605.9 668.1 608.0 670.1 596.2 671.0 591.3 673.1 603.8 674.9 612.7 675.1 610.2 677.8 577.1 678.0 580.3 679.3 591.4 681.1 611.2 681.6 617.5 683.1 623.7 684.9 627.9 685.8 628.8 687.7 630.8 689.1 629.8 689.3 629.5 691.6 633.3 693.0 632.4 693.2 633.0 695.5 630.3 696.5 626.6 698.3 620.8 699.4 617.2 701.4 623.1 703.1 626.4 703.4 627.2 704.9 631.3 707.2 634.3 707.9 635.2 710.5 636.3 710.8 637.2 713.8 630.4 714.0 630.6 716.3 637.3 717.9 640.6 718.9 641.1 720.8 646.1 722.4 647.2 722.9 649.1 724.2 647.9 726.8 643.9 727.0 644.2 728.7 642.2 730.3 639.3 731.3 641.1 733.5 647.0 734.4 649.0 735.6 649.1 737.7 653.1 738.7 652.4 740.2 651.3 742.4 653.7 742.6 654.0 743.9 651.6 745.9 652.6 747.0 651.2 749.2 647.9 749.2 649.0 751.0 651.7 752.6 653.1 753.3 655.9 755.0 656.6 757.0 657.6 757.5 660.5 758.4 659.8 759.7 659.1 761.6 660.7 761.7 660.4 764.0 658.4 765.7 659.8 766.3 657.5 768.2 645.9 769.3 643.2 771.5 638.1 772.3 638.1 774.8 633.3 775.4 629.3 777.2 613.4 778.2 606.8 780.3 588.2 780.5 585.3 782.6 574.3 784.1 556.6 784.6 558.0 786.6 556.6 787.9 550.9 790.0 547.3 790.6 547.8 792.3 543.7 793.6 544.0 795.7 538.2 797.0 538.6 798.4 528.8 800.4 508.2 801.6 500.5 802.4 495.6 804.9 476.3 806.4 474.8 807.6 468.0 808.6 463.6 810.0 457.7 812.3 442.2 815.2 429.4 815.6 426.2 817.2 410.9 820.0 404.2 821.3 389.4 822.5 390.8 822.6 389.5 824.9 382.4 826.6 380.8 827.9 375.9 829.3 376.0 829.6 372.0 831.3 363.8 833.2 368.0 835.5 361.5 836.6 355.4 838.5 357.3 840.4 348.7 842.0 347.9 843.6 337.7 844.3 332.0 845.5 339.8 847.5 326.0 849.3 332.9 850.5 325.7 851.3 319.5 852.6 328.7 854.9 320.9 857.4 327.3 857.5 322.6 860.1 319.6 863.2 319.1 864.5 310.1 865.1 304.2 867.6 304.0 869.7 294.3 871.3 294.8 871.5 292.2 874.3 282.8 877.0 283.8 880.1 273.2 880.8 274.1 882.9 274.2 886.0 261.7 887.4 271.0 888.6 258.3 890.1 265.8 890.2 268.9 892.3 255.6 894.8 268.5 896.9 259.4 899.1 268.5 901.8 261.4 901.9 261.6 903.2 265.4 905.8 254.3 907.1 260.2 908.8 252.6 911.4 259.8 913.4 256.8 914.0 249.5 916.0 264.2 917.8 260.6 920.6 270.5 922.4 262.9 923.6 272.7 925.1 267.5 925.3 266.4 926.6 275.3 929.4 270.2 930.8 275.9 934.0 269.4 935.6 281.7 936.7 275.5 937.4 275.3 939.8 289.3 941.6 290.2 943.6 299.5 943.7 296.5 945.0 297.7 947.0 317.9 948.2 316.3 949.9 331.7 950.7 334.2 952.9 345.8 954.6 360.1 956.4 365.8 957.7 371.6 958.9 379.0 961.9 377.5 963.7 387.4 964.7 384.4 965.6 384.1 968.3 396.5 971.1 393.1 971.6 401.5 973.5 402.9 975.0 401.5 976.6 409.3 978.6 416.1 979.3 415.3 981.9 428.6 983.3 434.7 984.9 435.3 987.7 450.9 989.7 455.2 990.3 458.6 991.2 463.9 994.2 474.8 996.8 493.0 997.3 495.9 999.1 494.6 1001.7 497.1 1003.7 493.6 1004.3 498.1 1005.5 491.2 1007.9 474.0 1009.8 467.9 1010.1 473.1 1012.1 512.6 1012.7 514.5 1015.7 530.6 1016.4 532.1 1018.6 533.2 1020.6 535.8 1020.7 535.2 1022.6 536.8 1024.9 540.7 1025.6 542.4 1027.6 544.8 1028.2 546.8 1030.4 550.4 1031.8 550.1 1032.4 551.2 1033.9 554.3 1036.1 554.7 1037.8 557.9 1038.9 560.6 1041.0 562.0 1041.9 558.6 1043.4 555.2 1043.7 553.6 1045.8 556.9 1048.3 565.2 1048.4 564.2 1049.8 562.9 1052.7 564.2 1053.8 563.9 1055.0 564.1 1058.1 571.1 1059.1 572.7 1059.7 573.0 1061.9 577.4 1063.8 579.8 1065.5 581.6 1066.3 584.2 1068.7 584.1 1070.9 585.7 1071.9 584.1 1072.7 587.0 1074.9 595.7 1076.2 598.5 1076.9 600.4 1079.9 610.8 1081.5 613.0 1082.0 614.0 1084.1 617.5 1085.9 617.8 1086.9 619.4 1087.6 620.8 1090.7 623.9 1092.2 626.0 1092.5 626.9 1095.4 628.9 1097.5 630.3 1097.8 630.0 1101.0 620.0 1102.5 616.5 1102.9 615.4 1105.6 614.7 1106.1 616.1 1108.4 617.3 1109.3 619.3 1110.7 609.2 1112.5 602.3 1113.3 597.6 1115.7 586.8 1116.0 584.1 1118.0 583.7 1120.0 580.9 1120.5 575.1 1122.2 566.4 1123.2 559.5 1123.4 556.4 1126.0 534.2 1126.4 529.8 1128.1 516.5 1129.6 506.8 1130.0 500.6 1131.1 492.1 1132.9 473.3 1135.7 455.8 1138.9 431.7 1140.0 425.3 1141.9 424.9 1145.0 410.3 1145.8 409.9 1146.5 408.0 1148.0 396.5 1149.7 393.3 1151.6 385.4 1151.6 382.9 1153.1 371.0 1153.1 367.6 1154.6 363.4 1155.8 362.6 1156.2 360.2 1158.9 344.2 1159.3 344.5 1160.8 339.3 1161.6 335.0 1163.2 344.9 1164.0 350.2 1165.3 347.0 1167.1 337.6 1168.0 332.0 1170.2 319.6 1170.8 318.0 1172.5 307.5 1172.8 304.2 1175.1 311.2 1175.6 309.5 1176.5 302.4 1178.2 302.4 1178.7 299.7 1179.9 295.6 1181.7 292.3 1181.8 291.4 1183.6 282.8 1184.9 284.6 1185.9 282.8 1187.8 274.7 1188.0 275.6 1189.6 272.4 1190.4 267.2 1192.5 268.2 1193.5 269.8 1193.7 271.6 1194.9 259.7 1196.2 259.0 1196.6 252.8 1198.9 265.5 1199.2 265.2 1201.6 262.2 1202.0 258.1 1204.3 242.9 1205.1 240.9 1207.4 258.1 1207.5 257.0 1209.0 248.8 1210.6 240.2 1212.1 248.3 1213.7 252.3 1213.8 252.3 1216.0 244.0 1216.8 238.5 1218.6 229.4 1219.1 233.3 1221.4 242.9 1221.4 242.8 1223.1 237.5 1224.5 236.9 1225.2 235.3 1226.5 225.2 1227.6 222.9 1228.3 223.0 1229.2 220.1 1231.4 229.4 1231.5 231.5 1233.9 222.0 1234.4 226.7 1236.8 226.4 1237.0 230.8 1239.6 228.8 1240.1 225.0 1242.6 228.0 1243.2 231.2 1244.5 232.6 1246.3 227.8 1247.6 225.7 1249.4 233.6 1249.7 235.7 1251.2 222.8 1253.5 232.0 1255.9 222.0 1256.4 225.0 1258.5 229.6 1261.0 229.4 1262.3 235.5 1264.1 237.0 1264.8 234.7 1267.8 241.2 1270.3 230.5 1271.9 238.0 1273.5 244.6 1275.7 241.3 1278.5 248.3 1279.6 242.8 1280.0 244.5 1283.0 257.0 1285.1 254.5 1287.4 259.7 1288.0 267.8 1289.9 264.3 1292.3 284.6 1293.2 285.4 1295.2 290.2 1297.8 310.2 1299.0 315.7 1300.3 317.6 1303.4 335.2 1304.8 336.8 1304.9 342.3 1306.2 343.4 1308.5 347.7 1310.7 354.9 1311.6 357.8 1314.2 357.1 1316.0 361.5 1316.5 360.8 1317.4 362.6 1319.5 375.9 1320.0 380.0 1321.7 381.2 1323.8 390.5 1324.4 391.6 1326.3 393.3 1328.0 398.5 1328.7 398.8 1331.0 403.1 1332.7 410.6 1333.1 410.8 1334.2 413.8 1336.1 425.4 1336.7 426.8 1339.1 411.1 1339.6 408.0 1340.6 412.3 1341.8 413.8 1342.4 407.8 1344.0 395.6 1345.5 413.1 1346.9 426.5 1347.3 418.9 1349.1 392.3 1350.2 407.9 1351.5 420.4 1352.0 428.0 1354.5 424.2 1355.6 422.1 1356.2 421.0 1357.7 425.3 1359.3 427.6 1360.4 426.8 1362.9 430.6 1363.6 440.7 1364.4 451.2 1366.7 474.5 1368.0 487.7 1369.4 478.1 1371.7 462.7 1372.5 462.6 1374.6 470.0 1375.6 478.7 1377.5 493.3 1377.9 495.3 1379.4 504.1 1380.4 508.2 1382.3 500.3 1384.0 493.4 1384.3 494.2 1386.1 495.1 1386.9 496.3 1388.3 488.6 1389.6 480.9 1390.8 476.2 1391.3 474.7 1392.6 467.1 1394.2 460.9 1395.0 462.2 1397.7 465.7 1399.3 467.3 1400.8 473.7 1402.9 478.0 1403.6 479.1 1406.7 480.2 1408.8 480.2 1409.2 478.7 1411.8 478.4 1413.1 477.6 1414.2 475.0 1415.6 474.3 1416.9 471.3 1418.9 470.0 1419.6 468.2 1421.2 464.6 1424.0 461.2 1424.8 459.3 1426.1 461.1 1427.3 463.1 1429.7 464.2 1430.6 467.0 1431.8 468.2 1433.1 467.0 1434.8 470.4 1436.4 471.6 1436.6 470.0 1438.5 468.6 1441.1 462.5 1442.7 461.5 1442.9 459.5 1444.8 465.4 1447.2 474.2 1448.0 476.5 1450.3 462.1 1451.7 454.5 1451.7 455.4 1453.1 467.9 1454.6 484.2 1455.3 489.3 1456.3 487.0 1457.8 484.1 1459.2 479.1 1459.7 478.9 1460.8 475.5 1462.4 466.7 1464.0 461.5 1464.6 458.9 1467.1 444.5 1468.4 437.9 1469.0 435.5 1469.6 433.1 1470.5 426.7 1471.9 422.9 1473.7 413.1 1474.9 407.9 1475.2 408.1 1477.4 397.8 1480.3 388.9 1480.3 389.9 1482.9 379.8 1484.5 377.7 1485.6 372.9 1485.8 370.5 1487.2 367.8 1489.2 354.7 1489.9 354.2 1491.2 353.0 1493.7 345.1 1495.1 343.7 1495.2 341.9 1496.8 336.0 1499.4 332.0 1499.4 331.3 1501.6 311.5 1501.7 310.8 1503.9 316.7 1504.8 317.9 1506.9 304.7 1508.4 301.6 1510.0 290.2 1510.1 293.9 1512.3 292.7 1514.4 290.5 1514.6 287.3 1517.8 282.5 1518.6 277.8 1520.9 270.6 1523.3 268.8 1524.0 267.1 1525.0 250.2 1526.0 247.9 1528.6 262.5 1529.3 262.5 1530.1 257.9 1532.5 254.2 1534.3 243.5 1534.6 242.4 1536.2 245.7 1537.7 242.2 1539.0 246.1 1540.0 242.0 1541.9 239.7 1543.2 237.2 1544.5 236.1 1547.2 219.5 1547.4 221.6 1549.0 228.1 1551.0 224.8 1551.7 228.5 1552.6 230.5 1555.0 220.2 1557.8 224.2 1560.0 220.0 1560.6 220.1 1563.7 219.8 1564.2 215.0 1565.4 211.1 1568.0 217.2 1569.4 202.5 1571.7 211.6 1573.1 200.7 1574.1 208.9 1575.4 209.3 1577.7 198.0 1579.6 207.3 1581.5 200.8 1581.5 206.1 1584.1 209.2 1586.3 205.7 1588.3 212.1 1588.9 211.8 1589.7 205.3 1591.5 218.6 1594.4 219.0 1597.5 226.3 1598.8 220.1 1599.5 216.9 1602.4 227.3 1605.4 219.3 1607.0 230.8 1608.7 224.5 1608.7 221.5 1611.3 231.7 1613.1 224.4 1616.3 240.8 1618.2 234.8 1618.6 237.2 1620.8 243.9 1623.5 242.7 1625.1 251.4 1626.0 250.4 1628.0 255.5 1629.9 264.8 1631.3 261.0 1632.6 272.9 1633.4 272.0 1634.7 275.1 1637.2 292.2 1638.4 298.1 1638.9 297.8 1641.8 322.6 1643.3 332.3 1643.5 330.0 1646.4 347.5 1647.7 346.2 1649.4 360.1 1650.7 357.6 1650.9 357.1 1653.0 370.0 1654.9 372.6 1656.9 378.8 1658.2 380.3 1659.8 384.7 1662.2 393.5 1664.6 398.7 1665.6 402.7 1666.6 410.4 1669.4 425.7 1670.5 432.7 1671.6 441.2 1674.0 447.6 1674.3 442.6 1677.3 401.2 1677.9 388.6 1679.7 397.0 1681.8 406.5 1682.9 407.6 1683.5 405.3 1686.6 410.9 1686.8 408.1 1689.3 451.1 1690.3 468.2 1692.1 474.3 1693.7 476.5 1695.2 477.4 1695.8 481.0 1698.8 482.0 1700.2 487.2 1700.5 484.9 1703.3 458.8 1705.1 449.6 1705.6 492.6 1706.0 531.6 1707.2 531.4 1709.2 535.9 1710.5 535.9 1711.0 537.7 1713.1 541.7 1715.7 543.6 1717.0 547.8 1717.6 548.0 1718.8 548.4 1721.5 554.7 1722.5 554.5 1723.1 554.3 1725.4 554.3 1727.5 551.5 1728.2 553.2 1730.5 561.1 1732.0 563.6 1734.1 568.3 1735.0 568.7 1737.7 563.9 1739.0 561.5 1740.0 564.9 1741.9 566.0 1744.3 569.9 1745.6 570.7 1746.2 570.4 1747.7 572.5 1749.1 573.0 1750.4 575.2 1752.0 574.9 1752.2 577.1 1753.6 579.1 1756.1 581.9 1758.5 587.2 1758.8 587.8 1760.9 588.5 1763.7 593.9 1765.1 594.0 1767.1 597.3 1767.1 597.4 1768.4 598.5 1770.5 601.0 1771.8 602.2 1772.0 603.9 1773.2 598.7 1774.6 592.1 1776.5 585.9 1777.0 584.2 1779.3 578.3 1781.0 576.4 1781.9 572.9 1783.7 581.3 1785.4 588.8 1786.9 594.4 1787.2 594.5 1789.3 593.0 1790.2 591.0 1790.6 593.2 1792.7 599.6 1795.1 605.3 1796.8 610.9 1798.0 606.9 1799.3 599.9 1801.7 590.6 1802.1 588.9 1804.4 574.9 1806.7 564.6 1806.8 562.7 1808.1 549.4 1811.0 528.2 1812.8 508.8 1813.9 505.3 1815.1 495.2 1817.4 479.4 1820.4 463.0 1821.3 456.8 1822.8 448.1 1826.0 431.5 1827.6 419.7 1830.2 407.2 1831.2 397.6 1832.5 392.0 1834.7 388.3 1837.2 376.1 1838.7 369.1 1839.5 372.5 1841.4 360.1 1843.8 354.2 1845.2 345.7 1845.5 342.7 1847.4 344.1 1849.5 335.7 1851.1 329.6 1851.1 336.0 1853.4 318.3 1856.0 309.5 1856.6 302.2 1857.4 294.5 1859.2 276.0 1860.5 256.8 1861.4 249.3 1862.9 253.3 1864.3 246.7 1866.0 257.3 1867.6 255.0 1868.1 253.4 1870.2 258.9 1871.4 250.3 1874.5 256.0 1875.0 250.5 1876.2 249.6 1878.6 249.8 1880.2 238.3 1882.4 240.1 1882.6 240.0 1884.5 229.0 1886.4 232.8 1888.5 227.2 1889.7 227.4 1890.9 230.5 1893.3 216.6 1895.3 221.2 1895.9 224.3 1897.6 213.1 1899.0 220.1 1900.7 205.6 1900.8 212.1 1902.6 217.3 1905.0 202.2 1907.0 213.3 1908.2 207.7 1908.8 207.2 1910.2 212.7 1912.6 206.0 1914.0 208.8 1915.5 202.6 1916.3 199.9 1918.8 198.9 1921.3 186.6 1921.8 191.9 1922.8 193.6 1924.7 186.8 1927.8 203.0 1928.4 199.8 1929.2 198.9 1931.7 205.8 1933.8 199.8 1935.8 205.5 1936.2 208.3 1938.2 197.0 1939.7 206.7 1942.0 194.2 1943.2 205.8 1943.2 205.5 1946.1 198.8 1948.9 213.5 1950.5 211.5 1950.9 211.7 1953.2 219.6 1955.4 215.3 1957.9 220.9 1958.6 224.7 1959.9 221.5 1961.7 230.4 1963.7 223.7 1965.3 231.2 1966.4 236.7 1969.1 237.6 1971.2 247.2 1972.4 241.6 1972.6 246.2 1974.9 257.2 1976.9 263.0 1978.2 269.0 1978.3 272.1 1980.8 289.0 1981.9 298.5 1982.9 308.0 1984.7 313.4 1985.5 323.6 1986.4 332.3 1988.7 343.3 1989.2 349.9 1990.4 356.8 1990.7 360.0 1992.3 365.8 1992.6 369.3 1994.5 381.3 1995.4 380.1 1997.0 377.3 1997.6 373.5 1999.3 374.0 1999.4 373.0 2000.9 389.1 2001.5 392.1 2002.8 404.4 2004.6 399.1 2005.2 395.1 2007.5 388.5 2008.6 386.3 2010.1 397.4 2011.0 402.4 2013.0 432.4 2013.1 431.4 2015.5 477.8 2015.8 469.0 2016.9 426.2 2018.3 427.7 2018.8 429.8 2020.4 453.5 2020.7 457.4 2021.9 433.1 2022.7 417.6 2024.5 437.8 2024.6 437.4 2026.1 460.1 2027.0 467.3 2027.2 470.8 2029.5 509.6 2030.2 519.8 2031.1 531.9 2032.0 528.0 2033.4 524.1 2034.9 532.3 2036.6 539.4 2037.3 543.8 2039.7 545.1 2041.1 545.7 2042.9 540.2 2043.5 539.8 2044.2 546.0 2045.0 552.0 2046.0 535.3 2048.1 500.1 2049.2 513.9 2049.7 518.0 2051.2 562.8 2052.3 562.7 2054.9 567.5 2055.1 567.3 2056.4 560.2 2057.6 555.5 2059.3 546.7 2059.8 545.4 2062.4 537.0 2063.7 531.5 2065.2 532.0 2066.8 536.0 2067.2 535.2 2069.9 528.1 2069.9 527.2 2072.9 547.3 2073.0 547.1 2074.7 548.5 2077.7 557.4 2079.2 558.2 2079.4 558.5 2081.3 557.5 2082.6 554.4 2083.9 552.1 2084.1 554.6 2086.4 566.6 2087.0 570.8 2087.7 574.6 2089.9 585.5 2091.5 595.1 2091.6 595.2 2094.2 598.1 2094.8 601.7 2095.6 603.8 2097.3 606.4 2099.0 613.1 2101.4 618.0 2101.8 616.5 2104.2 624.0 2106.9 625.8 2108.8 629.6 2109.6 632.1 2112.1 631.2 2114.0 631.8 2114.4 633.6 2116.3 629.0 2117.9 628.8 2119.3 624.9 2120.8 632.3 2122.8 642.2 2124.5 647.6 2125.3 653.6 2126.6 665.7 2128.0 672.1 2128.6 673.1 2130.0 670.4 2131.5 661.7 2131.9 665.4 2134.5 680.1 2135.0 679.2 2136.4 683.8 2139.0 689.3 2140.2 688.9 2140.4 686.7 2142.4 674.9 2144.4 658.7 2145.5 653.8 2146.6 644.2 2148.3 629.8 2150.7 615.4 2150.9 613.6 2153.9 586.8 2156.0 573.2 2156.7 567.8 2157.9 557.1 2160.1 546.3 2161.2 539.0 2162.0 531.3 2164.4 514.9 2165.7 502.6 2166.5 497.2 2168.4 483.4 2170.4 462.8 2171.7 454.5 2173.5 446.1 2174.7 432.9 2176.8 427.5 2176.9 424.6 2178.9 394.7 2179.0 396.8 2181.8 391.5 2184.5 380.8 2186.1 379.4 2186.4 375.6 2187.9 374.4 2190.0 370.8 2190.6 375.6 2192.6 365.4 2194.3 367.4 2194.8 363.9 2197.4 350.0 2199.6 346.3 2200.3 343.9 2202.2 335.3 2204.5 334.0 2206.0 330.4 2207.6 320.7 2209.2 316.8 2212.2 297.4 2212.4 300.6 2215.2 299.2 2217.8 289.2 2218.8 284.2 2220.4 287.7 2223.0 277.8 2225.2 274.7 2225.3 280.1 2227.6 270.3 2229.2 270.4 2231.5 259.8 2231.6 266.0 2234.1 267.3 2236.3 253.8 2238.8 260.5 2239.6 255.0 2240.9 251.2 2243.7 253.8 2246.0 248.8 2246.4 245.6 2247.8 250.7 2250.5 239.7 2252.3 239.5 2252.4 238.4 2253.6 233.0 2255.1 235.1 2256.9 226.8 2258.8 230.7 2259.2 229.9 2261.0 224.9 2262.6 229.0 2265.2 221.4 2265.4 217.9 2267.3 222.1 2270.3 208.7 2272.0 215.2 2273.9 209.3 2274.5 206.0 2276.5 212.3 2279.4 213.1 2279.6 216.3 2281.9 213.6 2284.4 197.5 2285.8 200.7 2286.0 202.2 2288.5 201.2 2290.4 212.1 2292.4 214.6 2293.1 209.3 2296.0 223.6 2297.4 220.6 2298.7 228.2 2300.4 220.8 2301.4 223.4 2304.5 228.4 2307.5 222.2 2308.4 223.1 2309.6 228.4 2312.4 221.3 2313.7 232.2 2315.0 227.4 2316.4 232.2 2317.4 236.9 2319.6 232.2 2322.5 243.3 2322.8 243.0 2324.1 241.0 2326.3 248.8 2329.2 252.1 2329.4 251.2 2331.3 259.9 2332.4 260.4 2333.3 258.9 2335.5 272.9 2335.7 273.9 2338.6 287.9 2338.9 297.5 2340.2 353.3 2340.4 366.3 2341.7 433.7 2343.0 436.4 2344.8 440.9 2345.0 444.3 2347.0 457.0 2347.3 458.6 2348.8 434.9 2349.5 419.2 2350.9 439.8 2352.6 465.1 2353.2 469.8 2355.2 476.9 2357.3 489.8 2357.4 490.4 2359.9 497.9 2361.9 508.6 2362.8 506.6 2365.0 504.9 2365.1 503.7 2367.1 499.5 2368.1 496.1 2370.2 515.6 2371.2 527.1 2371.8 529.9 2373.1 531.2 2375.9 539.8 2376.1 541.1 2377.8 540.9 2379.3 544.3 2381.3 544.9 2382.1 545.9 2383.2 552.6 2385.1 561.3 2386.8 567.8 2388.0 574.9 2389.3 570.8 2389.8 573.4 2391.2 574.9 2392.9 570.5 2396.0 573.3 2396.3 575.0 2398.0 572.0 2399.9 578.6 2402.7 580.6 2403.3 585.5 2405.8 591.6 2408.0 595.2 2408.5 595.0 2410.8 596.0 2412.5 592.5 2413.8 589.8 2414.4 592.3 2416.8 588.8 2417.3 592.5 2418.5 583.4 2420.2 568.0 2421.8 561.1 2422.5 558.9 2423.5 560.1 2426.4 574.3 2427.7 581.9 2429.2 584.1 2430.6 592.3 2432.5 598.1 2433.0 600.2 2435.2 599.9 2436.5 598.2 2438.1 604.4 2440.4 616.7 2441.7 618.2 2443.0 623.2 2444.7 626.7 2447.5 627.8 2448.7 628.2 2450.3 629.6 2452.3 625.0 2454.0 626.5 2455.3 622.5 2455.7 626.9 2457.7 626.0 2460.2 627.5 2461.4 630.7 2462.6 631.5 2463.6 628.1 2466.7 628.6 2467.9 627.8 2468.0 626.5 2469.5 628.5 2470.8 627.9 2472.8 629.6 2473.1 626.9 2474.8 633.4 2476.6 635.6 2477.8 641.6 2479.1 640.2 2480.7 643.3 2481.8 640.4 2483.8 635.9 2485.0 635.4 2486.7 630.4 2487.1 631.0 2488.7 625.5 2489.9 619.7 2491.7 616.0 2494.0 606.9 2494.1 606.9 2496.5 601.3 2498.9 592.6 2501.0 589.6 2501.4 589.8 2503.9 582.4 2505.1 581.3 2506.3 575.8 2507.6 565.2 2510.0 550.4 2511.5 537.1 2511.6 537.0 2513.7 523.2 2515.4 505.8 2516.7 495.8 2518.3 486.8 2520.1 467.9 2521.6 464.2 2522.0 460.0 2524.4 439.3 2525.5 435.4 2526.4 429.9 2527.1 426.8 2530.0 406.0 2530.0 404.9 2532.2 403.2 2532.6 401.8 2534.4 384.8 2534.6 383.3 2535.9 368.6 2536.7 367.0 2537.3 362.8 2538.8 324.1 2539.1 326.4 2540.2 341.1 2541.4 323.3 2541.7 317.3 2543.1 317.0 2544.1 320.1"/>
</g>
<rect x="624.0" y="49" width="32" height="2" fill="#78a6e2"/>
<circle cx="640.0" cy="50" r="8" fill="#86b0e6"/>
<text x="666.6" y="57.5" font-size="24" font-weight="bold" fill="#333333" textLength="115.5" lengthAdjust="spacingAndGlyphs">tc.4m.t26</text>
<rect x="820.0" y="49" width="32" height="2" fill="#2f2f35"/>
<path d="M836.0 42 L843.0 50 L836.0 58 L829.0 50 Z" fill="#424148"/>
<text x="862.6" y="57.5" font-size="24" font-weight="bold" fill="#333333" textLength="115.5" lengthAdjust="spacingAndGlyphs">tc.4m.t27</text>
<rect x="1015.9" y="49" width="32" height="2" fill="#96e67a"/>
<rect x="1023.9" y="42" width="16" height="16" fill="#a6eb89"/>
<text x="1058.5" y="57.5" font-size="24" font-weight="bold" fill="#333333" textLength="115.5" lengthAdjust="spacingAndGlyphs">tc.4m.t28</text>
<rect x="1211.8" y="49" width="32" height="2" fill="#e6984f"/>
<path d="M1227.8 42.2 L1235.8 57.8 L1219.8 57.8 Z" fill="#e9a66a"/>
<text x="1254.4" y="57.5" font-size="24" font-weight="bold" fill="#333333" textLength="115.5" lengthAdjust="spacingAndGlyphs">tc.4m.t29</text>
<rect x="1407.8" y="49" width="32" height="2" fill="#6d72dc"/>
<path d="M1415.8 42.2 L1431.8 42.2 L1423.8 57.8 Z" fill="#8084e0"/>
<text x="1450.4" y="57.5" font-size="24" font-weight="bold" fill="#333333" textLength="115.5" lengthAdjust="spacingAndGlyphs">tc.4m.t30</text>
<rect x="1603.8" y="49" width="32" height="2" fill="#dc4f73"/>
<circle cx="1619.8" cy="50" r="8" fill="#e16581"/>
<text x="1646.3" y="57.5" font-size="24" font-weight="bold" fill="#333333" textLength="115.5" lengthAdjust="spacingAndGlyphs">tc.4m.t31</text>
<rect x="1799.7" y="49" width="32" height="2" fill="#d9cc4c"/>
<path d="M1815.7 42 L1822.7 50 L1815.7 58 L1808.7 50 Z" fill="#ded46a"/>
<text x="1842.3" y="57.5" font-size="24" font-weight="bold" fill="#333333" textLength="115.5" lengthAdjust="spacingAndGlyphs">tc.4m.t32</text>
<line x1="2532" y1="34.8" x2="2560" y2="34.8" stroke="#666666" stroke-width="6" stroke-linecap="round"/>
<line x1="2532" y1="44.9" x2="2560" y2="44.9" stroke="#666666" stroke-width="6" stroke-linecap="round"/>
<line x1="2532" y1="55.0" x2="2560" y2="55.0" stroke="#666666" stroke-width="6" stroke-linecap="round"/>
<text x="117" y="964" font-size="24" fill="#666666" textLength="444" lengthAdjust="spacingAndGlyphs">2023-08-21 10:52 -0700 (US/Pacific)</text>
<rect x="116" y="979" width="2451" height="50" fill="#dce6f6"/>
<path d="M116.0 1029 L116.0 1010.5 118.5 1010.4 122.2 1010.1 125.0 1009.6 128.1 1009.5 131.0 1009.3 134.1 1009.0 136.6 1008.4 140.8 1007.9 143.4 1007.4 146.7 1007.0 149.5 1006.6 154.0 1006.2 157.3 1005.9 159.6 1006.2 164.5 1006.6 166.9 1006.8 171.0 1006.6 173.4 1006.4 178.0 1006.2 181.0 1005.9 184.7 1005.9 187.8 1006.1 190.9 1006.1 193.0 1005.5 197.1 1005.1 198.7 1004.8 203.5 1004.7 205.7 1004.4 208.3 1004.3 212.9 1004.6 216.2 1005.0 218.2 1005.0 220.9 1004.9 224.2 1005.0 229.0 1005.4 230.6 1005.7 234.6 1006.1 237.7 1006.7 240.7 1007.4 243.7 1007.9 245.0 1008.3 250.1 1008.8 252.0 1009.5 255.9 1010.0 259.0 1010.3 262.8 1010.5 266.2 1010.9 268.5 1011.3 271.2 1011.6 273.3 1011.8 277.9 1012.1 280.9 1012.6 283.0 1013.6 285.4 1014.3 287.2 1015.0 291.3 1015.2 293.7 1015.4 296.4 1015.6 298.4 1015.7 301.2 1015.6 302.5 1015.7 303.9 1015.6 305.9 1015.7 307.6 1015.6 310.6 1015.7 313.3 1016.1 315.6 1016.0 318.6 1015.8 320.9 1015.9 323.9 1016.0 327.8 1016.4 330.4 1016.3 332.3 1016.7 334.5 1016.3 337.9 1016.8 340.5 1017.5 343.1 1018.7 344.4 1018.9 346.9 1018.7 349.9 1019.1 352.7 1019.6 354.4 1020.1 356.4 1020.1 357.8 1020.3 360.8 1020.1 363.3 1020.2 365.7 1020.3 368.4 1020.8 370.9 1021.0 372.6 1021.0 374.6 1021.2 377.6 1021.5 380.2 1021.9 382.1 1022.1 386.5 1022.2 388.1 1022.2 389.9 1022.2 395.0 1022.2 396.5 1022.2 400.3 1022.4 402.3 1022.5 404.2 1022.4 407.3 1021.6 410.5 1020.6 413.4 1019.6 416.0 1018.6 419.1 1017.2 421.0 1015.6 423.9 1014.2 427.0 1012.5 432.2 1011.1 434.0 1009.2 438.6 1008.0 440.1 1006.9 444.3 1006.1 445.9 1005.7 448.6 1005.5 451.0 1005.3 454.2 1004.8 457.2 1004.3 459.9 1004.3 461.7 1004.0 466.0 1003.6 469.0 1002.8 471.9 1002.6 475.6 1002.2 478.9 1001.5 480.3 1001.3 483.9 1000.8 485.8 1000.7 487.3 1000.6 490.2 1000.2 495.5 999.9 498.6 999.4 501.3 999.2 505.2 999.0 507.6 998.5 510.4 998.6 513.4 998.1 516.9 997.7 519.6 997.1 522.3 997.1 525.4 997.0 529.6 996.8 532.0 996.7 535.7 996.8 538.6 997.0 544.1 997.0 546.4 997.0 549.4 997.1 553.8 997.1 555.8 996.9 559.7 996.8 561.9 996.9 566.6 997.2 568.4 997.4 573.0 997.7 575.3 997.9 578.5 998.2 581.3 998.6 584.3 999.2 587.1 999.6 588.4 1000.6 592.7 1001.6 595.1 1003.0 598.4 1004.2 602.1 1005.2 604.2 1005.9 606.9 1006.5 610.9 1007.1 612.7 1007.6 614.4 1008.0 617.5 1008.7 622.3 1009.2 624.4 1009.5 628.2 1009.6 631.7 1009.7 633.3 1009.9 635.4 1010.3 637.0 1011.3 638.8 1012.6 640.2 1013.7 641.8 1014.2 643.9 1014.8 646.6 1015.1 649.1 1015.8 650.8 1016.2 653.8 1016.3 656.8 1016.5 659.9 1016.6 661.9 1016.2 664.9 1016.4 668.0 1016.9 670.1 1018.2 672.8 1018.7 676.2 1018.9 678.7 1019.0 680.3 1019.0 683.7 1018.5 686.7 1018.4 690.4 1018.5 692.3 1019.0 695.3 1019.3 698.3 1019.3 701.5 1019.5 705.5 1019.7 708.5 1020.2 710.6 1020.3 714.6 1020.2 716.5 1020.0 719.2 1020.1 722.3 1020.4 725.7 1020.7 728.3 1020.8 730.7 1020.8 734.1 1020.7 737.4 1020.7 739.3 1020.8 741.6 1021.0 745.4 1021.2 746.8 1021.4 750.1 1021.4 752.6 1021.3 754.8 1020.9 757.9 1020.3 761.0 1019.5 764.1 1018.6 767.0 1017.2 769.4 1015.2 773.0 1013.8 775.5 1012.7 779.0 1012.2 781.4 1011.7 784.9 1011.1 787.6 1009.9 790.9 1008.2 794.2 1006.6 797.0 1005.4 799.4 1004.1 804.7 1002.5 806.8 1000.6 810.9 999.5 812.3 998.7 816.3 998.3 819.2 997.7 821.1 997.2 825.4 996.7 828.5 996.3 832.0 995.5 834.4 994.6 837.7 994.0 840.7 993.9 842.9 993.9 847.7 993.8 850.5 993.3 855.0 992.5 858.2 991.9 862.0 991.1 865.0 990.3 870.9 989.7 873.8 989.4 878.4 989.2 881.1 988.7 883.3 988.4 888.0 988.2 893.0 988.5 894.5 988.5 898.4 988.5 902.8 988.0 905.4 988.0 909.3 988.2 914.0 988.7 916.8 989.1 918.3 989.4 922.6 989.8 927.5 989.8 929.3 990.2 933.6 990.5 935.7 991.7 939.1 992.9 942.0 994.3 945.1 995.6 948.7 996.8 951.3 997.9 956.1 998.4 958.1 998.8 963.6 999.3 966.1 1000.0 969.3 1000.7 972.1 1001.6 976.1 1002.7 980.6 1003.9 983.3 1005.0 987.2 1006.2 990.4 1007.2 994.9 1007.8 997.5 1007.2 1001.2 1006.5 1003.4 1007.0 1006.1 1008.6 1009.9 1010.3 1014.2 1011.0 1016.2 1011.3 1019.3 1011.7 1021.9 1012.0 1025.6 1012.4 1027.7 1012.7 1031.7 1013.0 1035.0 1013.0 1037.4 1013.0 1039.9 1013.0 1042.5 1013.3 1046.9 1013.5 1049.2 1013.7 1053.4 1014.1 1056.3 1014.6 1059.9 1015.0 1063.2 1015.2 1066.5 1015.5 1069.6 1016.0 1071.6 1016.8 1076.2 1017.4 1078.9 1017.9 1081.8 1018.2 1085.6 1018.5 1087.5 1018.7 1092.6 1018.6 1096.1 1018.3 1098.1 1017.9 1101.3 1017.9 1104.6 1017.5 1107.9 1016.7 1111.1 1015.8 1113.5 1015.0 1116.0 1014.3 1118.8 1012.9 1121.6 1011.3 1123.8 1009.6 1125.7 1007.9 1128.6 1005.6 1134.7 1003.4 1137.8 1001.7 1141.8 1000.7 1144.1 999.7 1147.7 998.6 1149.2 997.7 1150.7 997.1 1152.4 996.4 1155.6 995.5 1157.9 995.2 1160.4 995.1 1163.5 994.7 1166.7 993.5 1169.0 992.8 1171.7 992.3 1173.1 992.1 1175.4 991.5 1178.4 991.0 1180.3 990.6 1182.7 990.1 1184.8 989.7 1187.3 989.3 1190.4 988.9 1191.9 988.5 1193.6 988.4 1196.2 988.3 1199.1 988.0 1202.3 987.6 1204.7 987.1 1207.9 987.4 1211.0 987.1 1213.4 986.8 1216.0 986.6 1218.8 986.5 1220.6 986.7 1222.8 986.0 1225.2 985.5 1226.8 985.4 1229.2 985.5 1232.2 985.8 1234.8 985.7 1238.0 985.8 1241.1 985.7 1244.3 986.0 1247.4 985.8 1249.3 985.5 1254.0 985.4 1256.7 985.7 1260.6 986.1 1263.1 986.1 1268.8 986.4 1272.0 986.8 1277.2 987.2 1278.7 987.4 1283.8 987.9 1286.8 988.9 1291.2 989.9 1294.2 991.2 1298.0 992.6 1302.5 994.0 1304.0 994.9 1307.7 995.5 1310.9 996.1 1315.4 996.5 1316.8 997.0 1319.4 997.8 1323.3 998.6 1325.8 999.2 1328.3 999.8 1332.4 1000.4 1333.9 1001.2 1336.4 1001.1 1339.4 1001.1 1341.6 1000.3 1343.9 1000.9 1346.8 1000.3 1349.1 1001.0 1351.6 1000.8 1354.6 1001.5 1356.3 1001.8 1359.5 1002.0 1363.2 1002.8 1364.7 1004.5 1368.4 1005.4 1372.1 1006.0 1375.1 1006.2 1378.0 1007.3 1380.0 1008.1 1383.0 1008.1 1385.0 1007.9 1387.6 1007.3 1390.4 1006.8 1392.1 1005.9 1395.1 1005.6 1398.6 1005.5 1401.8 1005.9 1404.7 1006.3 1410.0 1006.4 1413.1 1006.2 1415.5 1006.0 1418.2 1005.7 1421.0 1005.3 1425.5 1005.0 1427.6 1004.9 1431.2 1005.1 1433.4 1005.4 1436.5 1005.6 1438.3 1005.4 1442.9 1005.1 1444.7 1005.2 1449.1 1005.3 1452.2 1005.2 1453.7 1005.6 1456.7 1006.3 1458.4 1006.9 1461.3 1006.6 1463.0 1005.9 1466.2 1005.0 1469.4 1003.9 1471.4 1002.9 1472.9 1002.0 1476.1 1001.2 1477.7 1000.2 1482.9 999.3 1485.6 998.3 1488.3 997.8 1489.9 997.0 1492.6 996.2 1496.5 995.5 1498.1 994.9 1502.3 994.0 1504.6 993.4 1507.0 992.7 1510.0 992.1 1513.1 991.4 1515.5 990.8 1517.9 990.4 1521.9 989.8 1526.7 988.7 1528.4 988.3 1532.1 988.1 1533.6 987.9 1537.9 987.5 1539.9 987.1 1542.7 987.0 1545.6 986.7 1548.3 986.0 1551.3 985.6 1555.0 985.6 1556.5 985.6 1561.9 985.5 1564.7 985.0 1568.4 984.9 1572.3 984.7 1576.1 984.6 1578.5 984.1 1582.2 983.8 1586.0 983.9 1588.7 984.3 1593.0 984.4 1594.4 984.8 1599.2 985.0 1603.7 985.7 1607.4 986.0 1612.0 986.0 1613.8 985.9 1618.3 985.9 1623.5 986.5 1626.2 987.2 1630.5 987.7 1633.5 988.1 1636.8 988.5 1639.0 989.5 1642.8 990.5 1644.6 992.2 1649.1 993.6 1652.2 995.3 1655.3 996.0 1656.8 996.6 1660.9 997.2 1664.2 998.2 1668.3 999.1 1671.8 1000.4 1675.7 1001.7 1677.9 1002.8 1680.6 1001.9 1684.3 1000.9 1688.3 999.8 1690.1 1000.3 1693.4 1002.0 1697.0 1003.9 1700.5 1005.9 1702.6 1006.4 1707.1 1005.8 1710.2 1006.0 1712.5 1007.1 1714.2 1009.2 1717.6 1010.8 1720.2 1011.5 1724.2 1012.0 1726.0 1012.3 1729.8 1012.5 1732.7 1012.7 1735.6 1012.9 1739.5 1013.3 1742.6 1013.5 1746.6 1013.6 1749.6 1013.6 1753.4 1014.0 1755.5 1014.2 1758.3 1014.4 1760.1 1014.7 1764.1 1015.0 1766.8 1015.4 1771.8 1015.8 1775.2 1016.1 1776.6 1016.4 1780.1 1016.5 1781.4 1016.2 1784.9 1015.5 1787.7 1014.8 1790.4 1014.9 1793.9 1015.3 1795.7 1015.8 1798.8 1016.1 1801.4 1016.6 1805.6 1016.8 1808.1 1016.5 1810.9 1015.2 1815.7 1013.8 1817.1 1011.6 1821.9 1009.8 1824.2 1007.5 1829.6 1005.9 1832.0 1003.8 1837.0 1002.0 1840.6 1000.4 1844.2 998.9 1848.3 997.9 1851.0 996.7 1854.9 995.9 1857.1 994.9 1860.9 994.1 1863.3 992.9 1866.5 991.4 1869.2 989.5 1871.4 988.1 1874.4 987.6 1877.7 987.9 1880.4 988.2 1884.8 988.0 1886.5 987.4 1890.6 986.9 1893.1 986.5 1896.9 986.2 1900.3 985.7 1903.9 985.5 1906.6 985.3 1909.8 985.2 1911.6 984.5 1915.9 984.1 1919.1 984.1 1921.2 984.3 1925.1 984.1 1927.4 983.4 1932.5 983.0 1934.0 983.1 1939.1 983.4 1940.5 983.5 1945.3 983.6 1947.7 983.7 1951.2 983.8 1954.8 983.5 1957.8 983.7 1962.3 984.1 1965.0 984.7 1969.8 984.9 1971.8 985.1 1975.7 985.6 1978.5 986.3 1983.3 986.9 1984.8 987.6 1989.2 988.2 1990.6 989.6 1994.3 990.8 1997.1 992.5 1998.9 994.0 2001.7 995.3 2003.3 996.4 2005.2 997.3 2008.1 997.7 2010.3 997.9 2012.1 998.2 2014.3 998.9 2017.4 999.3 2020.4 999.5 2023.0 1000.5 2026.0 1003.1 2028.5 1004.0 2030.0 1003.9 2031.9 1003.3 2033.8 1002.9 2035.9 1003.1 2037.8 1003.3 2040.3 1005.9 2042.8 1008.4 2044.5 1010.0 2046.8 1010.8 2050.0 1011.1 2053.2 1011.6 2056.4 1011.8 2057.8 1011.5 2059.7 1010.9 2062.9 1011.3 2064.9 1012.2 2068.7 1013.5 2070.2 1013.0 2073.2 1012.2 2076.3 1011.4 2079.2 1011.0 2081.3 1010.8 2084.1 1011.2 2087.2 1011.8 2092.0 1012.7 2093.7 1012.9 2096.9 1012.8 2098.5 1013.1 2101.4 1014.0 2104.4 1015.1 2106.1 1016.0 2109.4 1016.7 2111.9 1017.3 2116.1 1017.9 2119.0 1018.5 2123.7 1018.9 2127.1 1019.1 2129.4 1019.1 2132.9 1019.1 2135.9 1019.5 2139.7 1020.5 2141.9 1021.7 2143.8 1022.1 2146.8 1022.5 2149.9 1022.7 2151.8 1023.5 2155.7 1023.3 2157.9 1022.6 2161.1 1021.0 2163.9 1019.4 2166.6 1017.3 2171.8 1015.3 2173.8 1013.3 2177.1 1011.6 2180.3 1010.0 2182.5 1007.9 2186.5 1006.0 2189.6 1004.1 2193.0 1002.3 2195.2 1000.8 2198.1 999.5 2202.5 998.8 2204.3 998.3 2207.1 997.9 2210.9 997.2 2214.0 996.2 2217.0 995.3 2221.2 994.4 2224.4 993.1 2229.1 992.2 2232.1 991.2 2235.8 990.7 2240.1 990.2 2242.4 989.9 2246.5 989.5 2248.9 988.8 2253.6 988.4 2257.0 988.1 2261.3 987.9 2264.0 987.4 2268.2 987.0 2270.1 986.7 2272.8 986.5 2276.6 986.2 2278.9 985.8 2283.1 985.5 2285.3 985.2 2290.0 984.8 2292.7 984.5 2297.6 984.4 2300.1 984.2 2304.1 983.8 2306.9 983.8 2310.9 984.5 2314.5 985.3 2317.2 985.5 2320.0 985.5 2326.3 985.4 2328.4 985.6 2332.6 985.8 2335.3 985.9 2338.6 986.2 2341.9 986.6 2345.4 987.1 2348.6 987.6 2351.7 988.3 2354.8 989.5 2358.0 992.2 2359.6 996.6 2361.1 1000.5 2364.3 1003.2 2366.6 1003.1 2368.3 1003.2 2370.5 1003.7 2372.9 1005.3 2377.0 1006.9 2379.7 1007.9 2382.7 1008.3 2385.0 1008.3 2388.1 1008.9 2391.2 1009.7 2393.1 1011.0 2396.2 1011.4 2399.5 1011.8 2402.3 1012.3 2405.4 1013.1 2408.3 1013.9 2410.1 1014.1 2413.3 1014.2 2416.8 1014.4 2420.5 1014.8 2423.9 1015.4 2428.7 1015.9 2431.6 1016.0 2434.6 1015.8 2437.7 1015.5 2439.4 1014.7 2442.8 1013.9 2444.6 1013.9 2448.8 1014.8 2451.8 1015.9 2454.2 1016.3 2457.8 1017.0 2461.8 1017.6 2464.5 1018.4 2469.0 1018.8 2471.9 1018.8 2475.6 1018.8 2477.4 1018.8 2482.0 1018.9 2484.4 1019.0 2488.6 1019.0 2489.9 1018.9 2492.7 1018.8 2495.1 1019.1 2498.7 1019.4 2501.2 1019.8 2504.0 1019.7 2507.2 1019.5 2509.4 1018.9 2512.2 1018.2 2516.4 1017.4 2519.0 1016.6 2523.6 1015.9 2526.5 1015.2 2529.0 1014.1 2532.7 1012.9 2534.4 1011.0 2538.2 1009.2 2541.2 1007.3 2544.5 1005.5 2547.4 1004.0 2549.5 1002.5 2553.1 1001.4 2555.4 1000.1 2557.6 999.0 2559.1 997.8 2560.6 996.3 2562.4 995.1 2564.8 994.0 2566.5 993.7 L2566.5 1029 Z" fill="#d3def1"/>
<rect x="306.2" y="979" width="1.5" height="50" fill="#c8d4e6"/>
<rect x="657.2" y="979" width="1.5" height="50" fill="#c8d4e6"/>
<rect x="1008.3" y="979" width="1.5" height="50" fill="#c8d4e6"/>
<rect x="1359.3" y="979" width="1.5" height="50" fill="#c8d4e6"/>
<rect x="1710.3" y="979" width="1.5" height="50" fill="#c8d4e6"/>
<rect x="2061.3" y="979" width="1.5" height="50" fill="#c8d4e6"/>
<rect x="2412.4" y="979" width="1.5" height="50" fill="#c8d4e6"/>
<path d="M116.0 1010.5 L118.5 1010.4 122.2 1010.1 125.0 1009.6 128.1 1009.5 131.0 1009.3 134.1 1009.0 136.6 1008.4 140.8 1007.9 143.4 1007.4 146.7 1007.0 149.5 1006.6 154.0 1006.2 157.3 1005.9 159.6 1006.2 164.5 1006.6 166.9 1006.8 171.0 1006.6 173.4 1006.4 178.0 1006.2 181.0 1005.9 184.7 1005.9 187.8 1006.1 190.9 1006.1 193.0 1005.5 197.1 1005.1 198.7 1004.8 203.5 1004.7 205.7 1004.4 208.3 1004.3 212.9 1004.6 216.2 1005.0 218.2 1005.0 220.9 1004.9 224.2 1005.0 229.0 1005.4 230.6 1005.7 234.6 1006.1 237.7 1006.7 240.7 1007.4 243.7 1007.9 245.0 1008.3 250.1 1008.8 252.0 1009.5 255.9 1010.0 259.0 1010.3 262.8 1010.5 266.2 1010.9 268.5 1011.3 271.2 1011.6 273.3 1011.8 277.9 1012.1 280.9 1012.6 283.0 1013.6 285.4 1014.3 287.2 1015.0 291.3 1015.2 293.7 1015.4 296.4 1015.6 298.4 1015.7 301.2 1015.6 302.5 1015.7 303.9 1015.6 305.9 1015.7 307.6 1015.6 310.6 1015.7 313.3 1016.1 315.6 1016.0 318.6 1015.8 320.9 1015.9 323.9 1016.0 327.8 1016.4 330.4 1016.3 332.3 1016.7 334.5 1016.3 337.9 1016.8 340.5 1017.5 343.1 1018.7 344.4 1018.9 346.9 1018.7 349.9 1019.1 352.7 1019.6 354.4 1020.1 356.4 1020.1 357.8 1020.3 360.8 1020.1 363.3 1020.2 365.7 1020.3 368.4 1020.8 370.9 1021.0 372.6 1021.0 374.6 1021.2 377.6 1021.5 380.2 1021.9 382.1 1022.1 386.5 1022.2 388.1 1022.2 389.9 1022.2 395.0 1022.2 396.5 1022.2 400.3 1022.4 402.3 1022.5 404.2 1022.4 407.3 1021.6 410.5 1020.6 413.4 1019.6 416.0 1018.6 419.1 1017.2 421.0 1015.6 423.9 1014.2 427.0 1012.5 432.2 1011.1 434.0 1009.2 438.6 1008.0 440.1 1006.9 444.3 1006.1 445.9 1005.7 448.6 1005.5 451.0 1005.3 454.2 1004.8 457.2 1004.3 459.9 1004.3 461.7 1004.0 466.0 1003.6 469.0 1002.8 471.9 1002.6 475.6 1002.2 478.9 1001.5 480.3 1001.3 483.9 1000.8 485.8 1000.7 487.3 1000.6 490.2 1000.2 495.5 999.9 498.6 999.4 501.3 999.2 505.2 999.0 507.6 998.5 510.4 998.6 513.4 998.1 516.9 997.7 519.6 997.1 522.3 997.1 525.4 997.0 529.6 996.8 532.0 996.7 535.7 996.8 538.6 997.0 544.1 997.0 546.4 997.0 549.4 997.1 553.8 997.1 555.8 996.9 559.7 996.8 561.9 996.9 566.6 997.2 568.4 997.4 573.0 997.7 575.3 997.9 578.5 998.2 581.3 998.6 584.3 999.2 587.1 999.6 588.4 1000.6 592.7 1001.6 595.1 1003.0 598.4 1004.2 602.1 1005.2 604.2 1005.9 606.9 1006.5 610.9 1007.1 612.7 1007.6 614.4 1008.0 617.5 1008.7 622.3 1009.2 624.4 1009.5 628.2 1009.6 631.7 1009.7 633.3 1009.9 635.4 1010.3 637.0 1011.3 638.8 1012.6 640.2 1013.7 641.8 1014.2 643.9 1014.8 646.6 1015.1 649.1 1015.8 650.8 1016.2 653.8 1016.3 656.8 1016.5 659.9 1016.6 661.9 1016.2 664.9 1016.4 668.0 1016.9 670.1 1018.2 672.8 1018.7 676.2 1018.9 678.7 1019.0 680.3 1019.0 683.7 1018.5 686.7 1018.4 690.4 1018.5 692.3 1019.0 695.3 1019.3 698.3 1019.3 701.5 1019.5 705.5 1019.7 708.5 1020.2 710.6 1020.3 714.6 1020.2 716.5 1020.0 719.2 1020.1 722.3 1020.4 725.7 1020.7 728.3 1020.8 730.7 1020.8 734.1 1020.7 737.4 1020.7 739.3 1020.8 741.6 1021.0 745.4 1021.2 746.8 1021.4 750.1 1021.4 752.6 1021.3 754.8 1020.9 757.9 1020.3 761.0 1019.5 764.1 1018.6 767.0 1017.2 769.4 1015.2 773.0 1013.8 775.5 1012.7 779.0 1012.2 781.4 1011.7 784.9 1011.1 787.6 1009.9 790.9 1008.2 794.2 1006.6 797.0 1005.4 799.4 1004.1 804.7 1002.5 806.8 1000.6 810.9 999.5 812.3 998.7 816.3 998.3 819.2 997.7 821.1 997.2 825.4 996.7 828.5 996.3 832.0 995.5 834.4 994.6 837.7 994.0 840.7 993.9 842.9 993.9 847.7 993.8 850.5 993.3 855.0 992.5 858.2 991.9 862.0 991.1 865.0 990.3 870.9 989.7 873.8 989.4 878.4 989.2 881.1 988.7 883.3 988.4 888.0 988.2 893.0 988.5 894.5 988.5 898.4 988.5 902.8 988.0 905.4 988.0 909.3 988.2 914.0 988.7 916.8 989.1 918.3 989.4 922.6 989.8 927.5 989.8 929.3 990.2 933.6 990.5 935.7 991.7 939.1 992.9 942.0 994.3 945.1 995.6 948.7 996.8 951.3 997.9 956.1 998.4 958.1 998.8 963.6 999.3 966.1 1000.0 969.3 1000.7 972.1 1001.6 976.1 1002.7 980.6 1003.9 983.3 1005.0 987.2 1006.2 990.4 1007.2 994.9 1007.8 997.5 1007.2 1001.2 1006.5 1003.4 1007.0 1006.1 1008.6 1009.9 1010.3 1014.2 1011.0 1016.2 1011.3 1019.3 1011.7 1021.9 1012.0 1025.6 1012.4 1027.7 1012.7 1031.7 1013.0 1035.0 1013.0 1037.4 1013.0 1039.9 1013.0 1042.5 1013.3 1046.9 1013.5 1049.2 1013.7 1053.4 1014.1 1056.3 1014.6 1059.9 1015.0 1063.2 1015.2 1066.5 1015.5 1069.6 1016.0 1071.6 1016.8 1076.2 1017.4 1078.9 1017.9 1081.8 1018.2 1085.6 1018.5 1087.5 1018.7 1092.6 1018.6 1096.1 1018.3 1098.1 1017.9 1101.3 1017.9 1104.6 1017.5 1107.9 1016.7 1111.1 1015.8 1113.5 1015.0 1116.0 1014.3 1118.8 1012.9 1121.6 1011.3 1123.8 1009.6 1125.7 1007.9 1128.6 1005.6 1134.7 1003.4 1137.8 1001.7 1141.8 1000.7 1144.1 999.7 1147.7 998.6 1149.2 997.7 1150.7 997.1 1152.4 996.4 1155.6 995.5 1157.9 995.2 1160.4 995.1 1163.5 994.7 1166.7 993.5 1169.0 992.8 1171.7 992.3 1173.1 992.1 1175.4 991.5 1178.4 991.0 1180.3 990.6 1182.7 990.1 1184.8 989.7 1187.3 989.3 1190.4 988.9 1191.9 988.5 1193.6 988.4 1196.2 988.3 1199.1 988.0 1202.3 987.6 1204.7 987.1 1207.9 987.4 1211.0 987.1 1213.4 986.8 1216.0 986.6 1218.8 986.5 1220.6 986.7 1222.8 986.0 1225.2 985.5 1226.8 985.4 1229.2 985.5 1232.2 985.8 1234.8 985.7 1238.0 985.8 1241.1 985.7 1244.3 986.0 1247.4 985.8 1249.3 985.5 1254.0 985.4 1256.7 985.7 1260.6 986.1 1263.1 986.1 1268.8 986.4 1272.0 986.8 1277.2 987.2 1278.7 987.4 1283.8 987.9 1286.8 988.9 1291.2 989.9 1294.2 991.2 1298.0 992.6 1302.5 994.0 1304.0 994.9 1307.7 995.5 1310.9 996.1 1315.4 996.5 1316.8 997.0 1319.4 997.8 1323.3 998.6 1325.8 999.2 1328.3 999.8 1332.4 1000.4 1333.9 1001.2 1336.4 1001.1 1339.4 1001.1 1341.6 1000.3 1343.9 1000.9 1346.8 1000.3 1349.1 1001.0 1351.6 1000.8 1354.6 1001.5 1356.3 1001.8 1359.5 1002.0 1363.2 1002.8 1364.7 1004.5 1368.4 1005.4 1372.1 1006.0 1375.1 1006.2 1378.0 1007.3 1380.0 1008.1 1383.0 1008.1 1385.0 1007.9 1387.6 1007.3 1390.4 1006.8 1392.1 1005.9 1395.1 1005.6 1398.6 1005.5 1401.8 1005.9 1404.7 1006.3 1410.0 1006.4 1413.1 1006.2 1415.5 1006.0 1418.2 1005.7 1421.0 1005.3 1425.5 1005.0 1427.6 1004.9 1431.2 1005.1 1433.4 1005.4 1436.5 1005.6 1438.3 1005.4 1442.9 1005.1 1444.7 1005.2 1449.1 1005.3 1452.2 1005.2 1453.7 1005.6 1456.7 1006.3 1458.4 1006.9 1461.3 1006.6 1463.0 1005.9 1466.2 1005.0 1469.4 1003.9 1471.4 1002.9 1472.9 1002.0 1476.1 1001.2 1477.7 1000.2 1482.9 999.3 1485.6 998.3 1488.3 997.8 1489.9 997.0 1492.6 996.2 1496.5 995.5 1498.1 994.9 1502.3 994.0 1504.6 993.4 1507.0 992.7 1510.0 992.1 1513.1 991.4 1515.5 990.8 1517.9 990.4 1521.9 989.8 1526.7 988.7 1528.4 988.3 1532.1 988.1 1533.6 987.9 1537.9 987.5 1539.9 987.1 1542.7 987.0 1545.6 986.7 1548.3 986.0 1551.3 985.6 1555.0 985.6 1556.5 985.6 1561.9 985.5 1564.7 985.0 1568.4 984.9 1572.3 984.7 1576.1 984.6 1578.5 984.1 1582.2 983.8 1586.0 983.9 1588.7 984.3 1593.0 984.4 1594.4 984.8 1599.2 985.0 1603.7 985.7 1607.4 986.0 1612.0 986.0 1613.8 985.9 1618.3 985.9 1623.5 986.5 1626.2 987.2 1630.5 987.7 1633.5 988.1 1636.8 988.5 1639.0 989.5 1642.8 990.5 1644.6 992.2 1649.1 993.6 1652.2 995.3 1655.3 996.0 1656.8 996.6 1660.9 997.2 1664.2 998.2 1668.3 999.1 1671.8 1000.4 1675.7 1001.7 1677.9 1002.8 1680.6 1001.9 1684.3 1000.9 1688.3 999.8 1690.1 1000.3 1693.4 1002.0 1697.0 1003.9 1700.5 1005.9 1702.6 1006.4 1707.1 1005.8 1710.2 1006.0 1712.5 1007.1 1714.2 1009.2 1717.6 1010.8 1720.2 1011.5 1724.2 1012.0 1726.0 1012.3 1729.8 1012.5 1732.7 1012.7 1735.6 1012.9 1739.5 1013.3 1742.6 1013.5 1746.6 1013.6 1749.6 1013.6 1753.4 1014.0 1755.5 1014.2 1758.3 1014.4 1760.1 1014.7 1764.1 1015.0 1766.8 1015.4 1771.8 1015.8 1775.2 1016.1 1776.6 1016.4 1780.1 1016.5 1781.4 1016.2 1784.9 1015.5 1787.7 1014.8 1790.4 1014.9 1793.9 1015.3 1795.7 1015.8 1798.8 1016.1 1801.4 1016.6 1805.6 1016.8 1808.1 1016.5 1810.9 1015.2 1815.7 1013.8 1817.1 1011.6 1821.9 1009.8 1824.2 1007.5 1829.6 1005.9 1832.0 1003.8 1837.0 1002.0 1840.6 1000.4 1844.2 998.9 1848.3 997.9 1851.0 996.7 1854.9 995.9 1857.1 994.9 1860.9 994.1 1863.3 992.9 1866.5 991.4 1869.2 989.5 1871.4 988.1 1874.4 987.6 1877.7 987.9 1880.4 988.2 1884.8 988.0 1886.5 987.4 1890.6 986.9 1893.1 986.5 1896.9 986.2 1900.3 985.7 1903.9 985.5 1906.6 985.3 1909.8 985.2 1911.6 984.5 1915.9 984.1 1919.1 984.1 1921.2 984.3 1925.1 984.1 1927.4 983.4 1932.5 983.0 1934.0 983.1 1939.1 983.4 1940.5 983.5 1945.3 983.6 1947.7 983.7 1951.2 983.8 1954.8 983.5 1957.8 983.7 1962.3 984.1 1965.0 984.7 1969.8 984.9 1971.8 985.1 1975.7 985.6 1978.5 986.3 1983.3 986.9 1984.8 987.6 1989.2 988.2 1990.6 989.6 1994.3 990.8 1997.1 992.5 1998.9 994.0 2001.7 995.3 2003.3 996.4 2005.2 997.3 2008.1 997.7 2010.3 997.9 2012.1 998.2 2014.3 998.9 2017.4 999.3 2020.4 999.5 2023.0 1000.5 2026.0 1003.1 2028.5 1004.0 2030.0 1003.9 2031.9 1003.3 2033.8 1002.9 2035.9 1003.1 2037.8 1003.3 2040.3 1005.9 2042.8 1008.4 2044.5 1010.0 2046.8 1010.8 2050.0 1011.1 2053.2 1011.6 2056.4 1011.8 2057.8 1011.5 2059.7 1010.9 2062.9 1011.3 2064.9 1012.2 2068.7 1013.5 2070.2 1013.0 2073.2 1012.2 2076.3 1011.4 2079.2 1011.0 2081.3 1010.8 2084.1 1011.2 2087.2 1011.8 2092.0 1012.7 2093.7 1012.9 2096.9 1012.8 2098.5 1013.1 2101.4 1014.0 2104.4 1015.1 2106.1 1016.0 2109.4 1016.7 2111.9 1017.3 2116.1 1017.9 2119.0 1018.5 2123.7 1018.9 2127.1 1019.1 2129.4 1019.1 2132.9 1019.1 2135.9 1019.5 2139.7 1020.5 2141.9 1021.7 2143.8 1022.1 2146.8 1022.5 2149.9 1022.7 2151.8 1023.5 2155.7 1023.3 2157.9 1022.6 2161.1 1021.0 2163.9 1019.4 2166.6 1017.3 2171.8 1015.3 2173.8 1013.3 2177.1 1011.6 2180.3 1010.0 2182.5 1007.9 2186.5 1006.0 2189.6 1004.1 2193.0 1002.3 2195.2 1000.8 2198.1 999.5 2202.5 998.8 2204.3 998.3 2207.1 997.9 2210.9 997.2 2214.0 996.2 2217.0 995.3 2221.2 994.4 2224.4 993.1 2229.1 992.2 2232.1 991.2 2235.8 990.7 2240.1 990.2 2242.4 989.9 2246.5 989.5 2248.9 988.8 2253.6 988.4 2257.0 988.1 2261.3 987.9 2264.0 987.4 2268.2 987.0 2270.1 986.7 2272.8 986.5 2276.6 986.2 2278.9 985.8 2283.1 985.5 2285.3 985.2 2290.0 984.8 2292.7 984.5 2297.6 984.4 2300.1 984.2 2304.1 983.8 2306.9 983.8 2310.9 984.5 2314.5 985.3 2317.2 985.5 2320.0 985.5 2326.3 985.4 2328.4 985.6 2332.6 985.8 2335.3 985.9 2338.6 986.2 2341.9 986.6 2345.4 987.1 2348.6 987.6 2351.7 988.3 2354.8 989.5 2358.0 992.2 2359.6 996.6 2361.1 1000.5 2364.3 1003.2 2366.6 1003.1 2368.3 1003.2 2370.5 1003.7 2372.9 1005.3 2377.0 1006.9 2379.7 1007.9 2382.7 1008.3 2385.0 1008.3 2388.1 1008.9 2391.2 1009.7 2393.1 1011.0 2396.2 1011.4 2399.5 1011.8 2402.3 1012.3 2405.4 1013.1 2408.3 1013.9 2410.1 1014.1 2413.3 1014.2 2416.8 1014.4 2420.5 1014.8 2423.9 1015.4 2428.7 1015.9 2431.6 1016.0 2434.6 1015.8 2437.7 1015.5 2439.4 1014.7 2442.8 1013.9 2444.6 1013.9 2448.8 1014.8 2451.8 1015.9 2454.2 1016.3 2457.8 1017.0 2461.8 1017.6 2464.5 1018.4 2469.0 1018.8 2471.9 1018.8 2475.6 1018.8 2477.4 1018.8 2482.0 1018.9 2484.4 1019.0 2488.6 1019.0 2489.9 1018.9 2492.7 1018.8 2495.1 1019.1 2498.7 1019.4 2501.2 1019.8 2504.0 1019.7 2507.2 1019.5 2509.4 1018.9 2512.2 1018.2 2516.4 1017.4 2519.0 1016.6 2523.6 1015.9 2526.5 1015.2 2529.0 1014.1 2532.7 1012.9 2534.4 1011.0 2538.2 1009.2 2541.2 1007.3 2544.5 1005.5 2547.4 1004.0 2549.5 1002.5 2553.1 1001.4 2555.4 1000.1 2557.6 999.0 2559.1 997.8 2560.6 996.3 2562.4 995.1 2564.8 994.0 2566.5 993.7" fill="none" stroke="#4a72b0" stroke-width="2" stroke-linejoin="round"/>
<text x="314.7" y="1020" font-size="22" fill="#8a8a8a">22. Aug</text>
<text x="665.7" y="1020" font-size="22" fill="#8a8a8a">23. Aug</text>
<text x="1016.8" y="1020" font-size="22" fill="#8a8a8a">24. Aug</text>
<text x="1367.8" y="1020" font-size="22" fill="#8a8a8a">25. Aug</text>
<text x="1718.8" y="1020" font-size="22" fill="#8a8a8a">26. Aug</text>
<text x="2069.8" y="1020" font-size="22" fill="#8a8a8a">27. Aug</text>
<text x="2420.9" y="1020" font-size="22" fill="#8a8a8a">28. Aug</text>
<rect x="114" y="978" width="2" height="52" fill="#a9a9ae"/>
<rect x="117" y="978" width="2451" height="2" fill="#a9a9ae"/>
<rect x="114" y="1028" width="2454" height="2" fill="#a9a9ae"/>
<rect x="2566" y="978" width="2" height="52" fill="#a9a9ae"/>
<rect x="107" y="988" width="16" height="30" fill="#ebe9eb" stroke="#a9a9ae" stroke-width="2"/>
<rect x="112" y="995" width="1.6" height="16" fill="#999"/>
<rect x="116.5" y="995" width="1.6" height="16" fill="#999"/>
<rect x="2559" y="988" width="16" height="30" fill="#ebe9eb" stroke="#a9a9ae" stroke-width="2"/>
<rect x="2564" y="995" width="1.6" height="16" fill="#999"/>
<rect x="2568.5" y="995" width="1.6" height="16" fill="#999"/>
<text x="2432" y="1026" font-size="18" fill="#999999" textLength="134" lengthAdjust="spacingAndGlyphs">Highcharts.com</text>
</svg></body></html>
